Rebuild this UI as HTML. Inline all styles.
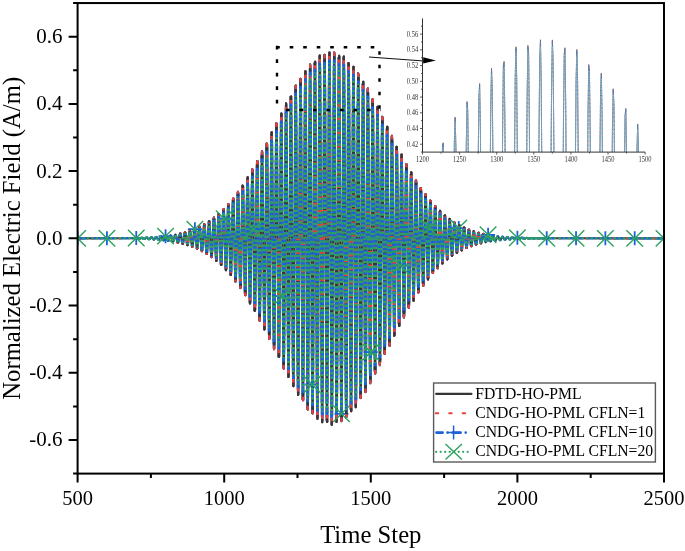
<!DOCTYPE html><html><head><meta charset="utf-8"><style>html,body{margin:0;padding:0;background:#fff;}body{width:685px;height:551px;overflow:hidden;}svg{display:block;will-change:transform;}text{font-family:"Liberation Serif",serif;}</style></head><body><svg width="685" height="551" viewBox="0 0 685 551"><defs><clipPath id="pc"><rect x="77.6" y="3.05" width="586.40" height="470.55"/></clipPath><clipPath id="ic"><rect x="422.5" y="18.4" width="222.60" height="133.70"/></clipPath></defs><g clip-path="url(#pc)" fill="none" stroke-linejoin="round"><polyline points="77.60,238.33 136.24,238.07 136.53,237.95 136.83,237.89 137.12,237.89 137.41,237.96 137.71,238.08 138.00,238.24 138.29,238.42 138.59,238.59 138.88,238.73 139.17,238.82 139.47,238.83 139.76,238.78 140.05,238.65 140.34,238.47 140.64,238.26 140.93,238.05 141.22,237.88 141.52,237.77 141.81,237.73 142.10,237.78 142.40,237.92 142.69,238.11 142.98,238.35 143.28,238.59 143.57,238.80 143.86,238.95 144.16,239.01 144.45,238.97 144.74,238.84 145.04,238.62 145.33,238.35 145.62,238.07 145.92,237.82 146.21,237.63 146.50,237.54 146.80,237.56 147.09,237.69 147.38,237.93 147.67,238.23 147.97,238.55 148.26,238.85 148.55,239.09 148.85,239.22 149.14,239.22 149.43,239.09 149.73,238.85 150.02,238.51 150.31,238.14 150.61,237.78 150.90,237.49 151.19,237.31 151.49,237.28 151.78,237.40 152.07,237.66 152.37,238.03 152.66,238.45 152.95,238.87 153.25,239.22 153.54,239.46 153.83,239.53 154.13,239.43 154.42,239.16 154.71,238.76 155.00,238.28 155.30,237.80 155.59,237.37 155.88,237.07 156.18,236.95 156.47,237.02 156.76,237.29 157.06,237.72 157.35,238.26 157.64,238.82 157.94,239.33 158.23,239.70 158.52,239.89 158.82,239.85 159.11,239.59 159.40,239.13 159.70,238.53 159.99,237.89 160.28,237.29 160.58,236.82 160.87,236.56 161.16,236.55 161.46,236.80 161.75,237.29 162.04,237.94 162.33,238.67 162.63,239.37 162.92,239.95 163.21,240.30 163.51,240.37 163.80,240.14 164.09,239.64 164.39,238.93 164.68,238.10 164.97,237.29 165.27,236.60 165.56,236.14 165.85,235.99 166.15,236.18 166.44,236.69 166.73,237.46 167.03,238.38 167.32,239.32 167.61,240.14 167.91,240.73 168.20,240.97 168.49,240.84 168.79,240.32 169.08,239.50 169.37,238.48 169.66,237.41 169.96,236.44 170.25,235.71 170.54,235.35 170.84,235.41 171.13,235.91 171.42,236.78 171.72,237.90 172.01,239.12 172.30,240.25 172.60,241.14 172.89,241.65 173.18,241.67 173.48,241.21 173.77,240.30 174.06,239.08 174.36,237.71 174.65,236.39 174.94,235.32 175.24,234.65 175.53,234.51 175.82,234.92 176.12,235.85 176.41,237.17 176.70,238.70 176.99,240.21 177.29,241.50 177.58,242.36 177.87,242.64 178.17,242.30 178.46,241.37 178.75,239.96 179.05,238.27 179.34,236.54 179.63,235.02 179.93,233.94 180.22,233.48 180.51,233.71 180.81,234.64 181.10,236.13 181.39,237.99 181.69,239.95 181.98,241.72 182.27,243.05 182.57,243.72 182.86,243.62 183.15,242.73 183.45,241.17 183.74,239.15 184.03,236.95 184.32,234.89 184.62,233.28 184.91,232.36 185.20,232.30 185.50,233.12 185.79,234.73 186.08,236.91 186.38,239.36 186.67,241.73 186.96,243.66 187.26,244.86 187.55,245.13 187.84,244.41 188.14,242.78 188.43,240.45 188.72,237.74 189.02,235.04 189.31,232.76 189.60,231.23 189.90,230.70 190.19,231.28 190.48,232.91 190.78,235.38 191.07,238.35 191.36,241.39 191.65,244.07 191.95,245.97 192.24,246.80 192.53,246.41 192.83,244.82 193.12,242.23 193.41,239.00 193.71,235.59 194.00,232.49 194.29,230.17 194.59,228.98 194.88,229.14 195.17,230.65 195.47,233.32 195.76,236.81 196.05,240.60 196.35,244.16 196.64,246.95 196.93,248.55 197.23,248.68 197.52,247.30 197.81,244.57 198.11,240.85 198.40,236.66 198.69,232.62 198.98,229.31 199.28,227.24 199.57,226.74 199.86,227.93 200.16,230.68 200.45,234.62 200.74,239.20 201.04,243.77 201.33,247.65 201.62,250.26 201.92,251.18 202.21,250.23 202.50,247.52 202.80,243.39 203.09,238.42 203.38,233.31 203.68,228.81 203.97,225.60 204.26,224.18 204.56,224.80 204.85,227.42 205.14,231.71 205.44,237.06 205.73,242.73 206.02,247.89 206.31,251.77 206.61,253.77 206.90,253.55 207.19,251.09 207.49,246.70 207.78,240.98 208.07,234.74 208.37,228.87 208.66,224.26 208.95,221.60 209.25,221.33 209.54,223.55 209.83,227.98 210.13,234.04 210.42,240.86 210.71,247.47 211.01,252.89 211.30,256.29 211.59,257.14 211.89,255.25 212.18,250.84 212.47,244.49 212.77,237.09 213.06,229.71 213.35,223.43 213.64,219.18 213.94,217.65 214.23,219.12 214.52,223.43 214.82,230.02 215.11,237.97 215.40,246.15 215.70,253.37 215.99,258.54 216.28,260.85 216.58,259.92 216.87,255.81 217.16,249.04 217.46,240.55 217.75,231.56 218.04,223.36 218.34,217.18 218.63,213.97 218.92,214.25 219.22,218.07 219.51,224.93 219.80,233.91 220.10,243.72 220.39,252.94 220.68,260.22 220.97,264.45 221.27,264.94 221.56,261.54 221.85,254.67 222.15,245.26 222.44,234.65 222.73,224.35 223.03,215.88 223.32,210.53 223.61,209.14 223.91,212.00 224.20,218.76 224.49,228.53 224.79,239.93 225.08,251.33 225.37,261.05 225.67,267.64 225.96,270.07 226.25,267.90 226.55,261.36 226.84,251.32 227.13,239.18 227.43,226.67 227.72,215.62 228.01,207.68 228.30,204.07 228.60,205.40 228.89,211.57 229.18,221.78 229.48,234.61 229.77,248.23 230.06,260.66 230.36,270.06 230.65,275.00 230.94,274.67 231.24,269.01 231.53,258.76 231.82,245.32 232.12,230.61 232.41,216.75 232.70,205.78 233.00,199.37 233.29,198.54 233.58,203.52 233.88,213.67 234.17,227.62 234.46,243.39 234.76,258.71 235.05,271.33 235.34,279.35 235.63,281.52 235.93,277.41 236.22,267.51 236.51,253.16 236.81,236.39 237.10,219.60 237.39,205.25 237.69,195.48 237.98,191.80 238.27,194.85 238.57,204.32 238.86,218.92 239.15,236.62 239.45,254.87 239.74,271.02 240.03,282.68 240.33,288.05 240.62,286.24 240.91,277.41 241.21,262.70 241.50,244.19 241.79,224.50 242.09,206.50 242.38,192.85 242.67,185.61 242.96,185.95 243.26,193.96 243.55,208.57 243.84,227.78 244.14,248.85 244.43,268.73 244.72,284.49 245.02,293.76 245.31,295.09 245.60,288.15 245.90,273.81 246.19,254.06 246.48,231.70 246.78,209.94 247.07,191.98 247.36,180.51 247.66,177.29 247.95,182.94 248.24,196.77 248.54,216.88 248.83,240.44 249.12,264.06 249.42,284.28 249.71,298.11 250.00,303.42 250.29,299.31 250.59,286.23 250.88,265.96 251.17,241.34 251.47,215.91 251.76,193.37 252.05,177.05 252.35,169.44 252.64,171.76 252.93,183.84 253.23,204.05 253.52,229.56 253.81,256.72 254.11,281.60 254.40,300.52 254.69,310.65 254.99,310.36 255.28,299.56 255.57,279.66 255.87,253.45 256.16,224.66 256.45,197.45 256.75,175.83 257.04,163.01 257.33,161.01 257.62,170.26 257.92,189.57 258.21,216.26 258.50,246.53 258.80,276.03 259.09,300.43 259.38,316.10 259.68,320.64 259.97,313.23 260.26,294.80 260.56,267.89 260.85,236.30 261.14,204.59 261.44,177.38 261.73,158.69 262.02,151.38 262.32,156.65 262.61,173.90 262.90,200.77 263.20,233.46 263.49,267.28 263.78,297.31 264.08,319.12 264.37,329.43 264.66,326.59 264.95,310.84 265.25,284.32 265.54,250.77 265.83,214.99 266.13,182.16 266.42,157.13 266.71,143.62 267.01,143.75 267.30,157.66 267.59,183.51 267.89,217.65 268.18,255.21 268.47,290.76 268.77,319.09 269.06,335.98 269.35,338.84 269.65,327.09 269.94,302.26 270.23,267.83 270.53,228.70 270.82,190.53 271.11,158.89 271.41,138.46 271.70,132.35 271.99,141.61 272.28,165.07 272.58,199.45 272.87,239.88 273.16,280.53 273.46,315.47 273.75,339.56 274.04,349.16 274.34,342.72 274.63,321.01 274.92,287.02 275.22,245.58 275.51,202.65 275.80,164.46 276.10,136.63 276.39,123.31 276.68,126.61 276.98,146.21 277.27,179.43 277.56,221.55 277.86,266.55 278.15,307.88 278.44,339.51 278.74,356.72 279.03,356.86 279.32,339.74 279.61,307.70 279.91,265.24 280.20,218.46 280.49,174.12 280.79,138.70 281.08,117.44 281.37,113.58 281.67,127.84 281.96,158.31 282.25,200.71 282.55,248.97 282.84,296.13 283.13,335.30 283.43,360.72 283.72,368.55 284.01,357.51 284.31,329.02 284.60,287.09 284.89,237.69 285.19,187.96 285.48,145.12 285.77,115.47 286.07,103.45 286.36,110.94 286.65,137.03 286.94,178.07 287.24,228.22 287.53,280.25 287.82,326.61 288.12,360.51 288.41,376.91 288.70,373.29 289.00,350.01 289.29,310.30 289.58,259.81 289.88,205.80 290.17,156.10 290.46,117.98 290.76,97.06 291.05,96.53 291.34,116.61 291.64,154.54 291.93,204.93 292.22,260.55 292.52,313.35 292.81,355.62 293.10,381.15 293.40,386.09 293.69,369.59 293.98,333.89 294.27,284.05 294.57,227.22 294.86,171.61 295.15,125.32 295.45,95.14 295.74,85.57 296.03,98.13 296.33,131.16 296.62,179.97 296.91,237.58 297.21,295.67 297.50,345.80 297.79,380.63 298.09,394.99 298.38,386.69 298.67,356.77 298.97,309.46 299.26,251.53 299.55,191.33 299.85,137.61 300.14,98.20 300.43,78.92 300.73,82.68 301.02,109.08 301.31,154.40 301.60,212.16 301.90,274.05 302.19,331.08 302.48,374.96 302.78,399.22 303.07,400.25 303.36,377.76 303.66,334.91 303.95,277.81 304.24,214.68 304.54,154.67 304.83,106.51 305.12,77.25 305.42,71.24 305.71,89.46 306.00,129.38 306.30,185.31 306.59,249.19 306.88,311.80 307.18,364.02 307.47,398.22 307.76,409.37 308.06,395.74 308.35,359.19 308.64,304.95 308.93,240.80 309.23,176.03 309.52,120.04 309.81,80.99 310.11,64.61 310.40,73.39 310.69,106.13 310.99,158.19 311.28,222.07 311.57,288.55 311.87,347.98 312.16,391.72 312.45,413.35 312.75,409.66 313.04,381.10 313.33,331.72 313.63,268.63 313.92,200.94 314.21,138.45 314.51,90.26 314.80,63.40 315.09,61.83 315.39,85.86 315.68,132.07 315.97,193.84 316.26,262.23 316.56,327.34 316.85,379.72 317.14,411.73 317.44,418.67 317.73,399.48 318.02,356.86 318.32,296.95 318.61,228.40 318.90,161.12 319.20,104.89 319.49,67.88 319.78,55.51 320.08,69.62 320.37,108.22 320.66,165.76 320.96,233.93 321.25,302.87 321.54,362.58 321.84,404.38 322.13,422.18 322.42,413.35 322.72,379.14 323.01,324.46 323.30,257.22 323.59,187.14 323.89,124.38 324.18,78.05 324.47,54.90 324.77,58.30 325.06,87.79 325.35,139.14 325.65,204.91 325.94,275.59 326.23,340.94 326.53,391.48 326.82,419.86 327.11,421.96 327.41,397.46 327.70,349.88 327.99,286.11 328.29,215.38 328.58,147.93 328.87,93.56 329.17,60.13 329.46,52.51 329.75,71.81 330.05,115.23 330.34,176.49 330.63,246.71 330.92,315.73 331.22,373.53 331.51,411.75 331.80,424.84 332.10,410.92 332.39,372.00 332.68,313.74 332.98,244.57 333.27,174.52 333.56,113.75 333.86,71.04 334.15,52.58 334.44,61.03 334.74,95.15 335.03,149.97 335.32,217.54 335.62,288.07 335.91,351.33 336.20,398.17 336.50,421.83 336.79,418.89 337.08,389.82 337.38,338.85 337.67,273.39 337.96,202.94 338.25,137.70 338.55,87.12 338.84,58.49 339.13,55.94 339.43,79.79 339.72,126.55 340.01,189.40 340.31,259.23 340.60,325.91 340.89,379.80 341.19,413.11 341.48,421.06 341.77,402.56 342.07,360.33 342.36,300.53 342.65,231.86 342.95,164.28 343.24,107.56 343.53,69.90 343.83,56.69 344.12,69.79 344.41,107.23 344.71,163.55 345.00,230.54 345.29,298.48 345.58,357.53 345.88,399.18 346.17,417.44 346.46,409.75 346.76,377.28 347.05,324.81 347.34,259.99 347.64,192.24 347.93,131.36 348.22,86.15 348.52,63.09 348.81,65.45 349.10,92.80 349.40,141.10 349.69,203.29 349.98,270.32 350.28,332.49 350.57,380.82 350.86,408.37 351.16,411.23 351.45,389.08 351.74,345.22 352.04,286.08 352.33,220.27 352.62,157.34 352.91,106.36 353.21,74.68 353.50,66.78 353.79,83.71 354.09,122.91 354.38,178.63 354.67,242.73 354.97,305.91 355.26,359.03 355.55,394.47 355.85,407.18 356.14,395.42 356.43,361.03 356.73,309.06 357.02,247.13 357.31,184.22 357.61,129.45 357.90,90.68 358.19,73.44 358.49,80.11 358.78,109.61 359.07,157.55 359.37,216.90 359.66,279.03 359.95,334.95 360.24,376.60 360.54,398.05 360.83,396.31 361.12,371.76 361.42,328.07 361.71,271.67 362.00,210.78 362.30,154.22 362.59,110.15 362.88,84.84 363.18,81.86 363.47,101.49 363.76,140.76 364.06,193.87 364.35,253.08 364.64,309.79 364.94,355.81 365.23,384.58 365.52,392.05 365.82,377.27 366.11,342.53 366.40,292.97 366.70,235.85 366.99,179.48 367.28,131.98 367.57,100.15 367.87,88.50 368.16,98.55 368.45,128.71 368.75,174.48 369.04,229.14 369.33,284.73 369.63,333.23 369.92,367.68 370.21,383.20 370.51,377.71 370.80,352.13 371.09,310.33 371.39,258.44 371.68,204.05 371.97,155.02 372.27,118.39 372.56,99.35 372.85,100.51 373.15,121.55 373.44,159.27 373.73,208.09 374.03,260.89 374.32,310.00 374.61,348.38 374.90,370.56 375.20,373.48 375.49,356.88 375.78,323.32 376.08,277.78 376.37,226.93 376.66,178.16 376.96,138.49 377.25,113.56 377.54,106.84 377.84,119.14 378.13,148.53 378.42,190.61 378.72,239.19 379.01,287.22 379.30,327.76 379.60,355.03 379.89,365.23 380.18,357.04 380.48,331.80 380.77,293.32 381.06,247.26 381.36,200.36 381.65,159.37 381.94,130.15 382.23,116.81 382.53,121.12 382.82,142.28 383.11,177.08 383.41,220.37 383.70,265.83 383.99,306.87 384.29,337.62 384.58,353.75 384.87,353.08 385.17,335.88 385.46,304.79 385.75,264.44 386.05,220.74 386.34,180.03 386.63,148.14 386.93,129.58 387.22,126.88 387.51,140.28 387.81,167.66 388.10,204.93 388.39,246.62 388.69,286.66 388.98,319.31 389.27,339.93 389.56,345.68 389.86,335.91 390.15,312.18 390.44,278.08 390.74,238.63 391.03,199.57 391.32,166.54 391.62,144.23 391.91,135.72 392.20,142.09 392.50,162.25 392.79,193.13 393.08,230.17 393.38,267.95 393.67,301.02 393.96,324.67 394.26,335.61 394.55,332.41 394.84,315.69 395.14,288.04 395.43,253.55 395.72,217.29 396.02,184.50 396.31,159.86 396.60,146.82 396.89,147.11 397.19,160.54 397.48,185.00 397.77,216.83 398.07,251.36 398.36,283.58 398.65,308.87 398.95,323.69 399.24,326.04 399.53,315.72 399.83,294.40 400.12,265.28 400.41,232.65 400.71,201.27 401.00,175.63 401.29,159.35 401.59,154.65 401.88,162.06 402.17,180.35 402.47,206.73 402.76,237.31 403.05,267.63 403.35,293.31 403.64,310.74 403.93,317.51 404.22,312.79 404.52,297.42 404.81,273.76 405.10,245.33 405.40,216.28 405.69,190.81 405.98,172.53 406.28,163.98 406.57,166.24 406.86,178.84 407.16,199.82 407.45,226.04 407.74,253.65 408.04,278.66 408.33,297.51 408.62,307.57 408.92,307.53 409.21,297.53 409.50,279.16 409.80,255.19 410.09,229.15 410.38,204.81 410.68,185.65 410.97,174.36 411.26,172.43 411.55,180.01 411.85,195.86 412.14,217.58 412.43,241.95 412.73,265.43 413.02,284.65 413.31,296.92 413.61,300.57 413.90,295.22 414.19,281.77 414.49,262.28 414.78,239.65 415.07,217.19 415.37,198.12 415.66,185.13 415.95,179.99 416.25,183.32 416.54,194.50 416.83,211.81 417.13,232.65 417.42,253.97 417.71,272.69 418.01,286.17 418.30,292.56 418.59,291.05 418.88,281.98 419.18,266.79 419.47,247.76 419.76,227.69 420.06,209.48 420.35,195.71 420.64,188.30 420.94,188.21 421.23,195.31 421.52,208.48 421.82,225.71 422.11,244.47 422.40,262.02 422.70,275.86 422.99,284.08 423.28,285.58 423.58,280.27 423.87,269.02 424.16,253.56 424.46,236.18 424.75,219.41 425.04,205.65 425.34,196.83 425.63,194.12 425.92,197.81 426.21,207.26 426.51,221.00 426.80,236.98 427.09,252.87 427.39,266.38 427.68,275.63 427.97,279.35 428.27,277.11 428.56,269.34 428.85,257.26 429.15,242.68 429.44,227.74 429.73,214.60 430.03,205.11 430.32,200.56 430.61,201.52 430.91,207.74 431.20,218.24 431.49,231.43 431.79,245.36 432.08,258.02 432.37,267.61 432.67,272.81 432.96,272.97 433.25,268.15 433.54,259.14 433.84,247.31 434.13,234.43 434.42,222.35 434.72,212.79 435.01,207.09 435.30,205.98 435.60,209.53 435.89,217.15 436.18,227.66 436.48,239.49 436.77,250.92 437.06,260.32 437.36,266.38 437.65,268.29 437.94,265.86 438.24,259.53 438.53,250.29 438.82,239.51 439.12,228.78 439.41,219.64 439.70,213.36 440.00,210.79 440.29,212.23 440.58,217.38 440.87,225.43 441.17,235.16 441.46,245.15 441.75,253.96 442.05,260.34 442.34,263.43 442.63,262.85 442.93,258.77 443.22,251.84 443.51,243.12 443.81,233.90 444.10,225.50 444.39,219.12 444.69,215.63 444.98,215.46 445.27,218.58 445.57,224.47 445.86,232.22 446.15,240.67 446.45,248.61 446.74,254.90 447.03,258.68 447.33,259.46 447.62,257.19 447.91,252.27 448.20,245.45 448.50,237.76 448.79,230.32 449.08,224.19 449.38,220.22 449.67,218.94 449.96,220.46 450.26,224.51 450.55,230.45 450.84,237.39 451.14,244.30 451.43,250.21 451.72,254.28 452.02,255.97 452.31,255.09 452.60,251.83 452.90,246.71 453.19,240.51 453.48,234.13 453.78,228.50 454.07,224.40 454.36,222.40 454.66,222.72 454.95,225.27 455.24,229.64 455.53,235.15 455.83,240.98 456.12,246.30 456.41,250.35 456.71,252.59 457.00,252.72 457.29,250.80 457.59,247.13 457.88,242.28 458.17,236.99 458.47,232.01 458.76,228.05 459.05,225.66 459.35,225.14 459.64,226.52 459.93,229.56 460.23,233.78 460.52,238.55 460.81,243.18 461.11,246.99 461.40,249.47 461.69,250.30 461.99,249.39 462.28,246.92 462.57,243.27 462.86,239.01 463.16,234.76 463.45,231.12 463.74,228.60 464.04,227.54 464.33,228.04 464.62,230.01 464.92,233.12 465.21,236.90 465.50,240.79 465.80,244.22 466.09,246.73 466.38,247.97 466.68,247.80 466.97,246.27 467.26,243.65 467.56,240.33 467.85,236.81 468.14,233.59 468.44,231.14 468.73,229.77 469.02,229.67 469.32,230.80 469.61,232.99 469.90,235.88 470.19,239.05 470.49,242.03 470.78,244.40 471.07,245.84 471.37,246.17 471.66,245.37 471.95,243.58 472.25,241.09 472.54,238.26 472.83,235.52 473.13,233.25 473.42,231.77 473.71,231.27 474.01,231.78 474.30,233.23 474.59,235.36 474.89,237.86 475.18,240.36 475.47,242.50 475.77,243.99 476.06,244.62 476.35,244.34 476.65,243.21 476.94,241.41 477.23,239.21 477.52,236.95 477.82,234.95 478.11,233.48 478.40,232.75 478.70,232.83 478.99,233.70 479.28,235.21 479.58,237.12 479.87,239.15 480.16,241.00 480.46,242.42 480.75,243.22 481.04,243.29 481.34,242.65 481.63,241.41 481.92,239.77 482.22,237.96 482.51,236.25 482.80,234.89 483.10,234.06 483.39,233.86 483.68,234.31 483.98,235.32 484.27,236.72 484.56,238.32 484.85,239.87 485.15,241.16 485.44,242.00 485.73,242.30 486.03,242.02 486.32,241.21 486.61,240.02 486.91,238.62 487.20,237.22 487.49,236.02 487.79,235.18 488.08,234.81 488.37,234.96 488.67,235.59 488.96,236.58 489.25,237.80 489.55,239.06 489.84,240.17 490.13,240.99 490.43,241.40 490.72,241.36 491.01,240.89 491.31,240.07 491.60,239.02 491.89,237.90 492.18,236.88 492.48,236.09 492.77,235.65 493.06,235.60 493.36,235.95 493.65,236.62 493.94,237.52 494.24,238.50 494.53,239.43 494.82,240.17 495.12,240.63 495.41,240.74 495.70,240.51 496.00,239.97 496.29,239.21 496.58,238.35 496.88,237.51 497.17,236.81 497.46,236.35 497.76,236.19 498.05,236.34 498.34,236.76 498.64,237.40 498.93,238.15 499.22,238.90 499.51,239.54 499.81,239.99 500.10,240.19 500.39,240.12 500.69,239.79 500.98,239.26 501.27,238.62 501.57,237.95 501.86,237.36 502.15,236.93 502.45,236.70 502.74,236.72 503.03,236.97 503.33,237.40 503.62,237.95 503.91,238.53 504.21,239.07 504.50,239.49 504.79,239.72 505.09,239.75 505.38,239.57 505.67,239.22 505.97,238.76 506.26,238.25 506.55,237.76 506.84,237.37 507.14,237.13 507.43,237.07 507.72,237.19 508.02,237.47 508.31,237.86 508.60,238.30 508.90,238.73 509.19,239.09 509.48,239.33 509.78,239.42 510.07,239.35 510.36,239.13 510.66,238.81 510.95,238.43 511.24,238.04 511.54,237.71 511.83,237.48 512.12,237.38 512.42,237.41 512.71,237.58 513.00,237.84 513.30,238.17 513.59,238.50 513.88,238.80 514.17,239.03 514.47,239.14 514.76,239.13 515.05,239.01 515.35,238.80 515.64,238.52 515.93,238.23 516.23,237.96 516.52,237.75 516.81,237.63 517.11,237.61 517.40,237.70 517.69,237.87 517.99,238.10 518.28,238.36 518.57,238.60 518.87,238.79 519.16,238.91 519.45,238.94 519.75,238.89 520.04,238.75 520.33,238.56 520.63,238.34 520.92,238.13 521.21,237.95 521.50,237.83 521.80,237.79 522.09,237.82 522.38,237.93 522.68,238.09 522.97,238.27 523.26,238.46 523.56,238.62 523.85,238.73 524.14,238.78 524.44,238.77 524.73,238.69 525.02,238.56 525.32,238.41 525.61,238.24 525.90,238.10 526.20,237.99 526.49,237.93 526.78,237.94 527.08,237.99 527.37,238.10 527.66,238.23 527.96,238.37 528.25,238.50 528.54,238.60 528.83,238.66 529.13,238.66 529.42,238.62 529.71,238.54 530.01,238.43 530.30,238.31 530.59,238.20 530.89,238.11 531.18,238.05 531.47,238.03 531.77,238.06 532.06,238.12 532.35,238.21 532.65,238.31 532.94,238.41 533.23,238.50 533.53,238.55 533.82,238.58 534.11,238.56 534.41,238.51 534.70,238.44 534.99,238.35 535.29,238.27 535.58,238.19 535.87,238.14 536.16,238.11 536.46,238.12 536.75,238.16 537.04,238.21 537.34,238.29 537.63,238.36 537.92,238.43 538.22,238.48 538.51,238.50 538.80,238.50 539.10,238.48 539.39,238.43 539.68,238.37 539.98,238.31 540.27,238.25 540.56,238.20 540.86,238.18 541.15,238.17 541.44,238.19 541.74,238.23 542.03,238.27 542.32,238.33 542.62,238.38 542.91,238.42 543.20,238.45 543.49,238.46 543.79,238.45 544.08,238.42 544.37,238.38 544.67,238.33 544.96,238.29 545.25,238.25 545.55,238.22 545.84,238.21 546.13,238.22 546.43,238.24 546.72,238.27 664.00,238.33" stroke="#353535" stroke-width="2.15"/><path d="M77.60 238.33L136.24 238.07L136.53 237.95L136.83 237.89L137.12 237.89L137.41 237.96L137.71 238.08L138.00 238.24L138.14 238.33M544.71 238.33L544.96 238.29L545.25 238.25L545.55 238.22L545.84 238.21L546.13 238.22L546.43 238.24L546.72 238.27L664.00 238.33" stroke="#e8403c" stroke-width="2.15" stroke-dasharray="4 9.5"/><path d="M138.14 238.33L138.29 238.42L138.59 238.59L138.88 238.73L139.17 238.82L139.47 238.83L139.76 238.78L140.05 238.65L140.34 238.47L140.54 238.32M140.54 238.32L140.64 238.26L140.93 238.05L141.22 237.88L141.52 237.77L141.81 237.73L142.10 237.78L142.40 237.92L142.69 238.11L142.95 238.33M142.95 238.33L142.98 238.35L143.28 238.59L143.57 238.80L143.86 238.95L144.16 239.01L144.45 238.97L144.74 238.84L145.04 238.62L145.33 238.35L145.36 238.33M145.36 238.33L145.62 238.07L145.92 237.82L146.21 237.63L146.50 237.54L146.80 237.56L147.09 237.69L147.38 237.93L147.67 238.23L147.76 238.33M147.76 238.33L147.97 238.55L148.26 238.85L148.55 239.09L148.85 239.22L149.14 239.22L149.43 239.09L149.73 238.85L150.02 238.51L150.17 238.32M150.17 238.32L150.31 238.14L150.61 237.78L150.90 237.49L151.19 237.31L151.49 237.28L151.78 237.40L152.07 237.66L152.37 238.03L152.57 238.33M152.57 238.33L152.66 238.45L152.95 238.87L153.25 239.22L153.54 239.46L153.83 239.53L154.13 239.43L154.42 239.16L154.71 238.76L154.98 238.33M154.98 238.33L155.00 238.28L155.30 237.80L155.59 237.37L155.88 237.07L156.18 236.95L156.47 237.02L156.76 237.29L157.06 237.72L157.35 238.26L157.39 238.33M157.39 238.33L157.64 238.82L157.94 239.33L158.23 239.70L158.52 239.89L158.82 239.85L159.11 239.59L159.40 239.13L159.70 238.53L159.79 238.33M159.79 238.33L159.99 237.89L160.28 237.29L160.58 236.82L160.87 236.56L161.16 236.55L161.46 236.80L161.75 237.29L162.04 237.94L162.20 238.33M162.20 238.33L162.33 238.67L162.63 239.37L162.92 239.95L163.21 240.30L163.51 240.37L163.80 240.14L164.09 239.64L164.39 238.93L164.60 238.33M164.60 238.33L164.68 238.10L164.97 237.29L165.27 236.60L165.56 236.14L165.85 235.99L166.15 236.18L166.44 236.69L166.73 237.46L167.01 238.33M167.01 238.33L167.03 238.38L167.32 239.32L167.61 240.14L167.91 240.73L168.20 240.97L168.49 240.84L168.79 240.32L169.08 239.50L169.37 238.48L169.41 238.33M169.41 238.33L169.66 237.41L169.96 236.44L170.25 235.71L170.54 235.35L170.84 235.41L171.13 235.91L171.42 236.78L171.72 237.90L171.82 238.33M171.82 238.33L172.01 239.12L172.30 240.25L172.60 241.14L172.89 241.65L173.18 241.67L173.48 241.21L173.77 240.30L174.06 239.08L174.22 238.33M174.22 238.33L174.36 237.71L174.65 236.39L174.94 235.32L175.24 234.65L175.53 234.51L175.82 234.92L176.12 235.85L176.41 237.17L176.63 238.33M185.20 232.30L184.91 232.36L184.62 233.28L184.32 234.89L184.03 236.95L183.85 238.33M185.20 232.30L185.50 233.12L185.79 234.73L186.08 236.91L186.25 238.32M194.59 228.98L194.29 230.17L194.00 232.49L193.71 235.59L193.47 238.33M194.59 228.98L194.88 229.14L195.17 230.65L195.47 233.32L195.76 236.81L195.88 238.33M250.00 303.42L249.71 298.11L249.42 284.28L249.12 264.06L248.83 240.44L248.80 238.33M250.00 303.42L250.29 299.31L250.59 286.23L250.88 265.96L251.17 241.34L251.21 238.33M259.68 320.64L259.38 316.10L259.09 300.43L258.80 276.03L258.50 246.53L258.42 238.33M259.68 320.64L259.97 313.23L260.26 294.80L260.56 267.89L260.83 238.33M300.43 78.92L300.14 98.20L299.85 137.61L299.55 191.33L299.32 238.32M300.43 78.92L300.73 82.68L301.02 109.08L301.31 154.40L301.60 212.16L301.73 238.32M303.07 400.25L302.78 399.22L302.48 374.96L302.19 331.08L301.90 274.05L301.73 238.32M303.07 400.25L303.36 377.76L303.66 334.91L303.95 277.81L304.13 238.33M346.17 417.44L345.88 399.18L345.58 357.53L345.29 298.48L345.03 238.33M346.17 417.44L346.46 409.75L346.76 377.28L347.05 324.81L347.34 259.99L347.44 238.33M391.91 135.72L391.62 144.23L391.32 166.54L391.03 199.57L390.74 238.33M391.91 135.72L392.20 142.09L392.50 162.25L392.79 193.13L393.08 230.17L393.15 238.32M411.26 172.43L410.97 174.36L410.68 185.65L410.38 204.81L410.09 229.15L409.99 238.33M411.26 172.43L411.55 180.01L411.85 195.86L412.14 217.58L412.39 238.33M413.61 300.57L413.31 296.92L413.02 284.65L412.73 265.43L412.43 241.95L412.39 238.33M413.61 300.57L413.90 295.22L414.19 281.77L414.49 262.28L414.78 239.65L414.80 238.32M427.97 279.35L427.68 275.63L427.39 266.38L427.09 252.87L426.83 238.32M427.97 279.35L428.27 277.11L428.56 269.34L428.85 257.26L429.15 242.68L429.23 238.33M464.04 227.54L463.74 228.60L463.45 231.12L463.16 234.76L462.91 238.33M464.04 227.54L464.33 228.04L464.62 230.01L464.92 233.12L465.21 236.90L465.32 238.33M471.37 246.17L471.07 245.84L470.78 244.40L470.49 242.03L470.19 239.05L470.13 238.33M471.37 246.17L471.66 245.37L471.95 243.58L472.25 241.09L472.53 238.33M484.56 238.33L484.85 239.87L485.15 241.16L485.44 242.00L485.73 242.30L486.03 242.02L486.32 241.21L486.61 240.02L486.91 238.62L486.97 238.32M486.97 238.32L487.20 237.22L487.49 236.02L487.79 235.18L488.08 234.81L488.37 234.96L488.67 235.59L488.96 236.58L489.25 237.80L489.38 238.33M489.38 238.33L489.55 239.06L489.84 240.17L490.13 240.99L490.43 241.40L490.72 241.36L491.01 240.89L491.31 240.07L491.60 239.02L491.78 238.33M491.78 238.33L491.89 237.90L492.18 236.88L492.48 236.09L492.77 235.65L493.06 235.60L493.36 235.95L493.65 236.62L493.94 237.52L494.19 238.32M494.19 238.32L494.24 238.50L494.53 239.43L494.82 240.17L495.12 240.63L495.41 240.74L495.70 240.51L496.00 239.97L496.29 239.21L496.58 238.35L496.59 238.33M496.59 238.33L496.88 237.51L497.17 236.81L497.46 236.35L497.76 236.19L498.05 236.34L498.34 236.76L498.64 237.40L498.93 238.15L499.00 238.33M499.00 238.33L499.22 238.90L499.51 239.54L499.81 239.99L500.10 240.19L500.39 240.12L500.69 239.79L500.98 239.26L501.27 238.62L501.40 238.32M501.40 238.32L501.57 237.95L501.86 237.36L502.15 236.93L502.45 236.70L502.74 236.72L503.03 236.97L503.33 237.40L503.62 237.95L503.81 238.33M503.81 238.33L503.91 238.53L504.21 239.07L504.50 239.49L504.79 239.72L505.09 239.75L505.38 239.57L505.67 239.22L505.97 238.76L506.21 238.32M506.21 238.32L506.26 238.25L506.55 237.76L506.84 237.37L507.14 237.13L507.43 237.07L507.72 237.19L508.02 237.47L508.31 237.86L508.60 238.30L508.62 238.33M508.62 238.33L508.90 238.73L509.19 239.09L509.48 239.33L509.78 239.42L510.07 239.35L510.36 239.13L510.66 238.81L510.95 238.43L511.03 238.32M511.03 238.32L511.24 238.04L511.54 237.71L511.83 237.48L512.12 237.38L512.42 237.41L512.71 237.58L513.00 237.84L513.30 238.17L513.43 238.33M513.43 238.33L513.59 238.50L513.88 238.80L514.17 239.03L514.47 239.14L514.76 239.13L515.05 239.01L515.35 238.80L515.64 238.52L515.84 238.33M515.84 238.33L515.93 238.23L516.23 237.96L516.52 237.75L516.81 237.63L517.11 237.61L517.40 237.70L517.69 237.87L517.99 238.10L518.24 238.33M518.24 238.33L518.28 238.36L518.57 238.60L518.87 238.79L519.16 238.91L519.45 238.94L519.75 238.89L520.04 238.75L520.33 238.56L520.63 238.34L520.65 238.32M520.65 238.32L520.92 238.13L521.21 237.95L521.50 237.83L521.80 237.79L522.09 237.82L522.38 237.93L522.68 238.09L522.97 238.27L523.06 238.33M523.06 238.33L523.26 238.46L523.56 238.62L523.85 238.73L524.14 238.78L524.44 238.77L524.73 238.69L525.02 238.56L525.32 238.41L525.46 238.33M525.46 238.33L525.61 238.24L525.90 238.10L526.20 237.99L526.49 237.93L526.78 237.94L527.08 237.99L527.37 238.10L527.66 238.23L527.87 238.32M527.87 238.32L527.96 238.37L528.25 238.50L528.54 238.60L528.83 238.66L529.13 238.66L529.42 238.62L529.71 238.54L530.01 238.43L530.27 238.33M530.27 238.33L530.30 238.31L530.59 238.20L530.89 238.11L531.18 238.05L531.47 238.03L531.77 238.06L532.06 238.12L532.35 238.21L532.65 238.31L532.68 238.33M532.68 238.33L532.94 238.41L533.23 238.50L533.53 238.55L533.82 238.58L534.11 238.56L534.41 238.51L534.70 238.44L534.99 238.35L535.08 238.33M535.08 238.33L535.29 238.27L535.58 238.19L535.87 238.14L536.16 238.11L536.46 238.12L536.75 238.16L537.04 238.21L537.34 238.29L537.49 238.33M537.49 238.33L537.63 238.36L537.92 238.43L538.22 238.48L538.51 238.50L538.80 238.50L539.10 238.48L539.39 238.43L539.68 238.37L539.89 238.33M539.89 238.33L539.98 238.31L540.27 238.25L540.56 238.20L540.86 238.18L541.15 238.17L541.44 238.19L541.74 238.23L542.03 238.27L542.30 238.33M542.30 238.33L542.32 238.33L542.62 238.38L542.91 238.42L543.20 238.45L543.49 238.46L543.79 238.45L544.08 238.42L544.37 238.38L544.67 238.33L544.71 238.33" stroke="#e8403c" stroke-width="2.15" stroke-dasharray="4 9.5" stroke-dashoffset="7.51"/><path d="M180.22 233.48L179.93 233.94L179.63 235.02L179.34 236.54L179.05 238.27L179.04 238.33M180.22 233.48L180.51 233.71L180.81 234.64L181.10 236.13L181.39 237.99L181.44 238.33M449.67 218.94L449.38 220.22L449.08 224.19L448.79 230.32L448.50 237.76L448.48 238.32M449.67 218.94L449.96 220.46L450.26 224.51L450.55 230.45L450.84 237.39L450.88 238.32" stroke="#e8403c" stroke-width="2.15" stroke-dasharray="4 9.5" stroke-dashoffset="4.40"/><path d="M197.23 248.68L196.93 248.55L196.64 246.95L196.35 244.16L196.05 240.60L195.88 238.33M197.23 248.68L197.52 247.30L197.81 244.57L198.11 240.85L198.28 238.33M233.29 198.54L233.00 199.37L232.70 205.78L232.41 216.75L232.12 230.61L231.96 238.33M233.29 198.54L233.58 203.52L233.88 213.67L234.17 227.62L234.37 238.32M264.37 329.43L264.08 319.12L263.78 297.31L263.49 267.28L263.24 238.33M264.37 329.43L264.66 326.59L264.95 310.84L265.25 284.32L265.54 250.77L265.64 238.33M324.47 54.90L324.18 78.05L323.89 124.38L323.59 187.14L323.38 238.33M324.47 54.90L324.77 58.30L325.06 87.79L325.35 139.14L325.65 204.91L325.79 238.33M353.50 66.78L353.21 74.68L352.91 106.36L352.62 157.34L352.33 220.27L352.25 238.33M353.50 66.78L353.79 83.71L354.09 122.91L354.38 178.63L354.65 238.33M372.56 99.35L372.27 118.39L371.97 155.02L371.68 204.05L371.49 238.32M372.56 99.35L372.85 100.51L373.15 121.55L373.44 159.27L373.73 208.09L373.90 238.33M382.23 116.81L381.94 130.15L381.65 159.37L381.36 200.36L381.12 238.32M382.23 116.81L382.53 121.12L382.82 142.28L383.11 177.08L383.41 220.37L383.52 238.32" stroke="#e8403c" stroke-width="2.15" stroke-dasharray="4 9.5" stroke-dashoffset="7.00"/><path d="M182.57 243.72L182.27 243.05L181.98 241.72L181.69 239.95L181.44 238.33M182.57 243.72L182.86 243.62L183.15 242.73L183.45 241.17L183.74 239.15L183.85 238.33M189.90 230.70L189.60 231.23L189.31 232.76L189.02 235.04L188.72 237.74L188.66 238.32M189.90 230.70L190.19 231.28L190.48 232.91L190.78 235.38L191.07 238.33M216.28 260.85L215.99 258.54L215.70 253.37L215.40 246.15L215.12 238.32M216.28 260.85L216.58 259.92L216.87 255.81L217.16 249.04L217.46 240.55L217.53 238.32M218.63 213.97L218.34 217.18L218.04 223.36L217.75 231.56L217.53 238.32M218.63 213.97L218.92 214.25L219.22 218.07L219.51 224.93L219.80 233.91L219.93 238.33M237.98 191.80L237.69 195.48L237.39 205.25L237.10 219.60L236.81 236.39L236.77 238.33M237.98 191.80L238.27 194.85L238.57 204.32L238.86 218.92L239.15 236.62L239.18 238.33M329.46 52.51L329.17 60.13L328.87 93.56L328.58 147.93L328.29 215.38L328.19 238.33M329.46 52.51L329.75 71.81L330.05 115.23L330.34 176.49L330.60 238.32M355.85 407.18L355.55 394.47L355.26 359.03L354.97 305.91L354.67 242.73L354.65 238.33M355.85 407.18L356.14 395.42L356.43 361.03L356.73 309.06L357.02 247.13L357.06 238.33M415.95 179.99L415.66 185.13L415.37 198.12L415.07 217.19L414.80 238.32M415.95 179.99L416.25 183.32L416.54 194.50L416.83 211.81L417.13 232.65L417.20 238.33M483.39 233.86L483.10 234.06L482.80 234.89L482.51 236.25L482.22 237.96L482.16 238.32M483.39 233.86L483.68 234.31L483.98 235.32L484.27 236.72L484.56 238.32L484.56 238.33" stroke="#e8403c" stroke-width="2.15" stroke-dasharray="4 9.5" stroke-dashoffset="7.50"/><path d="M187.55 245.13L187.26 244.86L186.96 243.66L186.67 241.73L186.38 239.36L186.25 238.32M187.55 245.13L187.84 244.41L188.14 242.78L188.43 240.45L188.66 238.32M204.26 224.18L203.97 225.60L203.68 228.81L203.38 233.31L203.09 238.32M204.26 224.18L204.56 224.80L204.85 227.42L205.14 231.71L205.44 237.06L205.50 238.33M235.63 281.52L235.34 279.35L235.05 271.33L234.76 258.71L234.46 243.39L234.37 238.32M235.63 281.52L235.93 277.41L236.22 267.51L236.51 253.16L236.77 238.33M257.33 161.01L257.04 163.01L256.75 175.83L256.45 197.45L256.16 224.66L256.02 238.32M257.33 161.01L257.62 170.26L257.92 189.57L258.21 216.26L258.42 238.33M389.56 345.68L389.27 339.93L388.98 319.31L388.69 286.66L388.39 246.62L388.33 238.33M389.56 345.68L389.86 335.91L390.15 312.18L390.44 278.08L390.74 238.63L390.74 238.33M394.26 335.61L393.96 324.67L393.67 301.02L393.38 267.95L393.15 238.32M394.26 335.61L394.55 332.41L394.84 315.69L395.14 288.04L395.43 253.55L395.55 238.32M399.24 326.04L398.95 323.69L398.65 308.87L398.36 283.58L398.07 251.36L397.96 238.33M399.24 326.04L399.53 315.72L399.83 294.40L400.12 265.28L400.36 238.32M406.28 163.98L405.98 172.53L405.69 190.81L405.40 216.28L405.18 238.32M406.28 163.98L406.57 166.24L406.86 178.84L407.16 199.82L407.45 226.04L407.58 238.33M408.62 307.57L408.33 297.51L408.04 278.66L407.74 253.65L407.58 238.33M408.62 307.57L408.92 307.53L409.21 297.53L409.50 279.16L409.80 255.19L409.99 238.33M418.30 292.56L418.01 286.17L417.71 272.69L417.42 253.97L417.20 238.33M418.30 292.56L418.59 291.05L418.88 281.98L419.18 266.79L419.47 247.76L419.61 238.33M447.33 259.46L447.03 258.68L446.74 254.90L446.45 248.61L446.15 240.67L446.07 238.32M447.33 259.46L447.62 257.19L447.91 252.27L448.20 245.45L448.48 238.32M459.35 225.14L459.05 225.66L458.76 228.05L458.47 232.01L458.17 236.99L458.10 238.32M459.35 225.14L459.64 226.52L459.93 229.56L460.23 233.78L460.51 238.32M461.69 250.30L461.40 249.47L461.11 246.99L460.81 243.18L460.52 238.55L460.51 238.32M461.69 250.30L461.99 249.39L462.28 246.92L462.57 243.27L462.86 239.01L462.91 238.33M473.71 231.27L473.42 231.77L473.13 233.25L472.83 235.52L472.54 238.26L472.53 238.33M473.71 231.27L474.01 231.78L474.30 233.23L474.59 235.36L474.89 237.86L474.94 238.32M478.40 232.75L478.11 233.48L477.82 234.95L477.52 236.95L477.35 238.33M478.40 232.75L478.70 232.83L478.99 233.70L479.28 235.21L479.58 237.12L479.75 238.33" stroke="#e8403c" stroke-width="2.15" stroke-dasharray="4 9.5" stroke-dashoffset="10.59"/><path d="M247.66 177.29L247.36 180.51L247.07 191.98L246.78 209.94L246.48 231.70L246.40 238.32M247.66 177.29L247.95 182.94L248.24 196.77L248.54 216.88L248.80 238.33M271.70 132.35L271.41 138.46L271.11 158.89L270.82 190.53L270.53 228.70L270.45 238.33M271.70 132.35L271.99 141.61L272.28 165.07L272.58 199.45L272.86 238.32M365.52 392.05L365.23 384.58L364.94 355.81L364.64 309.79L364.35 253.08L364.28 238.32M365.52 392.05L365.82 377.27L366.11 342.53L366.40 292.97L366.68 238.33M384.58 353.75L384.29 337.62L383.99 306.87L383.70 265.83L383.52 238.32M384.58 353.75L384.87 353.08L385.17 335.88L385.46 304.79L385.75 264.44L385.93 238.33M387.22 126.88L386.93 129.58L386.63 148.14L386.34 180.03L386.05 220.74L385.93 238.33M387.22 126.88L387.51 140.28L387.81 167.66L388.10 204.93L388.33 238.33M469.02 229.67L468.73 229.77L468.44 231.14L468.14 233.59L467.85 236.81L467.72 238.32M469.02 229.67L469.32 230.80L469.61 232.99L469.90 235.88L470.13 238.33M476.06 244.62L475.77 243.99L475.47 242.50L475.18 240.36L474.94 238.32M476.06 244.62L476.35 244.34L476.65 243.21L476.94 241.41L477.23 239.21L477.35 238.33" stroke="#e8403c" stroke-width="2.15" stroke-dasharray="4 9.5" stroke-dashoffset="1.43"/><path d="M199.57 226.74L199.28 227.24L198.98 229.31L198.69 232.62L198.40 236.66L198.28 238.33M199.57 226.74L199.86 227.93L200.16 230.68L200.45 234.62L200.69 238.33M252.35 169.44L252.05 177.05L251.76 193.37L251.47 215.91L251.21 238.33M252.35 169.44L252.64 171.76L252.93 183.84L253.23 204.05L253.52 229.56L253.61 238.33M283.72 368.55L283.43 360.72L283.13 335.30L282.84 296.13L282.55 248.97L282.48 238.32M283.72 368.55L284.01 357.51L284.31 329.02L284.60 287.09L284.89 238.33M293.40 386.09L293.10 381.15L292.81 355.62L292.52 313.35L292.22 260.55L292.11 238.32M293.40 386.09L293.69 369.59L293.98 333.89L294.27 284.05L294.51 238.33M312.45 413.35L312.16 391.72L311.87 347.98L311.57 288.55L311.35 238.32M312.45 413.35L312.75 409.66L313.04 381.10L313.33 331.72L313.63 268.63L313.76 238.32M336.50 421.83L336.20 398.17L335.91 351.33L335.62 288.07L335.41 238.32M336.50 421.83L336.79 418.89L337.08 389.82L337.38 338.85L337.67 273.39L337.81 238.32M341.48 421.06L341.19 413.11L340.89 379.80L340.60 325.91L340.31 259.23L340.22 238.33M341.48 421.06L341.77 402.56L342.07 360.33L342.36 300.53L342.63 238.33M360.54 398.05L360.24 376.60L359.95 334.95L359.66 279.03L359.47 238.33M360.54 398.05L360.83 396.31L361.12 371.76L361.42 328.07L361.71 271.67L361.87 238.33M423.28 285.58L422.99 284.08L422.70 275.86L422.40 262.02L422.11 244.47L422.01 238.33M423.28 285.58L423.58 280.27L423.87 269.02L424.16 253.56L424.42 238.33M425.63 194.12L425.34 196.83L425.04 205.65L424.75 219.41L424.46 236.18L424.42 238.33M425.63 194.12L425.92 197.81L426.21 207.26L426.51 221.00L426.80 236.98L426.83 238.32M432.96 272.97L432.67 272.81L432.37 267.61L432.08 258.02L431.79 245.36L431.64 238.32M432.96 272.97L433.25 268.15L433.54 259.14L433.84 247.31L434.04 238.32" stroke="#e8403c" stroke-width="2.15" stroke-dasharray="4 9.5" stroke-dashoffset="7.56"/><path d="M276.39 123.31L276.10 136.63L275.80 164.46L275.51 202.65L275.27 238.33M276.39 123.31L276.68 126.61L276.98 146.21L277.27 179.43L277.56 221.55L277.67 238.33M281.37 113.58L281.08 117.44L280.79 138.70L280.49 174.12L280.20 218.46L280.08 238.33M281.37 113.58L281.67 127.84L281.96 158.31L282.25 200.71L282.48 238.32M286.07 103.45L285.77 115.47L285.48 145.12L285.19 187.96L284.89 237.69L284.89 238.33M286.07 103.45L286.36 110.94L286.65 137.03L286.94 178.07L287.24 228.22L287.29 238.32M291.05 96.53L290.76 97.06L290.46 117.98L290.17 156.10L289.88 205.80L289.70 238.32M291.05 96.53L291.34 116.61L291.64 154.54L291.93 204.93L292.11 238.32M327.11 421.96L326.82 419.86L326.53 391.48L326.23 340.94L325.94 275.59L325.79 238.33M327.11 421.96L327.41 397.46L327.70 349.88L327.99 286.11L328.19 238.33M331.80 424.84L331.51 411.75L331.22 373.53L330.92 315.73L330.63 246.71L330.60 238.32M331.80 424.84L332.10 410.92L332.39 372.00L332.68 313.74L332.98 244.57L333.00 238.32M437.65 268.29L437.36 266.38L437.06 260.32L436.77 250.92L436.48 239.49L436.45 238.32M437.65 268.29L437.94 265.86L438.24 259.53L438.53 250.29L438.82 239.51L438.85 238.32" stroke="#e8403c" stroke-width="2.15" stroke-dasharray="4 9.5" stroke-dashoffset="3.35"/><path d="M206.61 253.77L206.31 251.77L206.02 247.89L205.73 242.73L205.50 238.33M206.61 253.77L206.90 253.55L207.19 251.09L207.49 246.70L207.78 240.98L207.91 238.32M242.67 185.61L242.38 192.85L242.09 206.50L241.79 224.50L241.59 238.32M242.67 185.61L242.96 185.95L243.26 193.96L243.55 208.57L243.84 227.78L243.99 238.33M266.71 143.62L266.42 157.13L266.13 182.16L265.83 214.99L265.64 238.33M266.71 143.62L267.01 143.75L267.30 157.66L267.59 183.51L267.89 217.65L268.05 238.32M305.42 71.24L305.12 77.25L304.83 106.51L304.54 154.67L304.24 214.68L304.13 238.33M305.42 71.24L305.71 89.46L306.00 129.38L306.30 185.31L306.54 238.32M310.11 64.61L309.81 80.99L309.52 120.04L309.23 176.03L308.95 238.32M310.11 64.61L310.40 73.39L310.69 106.13L310.99 158.19L311.28 222.07L311.35 238.32M430.32 200.56L430.03 205.11L429.73 214.60L429.44 227.74L429.23 238.33M430.32 200.56L430.61 201.52L430.91 207.74L431.20 218.24L431.49 231.43L431.64 238.32M442.34 263.43L442.05 260.34L441.75 253.96L441.46 245.15L441.26 238.33M442.34 263.43L442.63 262.85L442.93 258.77L443.22 251.84L443.51 243.12L443.67 238.33" stroke="#e8403c" stroke-width="2.15" stroke-dasharray="4 9.5" stroke-dashoffset="3.74"/><path d="M230.65 275.00L230.36 270.06L230.06 260.66L229.77 248.23L229.56 238.32M230.65 275.00L230.94 274.67L231.24 269.01L231.53 258.76L231.82 245.32L231.96 238.33M262.02 151.38L261.73 158.69L261.44 177.38L261.14 204.59L260.85 236.30L260.83 238.33M262.02 151.38L262.32 156.65L262.61 173.90L262.90 200.77L263.20 233.46L263.24 238.33M435.30 205.98L435.01 207.09L434.72 212.79L434.42 222.35L434.13 234.43L434.04 238.32M435.30 205.98L435.60 209.53L435.89 217.15L436.18 227.66L436.45 238.32" stroke="#e8403c" stroke-width="2.15" stroke-dasharray="4 9.5" stroke-dashoffset="10.43"/><path d="M177.87 242.64L177.58 242.36L177.29 241.50L176.99 240.21L176.70 238.70L176.63 238.33M177.87 242.64L178.17 242.30L178.46 241.37L178.75 239.96L179.04 238.33M240.33 288.05L240.03 282.68L239.74 271.02L239.45 254.87L239.18 238.33M240.33 288.05L240.62 286.24L240.91 277.41L241.21 262.70L241.50 244.19L241.59 238.32M279.03 356.86L278.74 356.72L278.44 339.51L278.15 307.88L277.86 266.55L277.67 238.33M279.03 356.86L279.32 339.74L279.61 307.70L279.91 265.24L280.08 238.33M339.13 55.94L338.84 58.49L338.55 87.12L338.25 137.70L337.96 202.94L337.81 238.32M339.13 55.94L339.43 79.79L339.72 126.55L340.01 189.40L340.22 238.33M370.21 383.20L369.92 367.68L369.63 333.23L369.33 284.73L369.09 238.33M370.21 383.20L370.51 377.71L370.80 352.13L371.09 310.33L371.39 258.44L371.49 238.32M440.00 210.79L439.70 213.36L439.41 219.64L439.12 228.78L438.85 238.32M440.00 210.79L440.29 212.23L440.58 217.38L440.87 225.43L441.17 235.16L441.26 238.33" stroke="#e8403c" stroke-width="2.15" stroke-dasharray="4 9.5" stroke-dashoffset="6.85"/><path d="M192.24 246.80L191.95 245.97L191.65 244.07L191.36 241.39L191.07 238.35L191.07 238.33M192.24 246.80L192.53 246.41L192.83 244.82L193.12 242.23L193.41 239.00L193.47 238.33M209.25 221.33L208.95 221.60L208.66 224.26L208.37 228.87L208.07 234.74L207.91 238.32M209.25 221.33L209.54 223.55L209.83 227.98L210.13 234.04L210.31 238.33M211.59 257.14L211.30 256.29L211.01 252.89L210.71 247.47L210.42 240.86L210.31 238.33M211.59 257.14L211.89 255.25L212.18 250.84L212.47 244.49L212.72 238.33M254.69 310.65L254.40 300.52L254.11 281.60L253.81 256.72L253.61 238.33M254.69 310.65L254.99 310.36L255.28 299.56L255.57 279.66L255.87 253.45L256.02 238.32M269.35 338.84L269.06 335.98L268.77 319.09L268.47 290.76L268.18 255.21L268.05 238.32M269.35 338.84L269.65 327.09L269.94 302.26L270.23 267.83L270.45 238.33M274.04 349.16L273.75 339.56L273.46 315.47L273.16 280.53L272.87 239.88L272.86 238.32M274.04 349.16L274.34 342.72L274.63 321.01L274.92 287.02L275.22 245.58L275.27 238.33M298.09 394.99L297.79 380.63L297.50 345.80L297.21 295.67L296.92 238.33M298.09 394.99L298.38 386.69L298.67 356.77L298.97 309.46L299.26 251.53L299.32 238.32M315.09 61.83L314.80 63.40L314.51 90.26L314.21 138.45L313.92 200.94L313.76 238.32M315.09 61.83L315.39 85.86L315.68 132.07L315.97 193.84L316.16 238.33M319.78 55.51L319.49 67.88L319.20 104.89L318.90 161.12L318.61 228.40L318.57 238.33M319.78 55.51L320.08 69.62L320.37 108.22L320.66 165.76L320.96 233.93L320.97 238.32M322.13 422.18L321.84 404.38L321.54 362.58L321.25 302.87L320.97 238.32M322.13 422.18L322.42 413.35L322.72 379.14L323.01 324.46L323.30 257.22L323.38 238.33M351.16 411.23L350.86 408.37L350.57 380.82L350.28 332.49L349.98 270.32L349.84 238.33M351.16 411.23L351.45 389.08L351.74 345.22L352.04 286.08L352.25 238.33M403.93 317.51L403.64 310.74L403.35 293.31L403.05 267.63L402.77 238.33M403.93 317.51L404.22 312.79L404.52 297.42L404.81 273.76L405.10 245.33L405.18 238.32M452.02 255.97L451.72 254.28L451.43 250.21L451.14 244.30L450.88 238.32M452.02 255.97L452.31 255.09L452.60 251.83L452.90 246.71L453.19 240.51L453.29 238.32" stroke="#e8403c" stroke-width="2.15" stroke-dasharray="4 9.5" stroke-dashoffset="7.58"/><path d="M201.92 251.18L201.62 250.26L201.33 247.65L201.04 243.77L200.74 239.20L200.69 238.33M201.92 251.18L202.21 250.23L202.50 247.52L202.80 243.39L203.09 238.42L203.09 238.32M288.41 376.91L288.12 360.51L287.82 326.61L287.53 280.25L287.29 238.32M288.41 376.91L288.70 373.29L289.00 350.01L289.29 310.30L289.58 259.81L289.70 238.32M358.19 73.44L357.90 90.68L357.61 129.45L357.31 184.22L357.06 238.33M358.19 73.44L358.49 80.11L358.78 109.61L359.07 157.55L359.37 216.90L359.47 238.33M375.20 373.48L374.90 370.56L374.61 348.38L374.32 310.00L374.03 260.89L373.90 238.33M375.20 373.48L375.49 356.88L375.78 323.32L376.08 277.78L376.31 238.33M379.89 365.23L379.60 355.03L379.30 327.76L379.01 287.22L378.72 239.19L378.71 238.33M379.89 365.23L380.18 357.04L380.48 331.80L380.77 293.32L381.06 247.26L381.12 238.32" stroke="#e8403c" stroke-width="2.15" stroke-dasharray="4 9.5" stroke-dashoffset="10.26"/><path d="M367.87 88.50L367.57 100.15L367.28 131.98L366.99 179.48L366.70 235.85L366.68 238.33M367.87 88.50L368.16 98.55L368.45 128.71L368.75 174.48L369.04 229.14L369.09 238.33M420.94 188.21L420.64 188.30L420.35 195.71L420.06 209.48L419.76 227.69L419.61 238.33M420.94 188.21L421.23 195.31L421.52 208.48L421.82 225.71L422.01 238.33M444.98 215.46L444.69 215.63L444.39 219.12L444.10 225.50L443.81 233.90L443.67 238.33M444.98 215.46L445.27 218.58L445.57 224.47L445.86 232.22L446.07 238.32M457.00 252.72L456.71 252.59L456.41 250.35L456.12 246.30L455.83 240.98L455.69 238.32M457.00 252.72L457.29 250.80L457.59 247.13L457.88 242.28L458.10 238.32" stroke="#e8403c" stroke-width="2.15" stroke-dasharray="4 9.5" stroke-dashoffset="12.32"/><path d="M223.61 209.14L223.32 210.53L223.03 215.88L222.73 224.35L222.44 234.65L222.34 238.32M223.61 209.14L223.91 212.00L224.20 218.76L224.49 228.53L224.75 238.33M317.44 418.67L317.14 411.73L316.85 379.72L316.56 327.34L316.26 262.23L316.16 238.33M317.44 418.67L317.73 399.48L318.02 356.86L318.32 296.95L318.57 238.33M377.54 106.84L377.25 113.56L376.96 138.49L376.66 178.16L376.37 226.93L376.31 238.33M377.54 106.84L377.84 119.14L378.13 148.53L378.42 190.61L378.71 238.33M396.60 146.82L396.31 159.86L396.02 184.50L395.72 217.29L395.55 238.32M396.60 146.82L396.89 147.11L397.19 160.54L397.48 185.00L397.77 216.83L397.96 238.33M454.36 222.40L454.07 224.40L453.78 228.50L453.48 234.13L453.29 238.32M454.36 222.40L454.66 222.72L454.95 225.27L455.24 229.64L455.53 235.15L455.69 238.32M466.38 247.97L466.09 246.73L465.80 244.22L465.50 240.79L465.32 238.33M466.38 247.97L466.68 247.80L466.97 246.27L467.26 243.65L467.56 240.33L467.72 238.32" stroke="#e8403c" stroke-width="2.15" stroke-dasharray="4 9.5" stroke-dashoffset="5.98"/><path d="M213.94 217.65L213.64 219.18L213.35 223.43L213.06 229.71L212.77 237.09L212.72 238.33M213.94 217.65L214.23 219.12L214.52 223.43L214.82 230.02L215.11 237.97L215.12 238.32M221.27 264.94L220.97 264.45L220.68 260.22L220.39 252.94L220.10 243.72L219.93 238.33M221.27 264.94L221.56 261.54L221.85 254.67L222.15 245.26L222.34 238.32M225.96 270.07L225.67 267.64L225.37 261.05L225.08 251.33L224.79 239.93L224.75 238.33M225.96 270.07L226.25 267.90L226.55 261.36L226.84 251.32L227.13 239.18L227.15 238.33M228.30 204.07L228.01 207.68L227.72 215.62L227.43 226.67L227.15 238.33M228.30 204.07L228.60 205.40L228.89 211.57L229.18 221.78L229.48 234.61L229.56 238.32M245.31 295.09L245.02 293.76L244.72 284.49L244.43 268.73L244.14 248.85L243.99 238.33M245.31 295.09L245.60 288.15L245.90 273.81L246.19 254.06L246.40 238.32M295.74 85.57L295.45 95.14L295.15 125.32L294.86 171.61L294.57 227.22L294.51 238.33M295.74 85.57L296.03 98.13L296.33 131.16L296.62 179.97L296.91 237.58L296.92 238.33M307.76 409.37L307.47 398.22L307.18 364.02L306.88 311.80L306.59 249.19L306.54 238.32M307.76 409.37L308.06 395.74L308.35 359.19L308.64 304.95L308.93 240.80L308.95 238.32M334.15 52.58L333.86 71.04L333.56 113.75L333.27 174.52L333.00 238.32M334.15 52.58L334.44 61.03L334.74 95.15L335.03 149.97L335.32 217.54L335.41 238.32M343.83 56.69L343.53 69.90L343.24 107.56L342.95 164.28L342.65 231.86L342.63 238.33M343.83 56.69L344.12 69.79L344.41 107.23L344.71 163.55L345.00 230.54L345.03 238.33M348.52 63.09L348.22 86.15L347.93 131.36L347.64 192.24L347.44 238.33M348.52 63.09L348.81 65.45L349.10 92.80L349.40 141.10L349.69 203.29L349.84 238.33M363.18 81.86L362.88 84.84L362.59 110.15L362.30 154.22L362.00 210.78L361.87 238.33M363.18 81.86L363.47 101.49L363.76 140.76L364.06 193.87L364.28 238.32M401.59 154.65L401.29 159.35L401.00 175.63L400.71 201.27L400.41 232.65L400.36 238.32M401.59 154.65L401.88 162.06L402.17 180.35L402.47 206.73L402.76 237.31L402.77 238.33M481.04 243.29L480.75 243.22L480.46 242.42L480.16 241.00L479.87 239.15L479.75 238.33M481.04 243.29L481.34 242.65L481.63 241.41L481.92 239.77L482.16 238.32" stroke="#e8403c" stroke-width="2.15" stroke-dasharray="4 9.5" stroke-dashoffset="8.27"/><path d="M77.60 238.33L136.24 238.07L136.53 237.95L136.83 237.89L137.12 237.89L137.41 237.96L137.71 238.08L138.00 238.24L138.14 238.33M544.71 238.33L544.96 238.29L545.25 238.25L545.55 238.22L545.84 238.21L546.13 238.22L546.43 238.24L546.72 238.27L664.00 238.33" stroke="#1a62d8" stroke-width="2.15" stroke-dasharray="10.5 3.3"/><path d="M138.14 238.33L138.29 238.42L138.59 238.59L138.88 238.73L139.17 238.82L139.47 238.83L139.76 238.78L140.05 238.65L140.34 238.47L140.54 238.32M140.54 238.32L140.64 238.26L140.93 238.05L141.22 237.88L141.52 237.77L141.81 237.73L142.10 237.78L142.40 237.92L142.69 238.11L142.95 238.33M142.95 238.33L142.98 238.35L143.28 238.59L143.57 238.80L143.86 238.95L144.16 239.01L144.45 238.97L144.74 238.84L145.04 238.62L145.33 238.35L145.36 238.33M145.36 238.33L145.62 238.07L145.92 237.82L146.21 237.63L146.50 237.54L146.80 237.56L147.09 237.69L147.38 237.93L147.67 238.23L147.76 238.33M147.76 238.33L147.97 238.55L148.26 238.85L148.55 239.09L148.85 239.22L149.14 239.22L149.43 239.09L149.73 238.85L150.02 238.51L150.17 238.32M150.17 238.32L150.31 238.14L150.61 237.78L150.90 237.49L151.19 237.31L151.49 237.28L151.78 237.40L152.07 237.66L152.37 238.03L152.57 238.33M152.57 238.33L152.66 238.45L152.95 238.87L153.25 239.22L153.54 239.46L153.83 239.53L154.13 239.43L154.42 239.16L154.71 238.76L154.98 238.33M154.98 238.33L155.00 238.28L155.30 237.80L155.59 237.37L155.88 237.07L156.18 236.95L156.47 237.02L156.76 237.29L157.06 237.72L157.35 238.26L157.39 238.33M157.39 238.33L157.64 238.82L157.94 239.33L158.23 239.70L158.52 239.89L158.82 239.85L159.11 239.59L159.40 239.13L159.70 238.53L159.79 238.33M159.79 238.33L159.99 237.89L160.28 237.29L160.58 236.82L160.87 236.56L161.16 236.55L161.46 236.80L161.75 237.29L162.04 237.94L162.20 238.33M162.20 238.33L162.33 238.67L162.63 239.37L162.92 239.95L163.21 240.30L163.51 240.37L163.80 240.14L164.09 239.64L164.39 238.93L164.60 238.33M164.60 238.33L164.68 238.10L164.97 237.29L165.27 236.60L165.56 236.14L165.85 235.99L166.15 236.18L166.44 236.69L166.73 237.46L167.01 238.33M167.01 238.33L167.03 238.38L167.32 239.32L167.61 240.14L167.91 240.73L168.20 240.97L168.49 240.84L168.79 240.32L169.08 239.50L169.37 238.48L169.41 238.33M169.41 238.33L169.66 237.41L169.96 236.44L170.25 235.71L170.54 235.35L170.84 235.41L171.13 235.91L171.42 236.78L171.72 237.90L171.82 238.33M171.82 238.33L172.01 239.12L172.30 240.25L172.60 241.14L172.89 241.65L173.18 241.67L173.48 241.21L173.77 240.30L174.06 239.08L174.22 238.33M174.22 238.33L174.36 237.71L174.65 236.39L174.94 235.32L175.24 234.65L175.53 234.51L175.82 234.92L176.12 235.85L176.41 237.17L176.63 238.33M185.20 232.30L184.91 232.36L184.62 233.28L184.32 234.89L184.03 236.95L183.85 238.33M185.20 232.30L185.50 233.12L185.79 234.73L186.08 236.91L186.25 238.32M194.59 228.98L194.29 230.17L194.00 232.49L193.71 235.59L193.47 238.33M194.59 228.98L194.88 229.14L195.17 230.65L195.47 233.32L195.76 236.81L195.88 238.33M250.00 303.42L249.71 298.11L249.42 284.28L249.12 264.06L248.83 240.44L248.80 238.33M250.00 303.42L250.29 299.31L250.59 286.23L250.88 265.96L251.17 241.34L251.21 238.33M259.68 320.64L259.38 316.10L259.09 300.43L258.80 276.03L258.50 246.53L258.42 238.33M259.68 320.64L259.97 313.23L260.26 294.80L260.56 267.89L260.83 238.33M300.43 78.92L300.14 98.20L299.85 137.61L299.55 191.33L299.32 238.32M300.43 78.92L300.73 82.68L301.02 109.08L301.31 154.40L301.60 212.16L301.73 238.32M303.07 400.25L302.78 399.22L302.48 374.96L302.19 331.08L301.90 274.05L301.73 238.32M303.07 400.25L303.36 377.76L303.66 334.91L303.95 277.81L304.13 238.33M346.17 417.44L345.88 399.18L345.58 357.53L345.29 298.48L345.03 238.33M346.17 417.44L346.46 409.75L346.76 377.28L347.05 324.81L347.34 259.99L347.44 238.33M391.91 135.72L391.62 144.23L391.32 166.54L391.03 199.57L390.74 238.33M391.91 135.72L392.20 142.09L392.50 162.25L392.79 193.13L393.08 230.17L393.15 238.32M411.26 172.43L410.97 174.36L410.68 185.65L410.38 204.81L410.09 229.15L409.99 238.33M411.26 172.43L411.55 180.01L411.85 195.86L412.14 217.58L412.39 238.33M413.61 300.57L413.31 296.92L413.02 284.65L412.73 265.43L412.43 241.95L412.39 238.33M413.61 300.57L413.90 295.22L414.19 281.77L414.49 262.28L414.78 239.65L414.80 238.32M427.97 279.35L427.68 275.63L427.39 266.38L427.09 252.87L426.83 238.32M427.97 279.35L428.27 277.11L428.56 269.34L428.85 257.26L429.15 242.68L429.23 238.33M464.04 227.54L463.74 228.60L463.45 231.12L463.16 234.76L462.91 238.33M464.04 227.54L464.33 228.04L464.62 230.01L464.92 233.12L465.21 236.90L465.32 238.33M471.37 246.17L471.07 245.84L470.78 244.40L470.49 242.03L470.19 239.05L470.13 238.33M471.37 246.17L471.66 245.37L471.95 243.58L472.25 241.09L472.53 238.33M484.56 238.33L484.85 239.87L485.15 241.16L485.44 242.00L485.73 242.30L486.03 242.02L486.32 241.21L486.61 240.02L486.91 238.62L486.97 238.32M486.97 238.32L487.20 237.22L487.49 236.02L487.79 235.18L488.08 234.81L488.37 234.96L488.67 235.59L488.96 236.58L489.25 237.80L489.38 238.33M489.38 238.33L489.55 239.06L489.84 240.17L490.13 240.99L490.43 241.40L490.72 241.36L491.01 240.89L491.31 240.07L491.60 239.02L491.78 238.33M491.78 238.33L491.89 237.90L492.18 236.88L492.48 236.09L492.77 235.65L493.06 235.60L493.36 235.95L493.65 236.62L493.94 237.52L494.19 238.32M494.19 238.32L494.24 238.50L494.53 239.43L494.82 240.17L495.12 240.63L495.41 240.74L495.70 240.51L496.00 239.97L496.29 239.21L496.58 238.35L496.59 238.33M496.59 238.33L496.88 237.51L497.17 236.81L497.46 236.35L497.76 236.19L498.05 236.34L498.34 236.76L498.64 237.40L498.93 238.15L499.00 238.33M499.00 238.33L499.22 238.90L499.51 239.54L499.81 239.99L500.10 240.19L500.39 240.12L500.69 239.79L500.98 239.26L501.27 238.62L501.40 238.32M501.40 238.32L501.57 237.95L501.86 237.36L502.15 236.93L502.45 236.70L502.74 236.72L503.03 236.97L503.33 237.40L503.62 237.95L503.81 238.33M503.81 238.33L503.91 238.53L504.21 239.07L504.50 239.49L504.79 239.72L505.09 239.75L505.38 239.57L505.67 239.22L505.97 238.76L506.21 238.32M506.21 238.32L506.26 238.25L506.55 237.76L506.84 237.37L507.14 237.13L507.43 237.07L507.72 237.19L508.02 237.47L508.31 237.86L508.60 238.30L508.62 238.33M508.62 238.33L508.90 238.73L509.19 239.09L509.48 239.33L509.78 239.42L510.07 239.35L510.36 239.13L510.66 238.81L510.95 238.43L511.03 238.32M511.03 238.32L511.24 238.04L511.54 237.71L511.83 237.48L512.12 237.38L512.42 237.41L512.71 237.58L513.00 237.84L513.30 238.17L513.43 238.33M513.43 238.33L513.59 238.50L513.88 238.80L514.17 239.03L514.47 239.14L514.76 239.13L515.05 239.01L515.35 238.80L515.64 238.52L515.84 238.33M515.84 238.33L515.93 238.23L516.23 237.96L516.52 237.75L516.81 237.63L517.11 237.61L517.40 237.70L517.69 237.87L517.99 238.10L518.24 238.33M518.24 238.33L518.28 238.36L518.57 238.60L518.87 238.79L519.16 238.91L519.45 238.94L519.75 238.89L520.04 238.75L520.33 238.56L520.63 238.34L520.65 238.32M520.65 238.32L520.92 238.13L521.21 237.95L521.50 237.83L521.80 237.79L522.09 237.82L522.38 237.93L522.68 238.09L522.97 238.27L523.06 238.33M523.06 238.33L523.26 238.46L523.56 238.62L523.85 238.73L524.14 238.78L524.44 238.77L524.73 238.69L525.02 238.56L525.32 238.41L525.46 238.33M525.46 238.33L525.61 238.24L525.90 238.10L526.20 237.99L526.49 237.93L526.78 237.94L527.08 237.99L527.37 238.10L527.66 238.23L527.87 238.32M527.87 238.32L527.96 238.37L528.25 238.50L528.54 238.60L528.83 238.66L529.13 238.66L529.42 238.62L529.71 238.54L530.01 238.43L530.27 238.33M530.27 238.33L530.30 238.31L530.59 238.20L530.89 238.11L531.18 238.05L531.47 238.03L531.77 238.06L532.06 238.12L532.35 238.21L532.65 238.31L532.68 238.33M532.68 238.33L532.94 238.41L533.23 238.50L533.53 238.55L533.82 238.58L534.11 238.56L534.41 238.51L534.70 238.44L534.99 238.35L535.08 238.33M535.08 238.33L535.29 238.27L535.58 238.19L535.87 238.14L536.16 238.11L536.46 238.12L536.75 238.16L537.04 238.21L537.34 238.29L537.49 238.33M537.49 238.33L537.63 238.36L537.92 238.43L538.22 238.48L538.51 238.50L538.80 238.50L539.10 238.48L539.39 238.43L539.68 238.37L539.89 238.33M539.89 238.33L539.98 238.31L540.27 238.25L540.56 238.20L540.86 238.18L541.15 238.17L541.44 238.19L541.74 238.23L542.03 238.27L542.30 238.33M542.30 238.33L542.32 238.33L542.62 238.38L542.91 238.42L543.20 238.45L543.49 238.46L543.79 238.45L544.08 238.42L544.37 238.38L544.67 238.33L544.71 238.33" stroke="#1a62d8" stroke-width="2.15" stroke-dasharray="10.5 3.3" stroke-dashoffset="6.98"/><path d="M180.22 233.48L179.93 233.94L179.63 235.02L179.34 236.54L179.05 238.27L179.04 238.33M180.22 233.48L180.51 233.71L180.81 234.64L181.10 236.13L181.39 237.99L181.44 238.33M449.67 218.94L449.38 220.22L449.08 224.19L448.79 230.32L448.50 237.76L448.48 238.32M449.67 218.94L449.96 220.46L450.26 224.51L450.55 230.45L450.84 237.39L450.88 238.32" stroke="#1a62d8" stroke-width="2.15" stroke-dasharray="10.5 3.3" stroke-dashoffset="7.07"/><path d="M197.23 248.68L196.93 248.55L196.64 246.95L196.35 244.16L196.05 240.60L195.88 238.33M197.23 248.68L197.52 247.30L197.81 244.57L198.11 240.85L198.28 238.33M233.29 198.54L233.00 199.37L232.70 205.78L232.41 216.75L232.12 230.61L231.96 238.33M233.29 198.54L233.58 203.52L233.88 213.67L234.17 227.62L234.37 238.32M264.37 329.43L264.08 319.12L263.78 297.31L263.49 267.28L263.24 238.33M264.37 329.43L264.66 326.59L264.95 310.84L265.25 284.32L265.54 250.77L265.64 238.33M324.47 54.90L324.18 78.05L323.89 124.38L323.59 187.14L323.38 238.33M324.47 54.90L324.77 58.30L325.06 87.79L325.35 139.14L325.65 204.91L325.79 238.33M353.50 66.78L353.21 74.68L352.91 106.36L352.62 157.34L352.33 220.27L352.25 238.33M353.50 66.78L353.79 83.71L354.09 122.91L354.38 178.63L354.65 238.33M372.56 99.35L372.27 118.39L371.97 155.02L371.68 204.05L371.49 238.32M372.56 99.35L372.85 100.51L373.15 121.55L373.44 159.27L373.73 208.09L373.90 238.33M382.23 116.81L381.94 130.15L381.65 159.37L381.36 200.36L381.12 238.32M382.23 116.81L382.53 121.12L382.82 142.28L383.11 177.08L383.41 220.37L383.52 238.32" stroke="#1a62d8" stroke-width="2.15" stroke-dasharray="10.5 3.3" stroke-dashoffset="9.56"/><path d="M182.57 243.72L182.27 243.05L181.98 241.72L181.69 239.95L181.44 238.33M182.57 243.72L182.86 243.62L183.15 242.73L183.45 241.17L183.74 239.15L183.85 238.33M189.90 230.70L189.60 231.23L189.31 232.76L189.02 235.04L188.72 237.74L188.66 238.32M189.90 230.70L190.19 231.28L190.48 232.91L190.78 235.38L191.07 238.33M216.28 260.85L215.99 258.54L215.70 253.37L215.40 246.15L215.12 238.32M216.28 260.85L216.58 259.92L216.87 255.81L217.16 249.04L217.46 240.55L217.53 238.32M218.63 213.97L218.34 217.18L218.04 223.36L217.75 231.56L217.53 238.32M218.63 213.97L218.92 214.25L219.22 218.07L219.51 224.93L219.80 233.91L219.93 238.33M237.98 191.80L237.69 195.48L237.39 205.25L237.10 219.60L236.81 236.39L236.77 238.33M237.98 191.80L238.27 194.85L238.57 204.32L238.86 218.92L239.15 236.62L239.18 238.33M329.46 52.51L329.17 60.13L328.87 93.56L328.58 147.93L328.29 215.38L328.19 238.33M329.46 52.51L329.75 71.81L330.05 115.23L330.34 176.49L330.60 238.32M355.85 407.18L355.55 394.47L355.26 359.03L354.97 305.91L354.67 242.73L354.65 238.33M355.85 407.18L356.14 395.42L356.43 361.03L356.73 309.06L357.02 247.13L357.06 238.33M415.95 179.99L415.66 185.13L415.37 198.12L415.07 217.19L414.80 238.32M415.95 179.99L416.25 183.32L416.54 194.50L416.83 211.81L417.13 232.65L417.20 238.33M483.39 233.86L483.10 234.06L482.80 234.89L482.51 236.25L482.22 237.96L482.16 238.32M483.39 233.86L483.68 234.31L483.98 235.32L484.27 236.72L484.56 238.32L484.56 238.33" stroke="#1a62d8" stroke-width="2.15" stroke-dasharray="10.5 3.3" stroke-dashoffset="6.24"/><path d="M187.55 245.13L187.26 244.86L186.96 243.66L186.67 241.73L186.38 239.36L186.25 238.32M187.55 245.13L187.84 244.41L188.14 242.78L188.43 240.45L188.66 238.32M204.26 224.18L203.97 225.60L203.68 228.81L203.38 233.31L203.09 238.32M204.26 224.18L204.56 224.80L204.85 227.42L205.14 231.71L205.44 237.06L205.50 238.33M235.63 281.52L235.34 279.35L235.05 271.33L234.76 258.71L234.46 243.39L234.37 238.32M235.63 281.52L235.93 277.41L236.22 267.51L236.51 253.16L236.77 238.33M257.33 161.01L257.04 163.01L256.75 175.83L256.45 197.45L256.16 224.66L256.02 238.32M257.33 161.01L257.62 170.26L257.92 189.57L258.21 216.26L258.42 238.33M389.56 345.68L389.27 339.93L388.98 319.31L388.69 286.66L388.39 246.62L388.33 238.33M389.56 345.68L389.86 335.91L390.15 312.18L390.44 278.08L390.74 238.63L390.74 238.33M394.26 335.61L393.96 324.67L393.67 301.02L393.38 267.95L393.15 238.32M394.26 335.61L394.55 332.41L394.84 315.69L395.14 288.04L395.43 253.55L395.55 238.32M399.24 326.04L398.95 323.69L398.65 308.87L398.36 283.58L398.07 251.36L397.96 238.33M399.24 326.04L399.53 315.72L399.83 294.40L400.12 265.28L400.36 238.32M406.28 163.98L405.98 172.53L405.69 190.81L405.40 216.28L405.18 238.32M406.28 163.98L406.57 166.24L406.86 178.84L407.16 199.82L407.45 226.04L407.58 238.33M408.62 307.57L408.33 297.51L408.04 278.66L407.74 253.65L407.58 238.33M408.62 307.57L408.92 307.53L409.21 297.53L409.50 279.16L409.80 255.19L409.99 238.33M418.30 292.56L418.01 286.17L417.71 272.69L417.42 253.97L417.20 238.33M418.30 292.56L418.59 291.05L418.88 281.98L419.18 266.79L419.47 247.76L419.61 238.33M447.33 259.46L447.03 258.68L446.74 254.90L446.45 248.61L446.15 240.67L446.07 238.32M447.33 259.46L447.62 257.19L447.91 252.27L448.20 245.45L448.48 238.32M459.35 225.14L459.05 225.66L458.76 228.05L458.47 232.01L458.17 236.99L458.10 238.32M459.35 225.14L459.64 226.52L459.93 229.56L460.23 233.78L460.51 238.32M461.69 250.30L461.40 249.47L461.11 246.99L460.81 243.18L460.52 238.55L460.51 238.32M461.69 250.30L461.99 249.39L462.28 246.92L462.57 243.27L462.86 239.01L462.91 238.33M473.71 231.27L473.42 231.77L473.13 233.25L472.83 235.52L472.54 238.26L472.53 238.33M473.71 231.27L474.01 231.78L474.30 233.23L474.59 235.36L474.89 237.86L474.94 238.32M478.40 232.75L478.11 233.48L477.82 234.95L477.52 236.95L477.35 238.33M478.40 232.75L478.70 232.83L478.99 233.70L479.28 235.21L479.58 237.12L479.75 238.33" stroke="#1a62d8" stroke-width="2.15" stroke-dasharray="10.5 3.3" stroke-dashoffset="7.36"/><path d="M247.66 177.29L247.36 180.51L247.07 191.98L246.78 209.94L246.48 231.70L246.40 238.32M247.66 177.29L247.95 182.94L248.24 196.77L248.54 216.88L248.80 238.33M271.70 132.35L271.41 138.46L271.11 158.89L270.82 190.53L270.53 228.70L270.45 238.33M271.70 132.35L271.99 141.61L272.28 165.07L272.58 199.45L272.86 238.32M365.52 392.05L365.23 384.58L364.94 355.81L364.64 309.79L364.35 253.08L364.28 238.32M365.52 392.05L365.82 377.27L366.11 342.53L366.40 292.97L366.68 238.33M384.58 353.75L384.29 337.62L383.99 306.87L383.70 265.83L383.52 238.32M384.58 353.75L384.87 353.08L385.17 335.88L385.46 304.79L385.75 264.44L385.93 238.33M387.22 126.88L386.93 129.58L386.63 148.14L386.34 180.03L386.05 220.74L385.93 238.33M387.22 126.88L387.51 140.28L387.81 167.66L388.10 204.93L388.33 238.33M469.02 229.67L468.73 229.77L468.44 231.14L468.14 233.59L467.85 236.81L467.72 238.32M469.02 229.67L469.32 230.80L469.61 232.99L469.90 235.88L470.13 238.33M476.06 244.62L475.77 243.99L475.47 242.50L475.18 240.36L474.94 238.32M476.06 244.62L476.35 244.34L476.65 243.21L476.94 241.41L477.23 239.21L477.35 238.33" stroke="#1a62d8" stroke-width="2.15" stroke-dasharray="10.5 3.3" stroke-dashoffset="6.60"/><path d="M199.57 226.74L199.28 227.24L198.98 229.31L198.69 232.62L198.40 236.66L198.28 238.33M199.57 226.74L199.86 227.93L200.16 230.68L200.45 234.62L200.69 238.33M252.35 169.44L252.05 177.05L251.76 193.37L251.47 215.91L251.21 238.33M252.35 169.44L252.64 171.76L252.93 183.84L253.23 204.05L253.52 229.56L253.61 238.33M283.72 368.55L283.43 360.72L283.13 335.30L282.84 296.13L282.55 248.97L282.48 238.32M283.72 368.55L284.01 357.51L284.31 329.02L284.60 287.09L284.89 238.33M293.40 386.09L293.10 381.15L292.81 355.62L292.52 313.35L292.22 260.55L292.11 238.32M293.40 386.09L293.69 369.59L293.98 333.89L294.27 284.05L294.51 238.33M312.45 413.35L312.16 391.72L311.87 347.98L311.57 288.55L311.35 238.32M312.45 413.35L312.75 409.66L313.04 381.10L313.33 331.72L313.63 268.63L313.76 238.32M336.50 421.83L336.20 398.17L335.91 351.33L335.62 288.07L335.41 238.32M336.50 421.83L336.79 418.89L337.08 389.82L337.38 338.85L337.67 273.39L337.81 238.32M341.48 421.06L341.19 413.11L340.89 379.80L340.60 325.91L340.31 259.23L340.22 238.33M341.48 421.06L341.77 402.56L342.07 360.33L342.36 300.53L342.63 238.33M360.54 398.05L360.24 376.60L359.95 334.95L359.66 279.03L359.47 238.33M360.54 398.05L360.83 396.31L361.12 371.76L361.42 328.07L361.71 271.67L361.87 238.33M423.28 285.58L422.99 284.08L422.70 275.86L422.40 262.02L422.11 244.47L422.01 238.33M423.28 285.58L423.58 280.27L423.87 269.02L424.16 253.56L424.42 238.33M425.63 194.12L425.34 196.83L425.04 205.65L424.75 219.41L424.46 236.18L424.42 238.33M425.63 194.12L425.92 197.81L426.21 207.26L426.51 221.00L426.80 236.98L426.83 238.32M432.96 272.97L432.67 272.81L432.37 267.61L432.08 258.02L431.79 245.36L431.64 238.32M432.96 272.97L433.25 268.15L433.54 259.14L433.84 247.31L434.04 238.32" stroke="#1a62d8" stroke-width="2.15" stroke-dasharray="10.5 3.3" stroke-dashoffset="12.99"/><path d="M276.39 123.31L276.10 136.63L275.80 164.46L275.51 202.65L275.27 238.33M276.39 123.31L276.68 126.61L276.98 146.21L277.27 179.43L277.56 221.55L277.67 238.33M281.37 113.58L281.08 117.44L280.79 138.70L280.49 174.12L280.20 218.46L280.08 238.33M281.37 113.58L281.67 127.84L281.96 158.31L282.25 200.71L282.48 238.32M286.07 103.45L285.77 115.47L285.48 145.12L285.19 187.96L284.89 237.69L284.89 238.33M286.07 103.45L286.36 110.94L286.65 137.03L286.94 178.07L287.24 228.22L287.29 238.32M291.05 96.53L290.76 97.06L290.46 117.98L290.17 156.10L289.88 205.80L289.70 238.32M291.05 96.53L291.34 116.61L291.64 154.54L291.93 204.93L292.11 238.32M327.11 421.96L326.82 419.86L326.53 391.48L326.23 340.94L325.94 275.59L325.79 238.33M327.11 421.96L327.41 397.46L327.70 349.88L327.99 286.11L328.19 238.33M331.80 424.84L331.51 411.75L331.22 373.53L330.92 315.73L330.63 246.71L330.60 238.32M331.80 424.84L332.10 410.92L332.39 372.00L332.68 313.74L332.98 244.57L333.00 238.32M437.65 268.29L437.36 266.38L437.06 260.32L436.77 250.92L436.48 239.49L436.45 238.32M437.65 268.29L437.94 265.86L438.24 259.53L438.53 250.29L438.82 239.51L438.85 238.32" stroke="#1a62d8" stroke-width="2.15" stroke-dasharray="10.5 3.3" stroke-dashoffset="9.65"/><path d="M206.61 253.77L206.31 251.77L206.02 247.89L205.73 242.73L205.50 238.33M206.61 253.77L206.90 253.55L207.19 251.09L207.49 246.70L207.78 240.98L207.91 238.32M242.67 185.61L242.38 192.85L242.09 206.50L241.79 224.50L241.59 238.32M242.67 185.61L242.96 185.95L243.26 193.96L243.55 208.57L243.84 227.78L243.99 238.33M266.71 143.62L266.42 157.13L266.13 182.16L265.83 214.99L265.64 238.33M266.71 143.62L267.01 143.75L267.30 157.66L267.59 183.51L267.89 217.65L268.05 238.32M305.42 71.24L305.12 77.25L304.83 106.51L304.54 154.67L304.24 214.68L304.13 238.33M305.42 71.24L305.71 89.46L306.00 129.38L306.30 185.31L306.54 238.32M310.11 64.61L309.81 80.99L309.52 120.04L309.23 176.03L308.95 238.32M310.11 64.61L310.40 73.39L310.69 106.13L310.99 158.19L311.28 222.07L311.35 238.32M430.32 200.56L430.03 205.11L429.73 214.60L429.44 227.74L429.23 238.33M430.32 200.56L430.61 201.52L430.91 207.74L431.20 218.24L431.49 231.43L431.64 238.32M442.34 263.43L442.05 260.34L441.75 253.96L441.46 245.15L441.26 238.33M442.34 263.43L442.63 262.85L442.93 258.77L443.22 251.84L443.51 243.12L443.67 238.33" stroke="#1a62d8" stroke-width="2.15" stroke-dasharray="10.5 3.3" stroke-dashoffset="12.10"/><path d="M230.65 275.00L230.36 270.06L230.06 260.66L229.77 248.23L229.56 238.32M230.65 275.00L230.94 274.67L231.24 269.01L231.53 258.76L231.82 245.32L231.96 238.33M262.02 151.38L261.73 158.69L261.44 177.38L261.14 204.59L260.85 236.30L260.83 238.33M262.02 151.38L262.32 156.65L262.61 173.90L262.90 200.77L263.20 233.46L263.24 238.33M435.30 205.98L435.01 207.09L434.72 212.79L434.42 222.35L434.13 234.43L434.04 238.32M435.30 205.98L435.60 209.53L435.89 217.15L436.18 227.66L436.45 238.32" stroke="#1a62d8" stroke-width="2.15" stroke-dasharray="10.5 3.3" stroke-dashoffset="13.00"/><path d="M177.87 242.64L177.58 242.36L177.29 241.50L176.99 240.21L176.70 238.70L176.63 238.33M177.87 242.64L178.17 242.30L178.46 241.37L178.75 239.96L179.04 238.33M240.33 288.05L240.03 282.68L239.74 271.02L239.45 254.87L239.18 238.33M240.33 288.05L240.62 286.24L240.91 277.41L241.21 262.70L241.50 244.19L241.59 238.32M279.03 356.86L278.74 356.72L278.44 339.51L278.15 307.88L277.86 266.55L277.67 238.33M279.03 356.86L279.32 339.74L279.61 307.70L279.91 265.24L280.08 238.33M339.13 55.94L338.84 58.49L338.55 87.12L338.25 137.70L337.96 202.94L337.81 238.32M339.13 55.94L339.43 79.79L339.72 126.55L340.01 189.40L340.22 238.33M370.21 383.20L369.92 367.68L369.63 333.23L369.33 284.73L369.09 238.33M370.21 383.20L370.51 377.71L370.80 352.13L371.09 310.33L371.39 258.44L371.49 238.32M440.00 210.79L439.70 213.36L439.41 219.64L439.12 228.78L438.85 238.32M440.00 210.79L440.29 212.23L440.58 217.38L440.87 225.43L441.17 235.16L441.26 238.33" stroke="#1a62d8" stroke-width="2.15" stroke-dasharray="10.5 3.3" stroke-dashoffset="3.58"/><path d="M192.24 246.80L191.95 245.97L191.65 244.07L191.36 241.39L191.07 238.35L191.07 238.33M192.24 246.80L192.53 246.41L192.83 244.82L193.12 242.23L193.41 239.00L193.47 238.33M209.25 221.33L208.95 221.60L208.66 224.26L208.37 228.87L208.07 234.74L207.91 238.32M209.25 221.33L209.54 223.55L209.83 227.98L210.13 234.04L210.31 238.33M211.59 257.14L211.30 256.29L211.01 252.89L210.71 247.47L210.42 240.86L210.31 238.33M211.59 257.14L211.89 255.25L212.18 250.84L212.47 244.49L212.72 238.33M254.69 310.65L254.40 300.52L254.11 281.60L253.81 256.72L253.61 238.33M254.69 310.65L254.99 310.36L255.28 299.56L255.57 279.66L255.87 253.45L256.02 238.32M269.35 338.84L269.06 335.98L268.77 319.09L268.47 290.76L268.18 255.21L268.05 238.32M269.35 338.84L269.65 327.09L269.94 302.26L270.23 267.83L270.45 238.33M274.04 349.16L273.75 339.56L273.46 315.47L273.16 280.53L272.87 239.88L272.86 238.32M274.04 349.16L274.34 342.72L274.63 321.01L274.92 287.02L275.22 245.58L275.27 238.33M298.09 394.99L297.79 380.63L297.50 345.80L297.21 295.67L296.92 238.33M298.09 394.99L298.38 386.69L298.67 356.77L298.97 309.46L299.26 251.53L299.32 238.32M315.09 61.83L314.80 63.40L314.51 90.26L314.21 138.45L313.92 200.94L313.76 238.32M315.09 61.83L315.39 85.86L315.68 132.07L315.97 193.84L316.16 238.33M319.78 55.51L319.49 67.88L319.20 104.89L318.90 161.12L318.61 228.40L318.57 238.33M319.78 55.51L320.08 69.62L320.37 108.22L320.66 165.76L320.96 233.93L320.97 238.32M322.13 422.18L321.84 404.38L321.54 362.58L321.25 302.87L320.97 238.32M322.13 422.18L322.42 413.35L322.72 379.14L323.01 324.46L323.30 257.22L323.38 238.33M351.16 411.23L350.86 408.37L350.57 380.82L350.28 332.49L349.98 270.32L349.84 238.33M351.16 411.23L351.45 389.08L351.74 345.22L352.04 286.08L352.25 238.33M403.93 317.51L403.64 310.74L403.35 293.31L403.05 267.63L402.77 238.33M403.93 317.51L404.22 312.79L404.52 297.42L404.81 273.76L405.10 245.33L405.18 238.32M452.02 255.97L451.72 254.28L451.43 250.21L451.14 244.30L450.88 238.32M452.02 255.97L452.31 255.09L452.60 251.83L452.90 246.71L453.19 240.51L453.29 238.32" stroke="#1a62d8" stroke-width="2.15" stroke-dasharray="10.5 3.3" stroke-dashoffset="7.72"/><path d="M201.92 251.18L201.62 250.26L201.33 247.65L201.04 243.77L200.74 239.20L200.69 238.33M201.92 251.18L202.21 250.23L202.50 247.52L202.80 243.39L203.09 238.42L203.09 238.32M288.41 376.91L288.12 360.51L287.82 326.61L287.53 280.25L287.29 238.32M288.41 376.91L288.70 373.29L289.00 350.01L289.29 310.30L289.58 259.81L289.70 238.32M358.19 73.44L357.90 90.68L357.61 129.45L357.31 184.22L357.06 238.33M358.19 73.44L358.49 80.11L358.78 109.61L359.07 157.55L359.37 216.90L359.47 238.33M375.20 373.48L374.90 370.56L374.61 348.38L374.32 310.00L374.03 260.89L373.90 238.33M375.20 373.48L375.49 356.88L375.78 323.32L376.08 277.78L376.31 238.33M379.89 365.23L379.60 355.03L379.30 327.76L379.01 287.22L378.72 239.19L378.71 238.33M379.89 365.23L380.18 357.04L380.48 331.80L380.77 293.32L381.06 247.26L381.12 238.32" stroke="#1a62d8" stroke-width="2.15" stroke-dasharray="10.5 3.3" stroke-dashoffset="13.02"/><path d="M367.87 88.50L367.57 100.15L367.28 131.98L366.99 179.48L366.70 235.85L366.68 238.33M367.87 88.50L368.16 98.55L368.45 128.71L368.75 174.48L369.04 229.14L369.09 238.33M420.94 188.21L420.64 188.30L420.35 195.71L420.06 209.48L419.76 227.69L419.61 238.33M420.94 188.21L421.23 195.31L421.52 208.48L421.82 225.71L422.01 238.33M444.98 215.46L444.69 215.63L444.39 219.12L444.10 225.50L443.81 233.90L443.67 238.33M444.98 215.46L445.27 218.58L445.57 224.47L445.86 232.22L446.07 238.32M457.00 252.72L456.71 252.59L456.41 250.35L456.12 246.30L455.83 240.98L455.69 238.32M457.00 252.72L457.29 250.80L457.59 247.13L457.88 242.28L458.10 238.32" stroke="#1a62d8" stroke-width="2.15" stroke-dasharray="10.5 3.3" stroke-dashoffset="11.59"/><path d="M223.61 209.14L223.32 210.53L223.03 215.88L222.73 224.35L222.44 234.65L222.34 238.32M223.61 209.14L223.91 212.00L224.20 218.76L224.49 228.53L224.75 238.33M317.44 418.67L317.14 411.73L316.85 379.72L316.56 327.34L316.26 262.23L316.16 238.33M317.44 418.67L317.73 399.48L318.02 356.86L318.32 296.95L318.57 238.33M377.54 106.84L377.25 113.56L376.96 138.49L376.66 178.16L376.37 226.93L376.31 238.33M377.54 106.84L377.84 119.14L378.13 148.53L378.42 190.61L378.71 238.33M396.60 146.82L396.31 159.86L396.02 184.50L395.72 217.29L395.55 238.32M396.60 146.82L396.89 147.11L397.19 160.54L397.48 185.00L397.77 216.83L397.96 238.33M454.36 222.40L454.07 224.40L453.78 228.50L453.48 234.13L453.29 238.32M454.36 222.40L454.66 222.72L454.95 225.27L455.24 229.64L455.53 235.15L455.69 238.32M466.38 247.97L466.09 246.73L465.80 244.22L465.50 240.79L465.32 238.33M466.38 247.97L466.68 247.80L466.97 246.27L467.26 243.65L467.56 240.33L467.72 238.32" stroke="#1a62d8" stroke-width="2.15" stroke-dasharray="10.5 3.3" stroke-dashoffset="1.89"/><path d="M213.94 217.65L213.64 219.18L213.35 223.43L213.06 229.71L212.77 237.09L212.72 238.33M213.94 217.65L214.23 219.12L214.52 223.43L214.82 230.02L215.11 237.97L215.12 238.32M221.27 264.94L220.97 264.45L220.68 260.22L220.39 252.94L220.10 243.72L219.93 238.33M221.27 264.94L221.56 261.54L221.85 254.67L222.15 245.26L222.34 238.32M225.96 270.07L225.67 267.64L225.37 261.05L225.08 251.33L224.79 239.93L224.75 238.33M225.96 270.07L226.25 267.90L226.55 261.36L226.84 251.32L227.13 239.18L227.15 238.33M228.30 204.07L228.01 207.68L227.72 215.62L227.43 226.67L227.15 238.33M228.30 204.07L228.60 205.40L228.89 211.57L229.18 221.78L229.48 234.61L229.56 238.32M245.31 295.09L245.02 293.76L244.72 284.49L244.43 268.73L244.14 248.85L243.99 238.33M245.31 295.09L245.60 288.15L245.90 273.81L246.19 254.06L246.40 238.32M295.74 85.57L295.45 95.14L295.15 125.32L294.86 171.61L294.57 227.22L294.51 238.33M295.74 85.57L296.03 98.13L296.33 131.16L296.62 179.97L296.91 237.58L296.92 238.33M307.76 409.37L307.47 398.22L307.18 364.02L306.88 311.80L306.59 249.19L306.54 238.32M307.76 409.37L308.06 395.74L308.35 359.19L308.64 304.95L308.93 240.80L308.95 238.32M334.15 52.58L333.86 71.04L333.56 113.75L333.27 174.52L333.00 238.32M334.15 52.58L334.44 61.03L334.74 95.15L335.03 149.97L335.32 217.54L335.41 238.32M343.83 56.69L343.53 69.90L343.24 107.56L342.95 164.28L342.65 231.86L342.63 238.33M343.83 56.69L344.12 69.79L344.41 107.23L344.71 163.55L345.00 230.54L345.03 238.33M348.52 63.09L348.22 86.15L347.93 131.36L347.64 192.24L347.44 238.33M348.52 63.09L348.81 65.45L349.10 92.80L349.40 141.10L349.69 203.29L349.84 238.33M363.18 81.86L362.88 84.84L362.59 110.15L362.30 154.22L362.00 210.78L361.87 238.33M363.18 81.86L363.47 101.49L363.76 140.76L364.06 193.87L364.28 238.32M401.59 154.65L401.29 159.35L401.00 175.63L400.71 201.27L400.41 232.65L400.36 238.32M401.59 154.65L401.88 162.06L402.17 180.35L402.47 206.73L402.76 237.31L402.77 238.33M481.04 243.29L480.75 243.22L480.46 242.42L480.16 241.00L479.87 239.15L479.75 238.33M481.04 243.29L481.34 242.65L481.63 241.41L481.92 239.77L482.16 238.32" stroke="#1a62d8" stroke-width="2.15" stroke-dasharray="10.5 3.3" stroke-dashoffset="1.68"/><path d="M77.60 231.33V245.33M70.60 238.33H84.60M106.92 231.32V245.32M99.92 238.32H113.92M136.24 231.07V245.07M129.24 238.07H143.24M165.56 229.14V243.14M158.56 236.14H172.56M194.88 222.14V236.14M187.88 229.14H201.88M224.20 211.76V225.76M217.20 218.76H231.20M253.52 222.56V236.56M246.52 229.56H260.52M282.84 289.13V303.13M275.84 296.13H289.84M312.16 377.50V391.50M305.16 384.50H319.16M341.48 406.80V420.80M334.48 413.80H348.48M370.80 345.13V359.13M363.80 352.13H377.80M400.12 258.28V272.28M393.12 265.28H407.12M429.44 220.74V234.74M422.44 227.74H436.44M458.76 221.05V235.05M451.76 228.05H465.76M488.08 227.81V241.81M481.08 234.81H495.08M517.40 230.70V244.70M510.40 237.70H524.40M546.72 231.27V245.27M539.72 238.27H553.72M576.04 231.33V245.33M569.04 238.33H583.04M605.36 231.33V245.33M598.36 238.33H612.36M634.68 231.33V245.33M627.68 238.33H641.68M664.00 231.33V245.33M657.00 238.33H671.00" stroke="#1a62d8" stroke-width="1.8"/><path d="M77.60 238.33L136.24 238.07L136.53 237.95L136.83 237.89L137.12 237.89L137.41 237.96L137.71 238.08L138.00 238.24L138.14 238.33M544.71 238.33L544.96 238.29L545.25 238.25L545.55 238.22L545.84 238.21L546.13 238.22L546.43 238.24L546.72 238.27L664.00 238.33" stroke="#2ca25e" stroke-width="2.15" stroke-dasharray="2.3 2.3"/><path d="M138.14 238.33L138.29 238.42L138.59 238.59L138.88 238.73L139.17 238.82L139.47 238.83L139.76 238.78L140.05 238.65L140.34 238.47L140.54 238.32M140.54 238.32L140.64 238.26L140.93 238.05L141.22 237.88L141.52 237.77L141.81 237.73L142.10 237.78L142.40 237.92L142.69 238.11L142.95 238.33M142.95 238.33L142.98 238.35L143.28 238.59L143.57 238.80L143.86 238.95L144.16 239.01L144.45 238.97L144.74 238.84L145.04 238.62L145.33 238.35L145.36 238.33M145.36 238.33L145.62 238.07L145.92 237.82L146.21 237.63L146.50 237.54L146.80 237.56L147.09 237.69L147.38 237.93L147.67 238.23L147.76 238.33M147.76 238.33L147.97 238.55L148.26 238.85L148.55 239.09L148.85 239.22L149.14 239.22L149.43 239.09L149.73 238.85L150.02 238.51L150.17 238.32M150.17 238.32L150.31 238.14L150.61 237.78L150.90 237.49L151.19 237.31L151.49 237.28L151.78 237.40L152.07 237.66L152.37 238.03L152.57 238.33M152.57 238.33L152.66 238.45L152.95 238.87L153.25 239.22L153.54 239.46L153.83 239.53L154.13 239.43L154.42 239.16L154.71 238.76L154.98 238.33M154.98 238.33L155.00 238.28L155.30 237.80L155.59 237.37L155.88 237.07L156.18 236.95L156.47 237.02L156.76 237.29L157.06 237.72L157.35 238.26L157.39 238.33M157.39 238.33L157.64 238.82L157.94 239.33L158.23 239.70L158.52 239.89L158.82 239.85L159.11 239.59L159.40 239.13L159.70 238.53L159.79 238.33M159.79 238.33L159.99 237.89L160.28 237.29L160.58 236.82L160.87 236.56L161.16 236.55L161.46 236.80L161.75 237.29L162.04 237.94L162.20 238.33M162.20 238.33L162.33 238.67L162.63 239.37L162.92 239.95L163.21 240.30L163.51 240.37L163.80 240.14L164.09 239.64L164.39 238.93L164.60 238.33M164.60 238.33L164.68 238.10L164.97 237.29L165.27 236.60L165.56 236.14L165.85 235.99L166.15 236.18L166.44 236.69L166.73 237.46L167.01 238.33M167.01 238.33L167.03 238.38L167.32 239.32L167.61 240.14L167.91 240.73L168.20 240.97L168.49 240.84L168.79 240.32L169.08 239.50L169.37 238.48L169.41 238.33M169.41 238.33L169.66 237.41L169.96 236.44L170.25 235.71L170.54 235.35L170.84 235.41L171.13 235.91L171.42 236.78L171.72 237.90L171.82 238.33M171.82 238.33L172.01 239.12L172.30 240.25L172.60 241.14L172.89 241.65L173.18 241.67L173.48 241.21L173.77 240.30L174.06 239.08L174.22 238.33M174.22 238.33L174.36 237.71L174.65 236.39L174.94 235.32L175.24 234.65L175.53 234.51L175.82 234.92L176.12 235.85L176.41 237.17L176.63 238.33M185.20 232.30L184.91 232.36L184.62 233.28L184.32 234.89L184.03 236.95L183.85 238.33M185.20 232.30L185.50 233.12L185.79 234.73L186.08 236.91L186.25 238.32M194.59 228.98L194.29 230.17L194.00 232.49L193.71 235.59L193.47 238.33M194.59 228.98L194.88 229.14L195.17 230.65L195.47 233.32L195.76 236.81L195.88 238.33M250.00 303.42L249.71 298.11L249.42 284.28L249.12 264.06L248.83 240.44L248.80 238.33M250.00 303.42L250.29 299.31L250.59 286.23L250.88 265.96L251.17 241.34L251.21 238.33M259.68 320.64L259.38 316.10L259.09 300.43L258.80 276.03L258.50 246.53L258.42 238.33M259.68 320.64L259.97 313.23L260.26 294.80L260.56 267.89L260.83 238.33M300.43 78.92L300.14 98.20L299.85 137.61L299.55 191.33L299.32 238.32M300.43 78.92L300.73 82.68L301.02 109.08L301.31 154.40L301.60 212.16L301.73 238.32M303.07 400.25L302.78 399.22L302.48 374.96L302.19 331.08L301.90 274.05L301.73 238.32M303.07 400.25L303.36 377.76L303.66 334.91L303.95 277.81L304.13 238.33M346.17 417.44L345.88 399.18L345.58 357.53L345.29 298.48L345.03 238.33M346.17 417.44L346.46 409.75L346.76 377.28L347.05 324.81L347.34 259.99L347.44 238.33M391.91 135.72L391.62 144.23L391.32 166.54L391.03 199.57L390.74 238.33M391.91 135.72L392.20 142.09L392.50 162.25L392.79 193.13L393.08 230.17L393.15 238.32M411.26 172.43L410.97 174.36L410.68 185.65L410.38 204.81L410.09 229.15L409.99 238.33M411.26 172.43L411.55 180.01L411.85 195.86L412.14 217.58L412.39 238.33M413.61 300.57L413.31 296.92L413.02 284.65L412.73 265.43L412.43 241.95L412.39 238.33M413.61 300.57L413.90 295.22L414.19 281.77L414.49 262.28L414.78 239.65L414.80 238.32M427.97 279.35L427.68 275.63L427.39 266.38L427.09 252.87L426.83 238.32M427.97 279.35L428.27 277.11L428.56 269.34L428.85 257.26L429.15 242.68L429.23 238.33M464.04 227.54L463.74 228.60L463.45 231.12L463.16 234.76L462.91 238.33M464.04 227.54L464.33 228.04L464.62 230.01L464.92 233.12L465.21 236.90L465.32 238.33M471.37 246.17L471.07 245.84L470.78 244.40L470.49 242.03L470.19 239.05L470.13 238.33M471.37 246.17L471.66 245.37L471.95 243.58L472.25 241.09L472.53 238.33M484.56 238.33L484.85 239.87L485.15 241.16L485.44 242.00L485.73 242.30L486.03 242.02L486.32 241.21L486.61 240.02L486.91 238.62L486.97 238.32M486.97 238.32L487.20 237.22L487.49 236.02L487.79 235.18L488.08 234.81L488.37 234.96L488.67 235.59L488.96 236.58L489.25 237.80L489.38 238.33M489.38 238.33L489.55 239.06L489.84 240.17L490.13 240.99L490.43 241.40L490.72 241.36L491.01 240.89L491.31 240.07L491.60 239.02L491.78 238.33M491.78 238.33L491.89 237.90L492.18 236.88L492.48 236.09L492.77 235.65L493.06 235.60L493.36 235.95L493.65 236.62L493.94 237.52L494.19 238.32M494.19 238.32L494.24 238.50L494.53 239.43L494.82 240.17L495.12 240.63L495.41 240.74L495.70 240.51L496.00 239.97L496.29 239.21L496.58 238.35L496.59 238.33M496.59 238.33L496.88 237.51L497.17 236.81L497.46 236.35L497.76 236.19L498.05 236.34L498.34 236.76L498.64 237.40L498.93 238.15L499.00 238.33M499.00 238.33L499.22 238.90L499.51 239.54L499.81 239.99L500.10 240.19L500.39 240.12L500.69 239.79L500.98 239.26L501.27 238.62L501.40 238.32M501.40 238.32L501.57 237.95L501.86 237.36L502.15 236.93L502.45 236.70L502.74 236.72L503.03 236.97L503.33 237.40L503.62 237.95L503.81 238.33M503.81 238.33L503.91 238.53L504.21 239.07L504.50 239.49L504.79 239.72L505.09 239.75L505.38 239.57L505.67 239.22L505.97 238.76L506.21 238.32M506.21 238.32L506.26 238.25L506.55 237.76L506.84 237.37L507.14 237.13L507.43 237.07L507.72 237.19L508.02 237.47L508.31 237.86L508.60 238.30L508.62 238.33M508.62 238.33L508.90 238.73L509.19 239.09L509.48 239.33L509.78 239.42L510.07 239.35L510.36 239.13L510.66 238.81L510.95 238.43L511.03 238.32M511.03 238.32L511.24 238.04L511.54 237.71L511.83 237.48L512.12 237.38L512.42 237.41L512.71 237.58L513.00 237.84L513.30 238.17L513.43 238.33M513.43 238.33L513.59 238.50L513.88 238.80L514.17 239.03L514.47 239.14L514.76 239.13L515.05 239.01L515.35 238.80L515.64 238.52L515.84 238.33M515.84 238.33L515.93 238.23L516.23 237.96L516.52 237.75L516.81 237.63L517.11 237.61L517.40 237.70L517.69 237.87L517.99 238.10L518.24 238.33M518.24 238.33L518.28 238.36L518.57 238.60L518.87 238.79L519.16 238.91L519.45 238.94L519.75 238.89L520.04 238.75L520.33 238.56L520.63 238.34L520.65 238.32M520.65 238.32L520.92 238.13L521.21 237.95L521.50 237.83L521.80 237.79L522.09 237.82L522.38 237.93L522.68 238.09L522.97 238.27L523.06 238.33M523.06 238.33L523.26 238.46L523.56 238.62L523.85 238.73L524.14 238.78L524.44 238.77L524.73 238.69L525.02 238.56L525.32 238.41L525.46 238.33M525.46 238.33L525.61 238.24L525.90 238.10L526.20 237.99L526.49 237.93L526.78 237.94L527.08 237.99L527.37 238.10L527.66 238.23L527.87 238.32M527.87 238.32L527.96 238.37L528.25 238.50L528.54 238.60L528.83 238.66L529.13 238.66L529.42 238.62L529.71 238.54L530.01 238.43L530.27 238.33M530.27 238.33L530.30 238.31L530.59 238.20L530.89 238.11L531.18 238.05L531.47 238.03L531.77 238.06L532.06 238.12L532.35 238.21L532.65 238.31L532.68 238.33M532.68 238.33L532.94 238.41L533.23 238.50L533.53 238.55L533.82 238.58L534.11 238.56L534.41 238.51L534.70 238.44L534.99 238.35L535.08 238.33M535.08 238.33L535.29 238.27L535.58 238.19L535.87 238.14L536.16 238.11L536.46 238.12L536.75 238.16L537.04 238.21L537.34 238.29L537.49 238.33M537.49 238.33L537.63 238.36L537.92 238.43L538.22 238.48L538.51 238.50L538.80 238.50L539.10 238.48L539.39 238.43L539.68 238.37L539.89 238.33M539.89 238.33L539.98 238.31L540.27 238.25L540.56 238.20L540.86 238.18L541.15 238.17L541.44 238.19L541.74 238.23L542.03 238.27L542.30 238.33M542.30 238.33L542.32 238.33L542.62 238.38L542.91 238.42L543.20 238.45L543.49 238.46L543.79 238.45L544.08 238.42L544.37 238.38L544.67 238.33L544.71 238.33" stroke="#2ca25e" stroke-width="2.15" stroke-dasharray="2.3 2.3" stroke-dashoffset="0.00"/><path d="M180.22 233.48L179.93 233.94L179.63 235.02L179.34 236.54L179.05 238.27L179.04 238.33M180.22 233.48L180.51 233.71L180.81 234.64L181.10 236.13L181.39 237.99L181.44 238.33M449.67 218.94L449.38 220.22L449.08 224.19L448.79 230.32L448.50 237.76L448.48 238.32M449.67 218.94L449.96 220.46L450.26 224.51L450.55 230.45L450.84 237.39L450.88 238.32" stroke="#2ca25e" stroke-width="2.15" stroke-dasharray="2.3 2.3" stroke-dashoffset="4.60"/><path d="M197.23 248.68L196.93 248.55L196.64 246.95L196.35 244.16L196.05 240.60L195.88 238.33M197.23 248.68L197.52 247.30L197.81 244.57L198.11 240.85L198.28 238.33M233.29 198.54L233.00 199.37L232.70 205.78L232.41 216.75L232.12 230.61L231.96 238.33M233.29 198.54L233.58 203.52L233.88 213.67L234.17 227.62L234.37 238.32M264.37 329.43L264.08 319.12L263.78 297.31L263.49 267.28L263.24 238.33M264.37 329.43L264.66 326.59L264.95 310.84L265.25 284.32L265.54 250.77L265.64 238.33M324.47 54.90L324.18 78.05L323.89 124.38L323.59 187.14L323.38 238.33M324.47 54.90L324.77 58.30L325.06 87.79L325.35 139.14L325.65 204.91L325.79 238.33M353.50 66.78L353.21 74.68L352.91 106.36L352.62 157.34L352.33 220.27L352.25 238.33M353.50 66.78L353.79 83.71L354.09 122.91L354.38 178.63L354.65 238.33M372.56 99.35L372.27 118.39L371.97 155.02L371.68 204.05L371.49 238.32M372.56 99.35L372.85 100.51L373.15 121.55L373.44 159.27L373.73 208.09L373.90 238.33M382.23 116.81L381.94 130.15L381.65 159.37L381.36 200.36L381.12 238.32M382.23 116.81L382.53 121.12L382.82 142.28L383.11 177.08L383.41 220.37L383.52 238.32" stroke="#2ca25e" stroke-width="2.15" stroke-dasharray="2.3 2.3" stroke-dashoffset="9.20"/><path d="M182.57 243.72L182.27 243.05L181.98 241.72L181.69 239.95L181.44 238.33M182.57 243.72L182.86 243.62L183.15 242.73L183.45 241.17L183.74 239.15L183.85 238.33M189.90 230.70L189.60 231.23L189.31 232.76L189.02 235.04L188.72 237.74L188.66 238.32M189.90 230.70L190.19 231.28L190.48 232.91L190.78 235.38L191.07 238.33M216.28 260.85L215.99 258.54L215.70 253.37L215.40 246.15L215.12 238.32M216.28 260.85L216.58 259.92L216.87 255.81L217.16 249.04L217.46 240.55L217.53 238.32M218.63 213.97L218.34 217.18L218.04 223.36L217.75 231.56L217.53 238.32M218.63 213.97L218.92 214.25L219.22 218.07L219.51 224.93L219.80 233.91L219.93 238.33M237.98 191.80L237.69 195.48L237.39 205.25L237.10 219.60L236.81 236.39L236.77 238.33M237.98 191.80L238.27 194.85L238.57 204.32L238.86 218.92L239.15 236.62L239.18 238.33M329.46 52.51L329.17 60.13L328.87 93.56L328.58 147.93L328.29 215.38L328.19 238.33M329.46 52.51L329.75 71.81L330.05 115.23L330.34 176.49L330.60 238.32M355.85 407.18L355.55 394.47L355.26 359.03L354.97 305.91L354.67 242.73L354.65 238.33M355.85 407.18L356.14 395.42L356.43 361.03L356.73 309.06L357.02 247.13L357.06 238.33M415.95 179.99L415.66 185.13L415.37 198.12L415.07 217.19L414.80 238.32M415.95 179.99L416.25 183.32L416.54 194.50L416.83 211.81L417.13 232.65L417.20 238.33M483.39 233.86L483.10 234.06L482.80 234.89L482.51 236.25L482.22 237.96L482.16 238.32M483.39 233.86L483.68 234.31L483.98 235.32L484.27 236.72L484.56 238.32L484.56 238.33" stroke="#2ca25e" stroke-width="2.15" stroke-dasharray="2.3 2.3" stroke-dashoffset="13.80"/><path d="M187.55 245.13L187.26 244.86L186.96 243.66L186.67 241.73L186.38 239.36L186.25 238.32M187.55 245.13L187.84 244.41L188.14 242.78L188.43 240.45L188.66 238.32M204.26 224.18L203.97 225.60L203.68 228.81L203.38 233.31L203.09 238.32M204.26 224.18L204.56 224.80L204.85 227.42L205.14 231.71L205.44 237.06L205.50 238.33M235.63 281.52L235.34 279.35L235.05 271.33L234.76 258.71L234.46 243.39L234.37 238.32M235.63 281.52L235.93 277.41L236.22 267.51L236.51 253.16L236.77 238.33M257.33 161.01L257.04 163.01L256.75 175.83L256.45 197.45L256.16 224.66L256.02 238.32M257.33 161.01L257.62 170.26L257.92 189.57L258.21 216.26L258.42 238.33M389.56 345.68L389.27 339.93L388.98 319.31L388.69 286.66L388.39 246.62L388.33 238.33M389.56 345.68L389.86 335.91L390.15 312.18L390.44 278.08L390.74 238.63L390.74 238.33M394.26 335.61L393.96 324.67L393.67 301.02L393.38 267.95L393.15 238.32M394.26 335.61L394.55 332.41L394.84 315.69L395.14 288.04L395.43 253.55L395.55 238.32M399.24 326.04L398.95 323.69L398.65 308.87L398.36 283.58L398.07 251.36L397.96 238.33M399.24 326.04L399.53 315.72L399.83 294.40L400.12 265.28L400.36 238.32M406.28 163.98L405.98 172.53L405.69 190.81L405.40 216.28L405.18 238.32M406.28 163.98L406.57 166.24L406.86 178.84L407.16 199.82L407.45 226.04L407.58 238.33M408.62 307.57L408.33 297.51L408.04 278.66L407.74 253.65L407.58 238.33M408.62 307.57L408.92 307.53L409.21 297.53L409.50 279.16L409.80 255.19L409.99 238.33M418.30 292.56L418.01 286.17L417.71 272.69L417.42 253.97L417.20 238.33M418.30 292.56L418.59 291.05L418.88 281.98L419.18 266.79L419.47 247.76L419.61 238.33M447.33 259.46L447.03 258.68L446.74 254.90L446.45 248.61L446.15 240.67L446.07 238.32M447.33 259.46L447.62 257.19L447.91 252.27L448.20 245.45L448.48 238.32M459.35 225.14L459.05 225.66L458.76 228.05L458.47 232.01L458.17 236.99L458.10 238.32M459.35 225.14L459.64 226.52L459.93 229.56L460.23 233.78L460.51 238.32M461.69 250.30L461.40 249.47L461.11 246.99L460.81 243.18L460.52 238.55L460.51 238.32M461.69 250.30L461.99 249.39L462.28 246.92L462.57 243.27L462.86 239.01L462.91 238.33M473.71 231.27L473.42 231.77L473.13 233.25L472.83 235.52L472.54 238.26L472.53 238.33M473.71 231.27L474.01 231.78L474.30 233.23L474.59 235.36L474.89 237.86L474.94 238.32M478.40 232.75L478.11 233.48L477.82 234.95L477.52 236.95L477.35 238.33M478.40 232.75L478.70 232.83L478.99 233.70L479.28 235.21L479.58 237.12L479.75 238.33" stroke="#2ca25e" stroke-width="2.15" stroke-dasharray="2.3 2.3" stroke-dashoffset="18.40"/><path d="M247.66 177.29L247.36 180.51L247.07 191.98L246.78 209.94L246.48 231.70L246.40 238.32M247.66 177.29L247.95 182.94L248.24 196.77L248.54 216.88L248.80 238.33M271.70 132.35L271.41 138.46L271.11 158.89L270.82 190.53L270.53 228.70L270.45 238.33M271.70 132.35L271.99 141.61L272.28 165.07L272.58 199.45L272.86 238.32M365.52 392.05L365.23 384.58L364.94 355.81L364.64 309.79L364.35 253.08L364.28 238.32M365.52 392.05L365.82 377.27L366.11 342.53L366.40 292.97L366.68 238.33M384.58 353.75L384.29 337.62L383.99 306.87L383.70 265.83L383.52 238.32M384.58 353.75L384.87 353.08L385.17 335.88L385.46 304.79L385.75 264.44L385.93 238.33M387.22 126.88L386.93 129.58L386.63 148.14L386.34 180.03L386.05 220.74L385.93 238.33M387.22 126.88L387.51 140.28L387.81 167.66L388.10 204.93L388.33 238.33M469.02 229.67L468.73 229.77L468.44 231.14L468.14 233.59L467.85 236.81L467.72 238.32M469.02 229.67L469.32 230.80L469.61 232.99L469.90 235.88L470.13 238.33M476.06 244.62L475.77 243.99L475.47 242.50L475.18 240.36L474.94 238.32M476.06 244.62L476.35 244.34L476.65 243.21L476.94 241.41L477.23 239.21L477.35 238.33" stroke="#2ca25e" stroke-width="2.15" stroke-dasharray="2.3 2.3" stroke-dashoffset="23.00"/><path d="M199.57 226.74L199.28 227.24L198.98 229.31L198.69 232.62L198.40 236.66L198.28 238.33M199.57 226.74L199.86 227.93L200.16 230.68L200.45 234.62L200.69 238.33M252.35 169.44L252.05 177.05L251.76 193.37L251.47 215.91L251.21 238.33M252.35 169.44L252.64 171.76L252.93 183.84L253.23 204.05L253.52 229.56L253.61 238.33M283.72 368.55L283.43 360.72L283.13 335.30L282.84 296.13L282.55 248.97L282.48 238.32M283.72 368.55L284.01 357.51L284.31 329.02L284.60 287.09L284.89 238.33M293.40 386.09L293.10 381.15L292.81 355.62L292.52 313.35L292.22 260.55L292.11 238.32M293.40 386.09L293.69 369.59L293.98 333.89L294.27 284.05L294.51 238.33M312.45 413.35L312.16 391.72L311.87 347.98L311.57 288.55L311.35 238.32M312.45 413.35L312.75 409.66L313.04 381.10L313.33 331.72L313.63 268.63L313.76 238.32M336.50 421.83L336.20 398.17L335.91 351.33L335.62 288.07L335.41 238.32M336.50 421.83L336.79 418.89L337.08 389.82L337.38 338.85L337.67 273.39L337.81 238.32M341.48 421.06L341.19 413.11L340.89 379.80L340.60 325.91L340.31 259.23L340.22 238.33M341.48 421.06L341.77 402.56L342.07 360.33L342.36 300.53L342.63 238.33M360.54 398.05L360.24 376.60L359.95 334.95L359.66 279.03L359.47 238.33M360.54 398.05L360.83 396.31L361.12 371.76L361.42 328.07L361.71 271.67L361.87 238.33M423.28 285.58L422.99 284.08L422.70 275.86L422.40 262.02L422.11 244.47L422.01 238.33M423.28 285.58L423.58 280.27L423.87 269.02L424.16 253.56L424.42 238.33M425.63 194.12L425.34 196.83L425.04 205.65L424.75 219.41L424.46 236.18L424.42 238.33M425.63 194.12L425.92 197.81L426.21 207.26L426.51 221.00L426.80 236.98L426.83 238.32M432.96 272.97L432.67 272.81L432.37 267.61L432.08 258.02L431.79 245.36L431.64 238.32M432.96 272.97L433.25 268.15L433.54 259.14L433.84 247.31L434.04 238.32" stroke="#2ca25e" stroke-width="2.15" stroke-dasharray="2.3 2.3" stroke-dashoffset="27.60"/><path d="M276.39 123.31L276.10 136.63L275.80 164.46L275.51 202.65L275.27 238.33M276.39 123.31L276.68 126.61L276.98 146.21L277.27 179.43L277.56 221.55L277.67 238.33M281.37 113.58L281.08 117.44L280.79 138.70L280.49 174.12L280.20 218.46L280.08 238.33M281.37 113.58L281.67 127.84L281.96 158.31L282.25 200.71L282.48 238.32M286.07 103.45L285.77 115.47L285.48 145.12L285.19 187.96L284.89 237.69L284.89 238.33M286.07 103.45L286.36 110.94L286.65 137.03L286.94 178.07L287.24 228.22L287.29 238.32M291.05 96.53L290.76 97.06L290.46 117.98L290.17 156.10L289.88 205.80L289.70 238.32M291.05 96.53L291.34 116.61L291.64 154.54L291.93 204.93L292.11 238.32M327.11 421.96L326.82 419.86L326.53 391.48L326.23 340.94L325.94 275.59L325.79 238.33M327.11 421.96L327.41 397.46L327.70 349.88L327.99 286.11L328.19 238.33M331.80 424.84L331.51 411.75L331.22 373.53L330.92 315.73L330.63 246.71L330.60 238.32M331.80 424.84L332.10 410.92L332.39 372.00L332.68 313.74L332.98 244.57L333.00 238.32M437.65 268.29L437.36 266.38L437.06 260.32L436.77 250.92L436.48 239.49L436.45 238.32M437.65 268.29L437.94 265.86L438.24 259.53L438.53 250.29L438.82 239.51L438.85 238.32" stroke="#2ca25e" stroke-width="2.15" stroke-dasharray="2.3 2.3" stroke-dashoffset="32.20"/><path d="M206.61 253.77L206.31 251.77L206.02 247.89L205.73 242.73L205.50 238.33M206.61 253.77L206.90 253.55L207.19 251.09L207.49 246.70L207.78 240.98L207.91 238.32M242.67 185.61L242.38 192.85L242.09 206.50L241.79 224.50L241.59 238.32M242.67 185.61L242.96 185.95L243.26 193.96L243.55 208.57L243.84 227.78L243.99 238.33M266.71 143.62L266.42 157.13L266.13 182.16L265.83 214.99L265.64 238.33M266.71 143.62L267.01 143.75L267.30 157.66L267.59 183.51L267.89 217.65L268.05 238.32M305.42 71.24L305.12 77.25L304.83 106.51L304.54 154.67L304.24 214.68L304.13 238.33M305.42 71.24L305.71 89.46L306.00 129.38L306.30 185.31L306.54 238.32M310.11 64.61L309.81 80.99L309.52 120.04L309.23 176.03L308.95 238.32M310.11 64.61L310.40 73.39L310.69 106.13L310.99 158.19L311.28 222.07L311.35 238.32M430.32 200.56L430.03 205.11L429.73 214.60L429.44 227.74L429.23 238.33M430.32 200.56L430.61 201.52L430.91 207.74L431.20 218.24L431.49 231.43L431.64 238.32M442.34 263.43L442.05 260.34L441.75 253.96L441.46 245.15L441.26 238.33M442.34 263.43L442.63 262.85L442.93 258.77L443.22 251.84L443.51 243.12L443.67 238.33" stroke="#2ca25e" stroke-width="2.15" stroke-dasharray="2.3 2.3" stroke-dashoffset="36.80"/><path d="M230.65 275.00L230.36 270.06L230.06 260.66L229.77 248.23L229.56 238.32M230.65 275.00L230.94 274.67L231.24 269.01L231.53 258.76L231.82 245.32L231.96 238.33M262.02 151.38L261.73 158.69L261.44 177.38L261.14 204.59L260.85 236.30L260.83 238.33M262.02 151.38L262.32 156.65L262.61 173.90L262.90 200.77L263.20 233.46L263.24 238.33M435.30 205.98L435.01 207.09L434.72 212.79L434.42 222.35L434.13 234.43L434.04 238.32M435.30 205.98L435.60 209.53L435.89 217.15L436.18 227.66L436.45 238.32" stroke="#2ca25e" stroke-width="2.15" stroke-dasharray="2.3 2.3" stroke-dashoffset="41.40"/><path d="M177.87 242.64L177.58 242.36L177.29 241.50L176.99 240.21L176.70 238.70L176.63 238.33M177.87 242.64L178.17 242.30L178.46 241.37L178.75 239.96L179.04 238.33M240.33 288.05L240.03 282.68L239.74 271.02L239.45 254.87L239.18 238.33M240.33 288.05L240.62 286.24L240.91 277.41L241.21 262.70L241.50 244.19L241.59 238.32M279.03 356.86L278.74 356.72L278.44 339.51L278.15 307.88L277.86 266.55L277.67 238.33M279.03 356.86L279.32 339.74L279.61 307.70L279.91 265.24L280.08 238.33M339.13 55.94L338.84 58.49L338.55 87.12L338.25 137.70L337.96 202.94L337.81 238.32M339.13 55.94L339.43 79.79L339.72 126.55L340.01 189.40L340.22 238.33M370.21 383.20L369.92 367.68L369.63 333.23L369.33 284.73L369.09 238.33M370.21 383.20L370.51 377.71L370.80 352.13L371.09 310.33L371.39 258.44L371.49 238.32M440.00 210.79L439.70 213.36L439.41 219.64L439.12 228.78L438.85 238.32M440.00 210.79L440.29 212.23L440.58 217.38L440.87 225.43L441.17 235.16L441.26 238.33" stroke="#2ca25e" stroke-width="2.15" stroke-dasharray="2.3 2.3" stroke-dashoffset="46.00"/><path d="M192.24 246.80L191.95 245.97L191.65 244.07L191.36 241.39L191.07 238.35L191.07 238.33M192.24 246.80L192.53 246.41L192.83 244.82L193.12 242.23L193.41 239.00L193.47 238.33M209.25 221.33L208.95 221.60L208.66 224.26L208.37 228.87L208.07 234.74L207.91 238.32M209.25 221.33L209.54 223.55L209.83 227.98L210.13 234.04L210.31 238.33M211.59 257.14L211.30 256.29L211.01 252.89L210.71 247.47L210.42 240.86L210.31 238.33M211.59 257.14L211.89 255.25L212.18 250.84L212.47 244.49L212.72 238.33M254.69 310.65L254.40 300.52L254.11 281.60L253.81 256.72L253.61 238.33M254.69 310.65L254.99 310.36L255.28 299.56L255.57 279.66L255.87 253.45L256.02 238.32M269.35 338.84L269.06 335.98L268.77 319.09L268.47 290.76L268.18 255.21L268.05 238.32M269.35 338.84L269.65 327.09L269.94 302.26L270.23 267.83L270.45 238.33M274.04 349.16L273.75 339.56L273.46 315.47L273.16 280.53L272.87 239.88L272.86 238.32M274.04 349.16L274.34 342.72L274.63 321.01L274.92 287.02L275.22 245.58L275.27 238.33M298.09 394.99L297.79 380.63L297.50 345.80L297.21 295.67L296.92 238.33M298.09 394.99L298.38 386.69L298.67 356.77L298.97 309.46L299.26 251.53L299.32 238.32M315.09 61.83L314.80 63.40L314.51 90.26L314.21 138.45L313.92 200.94L313.76 238.32M315.09 61.83L315.39 85.86L315.68 132.07L315.97 193.84L316.16 238.33M319.78 55.51L319.49 67.88L319.20 104.89L318.90 161.12L318.61 228.40L318.57 238.33M319.78 55.51L320.08 69.62L320.37 108.22L320.66 165.76L320.96 233.93L320.97 238.32M322.13 422.18L321.84 404.38L321.54 362.58L321.25 302.87L320.97 238.32M322.13 422.18L322.42 413.35L322.72 379.14L323.01 324.46L323.30 257.22L323.38 238.33M351.16 411.23L350.86 408.37L350.57 380.82L350.28 332.49L349.98 270.32L349.84 238.33M351.16 411.23L351.45 389.08L351.74 345.22L352.04 286.08L352.25 238.33M403.93 317.51L403.64 310.74L403.35 293.31L403.05 267.63L402.77 238.33M403.93 317.51L404.22 312.79L404.52 297.42L404.81 273.76L405.10 245.33L405.18 238.32M452.02 255.97L451.72 254.28L451.43 250.21L451.14 244.30L450.88 238.32M452.02 255.97L452.31 255.09L452.60 251.83L452.90 246.71L453.19 240.51L453.29 238.32" stroke="#2ca25e" stroke-width="2.15" stroke-dasharray="2.3 2.3" stroke-dashoffset="50.60"/><path d="M201.92 251.18L201.62 250.26L201.33 247.65L201.04 243.77L200.74 239.20L200.69 238.33M201.92 251.18L202.21 250.23L202.50 247.52L202.80 243.39L203.09 238.42L203.09 238.32M288.41 376.91L288.12 360.51L287.82 326.61L287.53 280.25L287.29 238.32M288.41 376.91L288.70 373.29L289.00 350.01L289.29 310.30L289.58 259.81L289.70 238.32M358.19 73.44L357.90 90.68L357.61 129.45L357.31 184.22L357.06 238.33M358.19 73.44L358.49 80.11L358.78 109.61L359.07 157.55L359.37 216.90L359.47 238.33M375.20 373.48L374.90 370.56L374.61 348.38L374.32 310.00L374.03 260.89L373.90 238.33M375.20 373.48L375.49 356.88L375.78 323.32L376.08 277.78L376.31 238.33M379.89 365.23L379.60 355.03L379.30 327.76L379.01 287.22L378.72 239.19L378.71 238.33M379.89 365.23L380.18 357.04L380.48 331.80L380.77 293.32L381.06 247.26L381.12 238.32" stroke="#2ca25e" stroke-width="2.15" stroke-dasharray="2.3 2.3" stroke-dashoffset="55.20"/><path d="M367.87 88.50L367.57 100.15L367.28 131.98L366.99 179.48L366.70 235.85L366.68 238.33M367.87 88.50L368.16 98.55L368.45 128.71L368.75 174.48L369.04 229.14L369.09 238.33M420.94 188.21L420.64 188.30L420.35 195.71L420.06 209.48L419.76 227.69L419.61 238.33M420.94 188.21L421.23 195.31L421.52 208.48L421.82 225.71L422.01 238.33M444.98 215.46L444.69 215.63L444.39 219.12L444.10 225.50L443.81 233.90L443.67 238.33M444.98 215.46L445.27 218.58L445.57 224.47L445.86 232.22L446.07 238.32M457.00 252.72L456.71 252.59L456.41 250.35L456.12 246.30L455.83 240.98L455.69 238.32M457.00 252.72L457.29 250.80L457.59 247.13L457.88 242.28L458.10 238.32" stroke="#2ca25e" stroke-width="2.15" stroke-dasharray="2.3 2.3" stroke-dashoffset="59.80"/><path d="M223.61 209.14L223.32 210.53L223.03 215.88L222.73 224.35L222.44 234.65L222.34 238.32M223.61 209.14L223.91 212.00L224.20 218.76L224.49 228.53L224.75 238.33M317.44 418.67L317.14 411.73L316.85 379.72L316.56 327.34L316.26 262.23L316.16 238.33M317.44 418.67L317.73 399.48L318.02 356.86L318.32 296.95L318.57 238.33M377.54 106.84L377.25 113.56L376.96 138.49L376.66 178.16L376.37 226.93L376.31 238.33M377.54 106.84L377.84 119.14L378.13 148.53L378.42 190.61L378.71 238.33M396.60 146.82L396.31 159.86L396.02 184.50L395.72 217.29L395.55 238.32M396.60 146.82L396.89 147.11L397.19 160.54L397.48 185.00L397.77 216.83L397.96 238.33M454.36 222.40L454.07 224.40L453.78 228.50L453.48 234.13L453.29 238.32M454.36 222.40L454.66 222.72L454.95 225.27L455.24 229.64L455.53 235.15L455.69 238.32M466.38 247.97L466.09 246.73L465.80 244.22L465.50 240.79L465.32 238.33M466.38 247.97L466.68 247.80L466.97 246.27L467.26 243.65L467.56 240.33L467.72 238.32" stroke="#2ca25e" stroke-width="2.15" stroke-dasharray="2.3 2.3" stroke-dashoffset="64.40"/><path d="M213.94 217.65L213.64 219.18L213.35 223.43L213.06 229.71L212.77 237.09L212.72 238.33M213.94 217.65L214.23 219.12L214.52 223.43L214.82 230.02L215.11 237.97L215.12 238.32M221.27 264.94L220.97 264.45L220.68 260.22L220.39 252.94L220.10 243.72L219.93 238.33M221.27 264.94L221.56 261.54L221.85 254.67L222.15 245.26L222.34 238.32M225.96 270.07L225.67 267.64L225.37 261.05L225.08 251.33L224.79 239.93L224.75 238.33M225.96 270.07L226.25 267.90L226.55 261.36L226.84 251.32L227.13 239.18L227.15 238.33M228.30 204.07L228.01 207.68L227.72 215.62L227.43 226.67L227.15 238.33M228.30 204.07L228.60 205.40L228.89 211.57L229.18 221.78L229.48 234.61L229.56 238.32M245.31 295.09L245.02 293.76L244.72 284.49L244.43 268.73L244.14 248.85L243.99 238.33M245.31 295.09L245.60 288.15L245.90 273.81L246.19 254.06L246.40 238.32M295.74 85.57L295.45 95.14L295.15 125.32L294.86 171.61L294.57 227.22L294.51 238.33M295.74 85.57L296.03 98.13L296.33 131.16L296.62 179.97L296.91 237.58L296.92 238.33M307.76 409.37L307.47 398.22L307.18 364.02L306.88 311.80L306.59 249.19L306.54 238.32M307.76 409.37L308.06 395.74L308.35 359.19L308.64 304.95L308.93 240.80L308.95 238.32M334.15 52.58L333.86 71.04L333.56 113.75L333.27 174.52L333.00 238.32M334.15 52.58L334.44 61.03L334.74 95.15L335.03 149.97L335.32 217.54L335.41 238.32M343.83 56.69L343.53 69.90L343.24 107.56L342.95 164.28L342.65 231.86L342.63 238.33M343.83 56.69L344.12 69.79L344.41 107.23L344.71 163.55L345.00 230.54L345.03 238.33M348.52 63.09L348.22 86.15L347.93 131.36L347.64 192.24L347.44 238.33M348.52 63.09L348.81 65.45L349.10 92.80L349.40 141.10L349.69 203.29L349.84 238.33M363.18 81.86L362.88 84.84L362.59 110.15L362.30 154.22L362.00 210.78L361.87 238.33M363.18 81.86L363.47 101.49L363.76 140.76L364.06 193.87L364.28 238.32M401.59 154.65L401.29 159.35L401.00 175.63L400.71 201.27L400.41 232.65L400.36 238.32M401.59 154.65L401.88 162.06L402.17 180.35L402.47 206.73L402.76 237.31L402.77 238.33M481.04 243.29L480.75 243.22L480.46 242.42L480.16 241.00L479.87 239.15L479.75 238.33M481.04 243.29L481.34 242.65L481.63 241.41L481.92 239.77L482.16 238.32" stroke="#2ca25e" stroke-width="2.15" stroke-dasharray="2.3 2.3" stroke-dashoffset="69.00"/><path d="M177.49 242.08L177.58 242.36L177.87 242.64L178.17 242.30L178.24 242.08M179.88 234.11L179.93 233.94L180.22 233.48L180.51 233.71L180.64 234.11M182.26 243.01L182.27 243.05L182.57 243.72L182.86 243.62L183.06 243.01M184.68 233.09L184.91 232.36L185.20 232.30L185.49 233.09M187.11 244.24L187.26 244.86L187.55 245.13L187.84 244.41L187.87 244.24M189.51 231.70L189.60 231.23L189.90 230.70L190.19 231.28L190.26 231.70M191.90 245.69L191.95 245.97L192.24 246.80L192.53 246.41L192.67 245.69M194.29 230.21L194.29 230.17L194.59 228.98L194.88 229.14L195.09 230.21M196.71 247.32L196.93 248.55L197.23 248.68L197.51 247.32M199.13 228.26L199.28 227.24L199.57 226.74L199.86 227.93L199.90 228.26M201.54 249.49L201.62 250.26L201.92 251.18L202.21 250.23L202.29 249.49M203.93 226.04L203.97 225.60L204.26 224.18L204.56 224.80L204.69 226.04M206.31 251.74L206.31 251.77L206.61 253.77L206.90 253.55L207.12 251.74M208.74 223.56L208.95 221.60L209.25 221.33L209.54 223.55L209.54 223.56M211.16 254.67L211.30 256.29L211.59 257.14L211.89 255.25L211.92 254.67M213.56 220.37L213.64 219.18L213.94 217.65L214.23 219.12L214.32 220.37M215.95 257.90L215.99 258.54L216.28 260.85L216.58 259.92L216.72 257.90M218.34 217.16L218.63 213.97L218.92 214.25L219.15 217.16M220.77 261.45L220.97 264.45L221.27 264.94L221.56 261.54L221.57 261.45M223.19 212.97L223.32 210.53L223.61 209.14L223.91 212.00L223.95 212.97M225.59 265.90L225.67 267.64L225.96 270.07L226.25 267.90L226.34 265.90M227.98 208.56L228.01 207.68L228.30 204.07L228.60 205.40L228.75 208.56M230.36 270.19L230.65 275.00L230.94 274.67L231.18 270.19M232.80 203.76L233.00 199.37L233.29 198.54L233.58 203.52L233.59 203.76M235.21 275.85L235.34 279.35L235.63 281.52L235.93 277.41L235.97 275.85M237.61 197.90L237.69 195.48L237.98 191.80L238.27 194.85L238.37 197.90M240.00 281.52L240.03 282.68L240.33 288.05L240.62 286.24L240.78 281.52M242.39 192.53L242.67 185.61L242.96 185.95L243.21 192.53M244.82 287.64L245.02 293.76L245.31 295.09L245.60 288.15L245.61 287.64M247.24 185.30L247.36 180.51L247.66 177.29L247.95 182.94L248.00 185.30M249.64 294.88L249.71 298.11L250.00 303.42L250.29 299.31L250.39 294.88M252.03 178.48L252.05 177.05L252.35 169.44L252.64 171.76L252.80 178.48M254.42 301.15L254.69 310.65L254.99 310.36L255.24 301.15M256.85 171.16L257.04 163.01L257.33 161.01L257.62 170.26L257.64 171.16M259.27 310.14L259.38 316.10L259.68 320.64L259.97 313.23L260.02 310.14M261.68 161.88L261.73 158.69L262.02 151.38L262.32 156.65L262.40 161.88M264.07 318.93L264.08 319.12L264.37 329.43L264.66 326.59L264.80 318.93M266.49 154.12L266.71 143.62L267.01 143.75L267.23 154.12M268.93 328.34L269.06 335.98L269.35 338.84L269.61 328.34M271.34 142.85L271.41 138.46L271.70 132.35L271.99 141.61L272.01 142.85M273.74 338.66L273.75 339.56L274.04 349.16L274.34 342.72L274.39 338.66M276.16 133.81L276.39 123.31L276.68 126.61L276.79 133.81M278.56 346.36L278.74 356.72L279.03 356.86L279.21 346.36M280.99 124.08L281.08 117.44L281.37 113.58L281.59 124.08M283.40 358.05L283.43 360.72L283.72 368.55L284.00 358.05M285.81 113.95L286.07 103.45L286.36 110.94L286.39 113.95M288.22 366.41L288.41 376.91L288.70 373.29L288.79 366.41M290.62 107.03L290.76 97.06L291.05 96.53L291.20 107.03M293.04 375.59L293.10 381.15L293.40 386.09L293.58 375.59M295.44 96.07L295.45 95.14L295.74 85.57L295.99 96.07M297.87 384.49L298.09 394.99L298.38 386.69L298.40 384.49M300.27 89.42L300.43 78.92L300.73 82.68L300.80 89.42M302.66 389.75L302.78 399.22L303.07 400.25L303.21 389.75M305.08 81.74L305.12 77.25L305.42 71.24L305.59 81.74M307.49 398.87L307.76 409.37L307.99 398.87M309.92 75.11L310.11 64.61L310.40 73.39L310.42 75.11M312.31 402.85L312.45 413.35L312.75 409.66L312.82 402.85M314.70 72.33L314.80 63.40L315.09 61.83L315.22 72.33M317.11 408.17L317.14 411.73L317.44 418.67L317.60 408.17M319.53 66.01L319.78 55.51L320.00 66.01M321.96 411.68L322.13 422.18L322.42 413.35L322.44 411.68M324.34 65.40L324.47 54.90L324.77 58.30L324.84 65.40M326.73 411.46L326.82 419.86L327.11 421.96L327.24 411.46M329.14 63.01L329.17 60.13L329.46 52.51L329.62 63.01M331.57 414.34L331.80 424.84L332.03 414.34M333.98 63.08L334.15 52.58L334.44 61.03L334.46 63.08M336.37 411.33L336.50 421.83L336.79 418.89L336.87 411.33M338.76 66.44L338.84 58.49L339.13 55.94L339.26 66.44M341.16 410.56L341.19 413.11L341.48 421.06L341.65 410.56M343.59 67.19L343.83 56.69L344.06 67.19M346.00 406.94L346.17 417.44L346.46 409.75L346.49 406.94M348.38 73.59L348.52 63.09L348.81 65.45L348.90 73.59M350.78 400.73L350.86 408.37L351.16 411.23L351.29 400.73M353.18 77.28L353.21 74.68L353.50 66.78L353.68 77.28M355.60 396.68L355.85 407.18L356.11 396.68M358.01 83.94L358.19 73.44L358.49 80.11L358.52 83.94M360.39 387.55L360.54 398.05L360.83 396.31L360.94 387.55M362.80 92.36L362.88 84.84L363.18 81.86L363.33 92.36M365.20 381.55L365.23 384.58L365.52 392.05L365.73 381.55M367.60 99.00L367.87 88.50L368.16 98.55L368.17 99.00M370.02 372.70L370.21 383.20L370.51 377.71L370.56 372.70M372.40 109.85L372.56 99.35L372.85 100.51L372.98 109.85M374.80 362.98L374.90 370.56L375.20 373.48L375.38 362.98M377.21 117.34L377.25 113.56L377.54 106.84L377.79 117.34M379.59 354.73L379.60 355.03L379.89 365.23L380.18 357.04L380.21 354.73M382.00 127.31L382.23 116.81L382.53 121.12L382.61 127.31M384.39 343.25L384.58 353.75L384.87 353.08L385.04 343.25M386.80 137.38L386.93 129.58L387.22 126.88L387.45 137.38M389.20 335.18L389.27 339.93L389.56 345.68L389.86 335.91L389.87 335.18M391.59 146.22L391.62 144.23L391.91 135.72L392.20 142.09L392.26 146.22M393.97 325.11L394.26 335.61L394.55 332.41L394.68 325.11M396.37 157.32L396.60 146.82L396.89 147.11L397.12 157.32M398.79 315.54L398.95 323.69L399.24 326.04L399.53 315.72L399.54 315.54M401.19 165.15L401.29 159.35L401.59 154.65L401.88 162.06L401.93 165.15M403.58 307.12L403.64 310.74L403.93 317.51L404.22 312.79L404.33 307.12M405.96 173.73L405.98 172.53L406.28 163.98L406.57 166.24L406.74 173.73M408.36 298.48L408.62 307.57L408.92 307.53L409.18 298.48M410.79 181.08L410.97 174.36L411.26 172.43L411.55 180.01L411.57 181.08M413.21 292.40L413.31 296.92L413.61 300.57L413.90 295.22L413.96 292.40M415.60 187.65L415.66 185.13L415.95 179.99L416.25 183.32L416.36 187.65M417.99 285.44L418.01 286.17L418.30 292.56L418.59 291.05L418.77 285.44M420.39 194.79L420.64 188.30L420.94 188.21L421.21 194.79M422.82 279.38L422.99 284.08L423.28 285.58L423.58 280.27L423.60 279.38M425.23 199.92L425.34 196.83L425.63 194.12L425.92 197.81L425.99 199.92M427.63 273.96L427.68 275.63L427.97 279.35L428.27 277.11L428.39 273.96M430.01 205.52L430.03 205.11L430.32 200.56L430.61 201.52L430.80 205.52M432.42 268.42L432.67 272.81L432.96 272.97L433.23 268.42M434.85 210.22L435.01 207.09L435.30 205.98L435.60 209.53L435.62 210.22M437.26 264.36L437.36 266.38L437.65 268.29L437.94 265.86L438.01 264.36M439.65 214.40L439.70 213.36L440.00 210.79L440.29 212.23L440.41 214.40M442.04 260.13L442.05 260.34L442.34 263.43L442.63 262.85L442.83 260.13M444.45 218.46L444.69 215.63L444.98 215.46L445.26 218.46M446.88 256.69L447.03 258.68L447.33 259.46L447.62 257.19L447.65 256.69M449.28 221.48L449.38 220.22L449.67 218.94L449.96 220.46L450.04 221.48M451.68 253.65L451.72 254.28L452.02 255.97L452.31 255.09L452.44 253.65M454.06 224.49L454.07 224.40L454.36 222.40L454.66 222.72L454.86 224.49M456.48 250.83L456.71 252.59L457.00 252.72L457.29 250.83M458.90 226.87L459.05 225.66L459.35 225.14L459.64 226.52L459.67 226.87M461.31 248.73L461.40 249.47L461.69 250.30L461.99 249.39L462.06 248.73M463.70 228.95L463.74 228.60L464.04 227.54L464.33 228.04L464.47 228.95M466.09 246.70L466.09 246.73L466.38 247.97L466.68 247.80L466.89 246.70M468.51 230.80L468.73 229.77L469.02 229.67L469.32 230.80M470.93 245.14L471.07 245.84L471.37 246.17L471.66 245.37L471.70 245.14M473.34 232.19L473.42 231.77L473.71 231.27L474.01 231.78L474.09 232.19M475.73 243.80L475.77 243.99L476.06 244.62L476.35 244.34L476.49 243.80M478.11 233.48L478.40 232.75L478.70 232.83L478.92 233.48M480.54 242.64L480.75 243.22L481.04 243.29L481.34 242.65L481.34 242.64M482.96 234.45L483.10 234.06L483.39 233.86L483.68 234.31L483.72 234.45" stroke="#1a62d8" stroke-width="2.15"/><path d="M177.55 242.27L177.58 242.36L177.87 242.64L178.17 242.30L178.18 242.27M179.95 233.90L180.22 233.48L180.51 233.71L180.57 233.90M184.76 232.83L184.91 232.36L185.20 232.30L185.39 232.83M189.58 231.37L189.60 231.23L189.90 230.70L190.19 231.28L190.20 231.37M191.98 246.06L192.24 246.80L192.53 246.41L192.60 246.06M196.79 247.78L196.93 248.55L197.23 248.68L197.42 247.78M199.20 227.75L199.28 227.24L199.57 226.74L199.82 227.75M201.60 250.05L201.62 250.26L201.92 251.18L202.21 250.23L202.23 250.05M204.01 225.42L204.26 224.18L204.56 224.80L204.62 225.42M206.41 252.42L206.61 253.77L206.90 253.55L207.04 252.42M211.23 255.50L211.30 256.29L211.59 257.14L211.85 255.50M213.63 219.46L213.64 219.18L213.94 217.65L214.23 219.12L214.25 219.46M223.26 211.70L223.32 210.53L223.61 209.14L223.88 211.70M228.06 207.06L228.30 204.07L228.60 205.40L228.68 207.06M232.87 202.02L233.00 199.37L233.29 198.54L233.49 202.02M235.28 277.74L235.34 279.35L235.63 281.52L235.90 277.74M237.68 195.87L237.69 195.48L237.98 191.80L238.27 194.85L238.31 195.87M240.09 283.70L240.33 288.05L240.62 286.24L240.70 283.70M244.90 290.12L245.02 293.76L245.31 295.09L245.52 290.12M252.12 175.46L252.35 169.44L252.64 171.76L252.73 175.46M256.93 167.78L257.04 163.01L257.33 161.01L257.55 167.78M259.34 313.64L259.38 316.10L259.68 320.64L259.95 313.64M261.74 158.38L262.02 151.38L262.32 156.65L262.35 158.38M266.56 150.62L266.71 143.62L267.01 143.75L267.15 150.62M268.99 331.84L269.06 335.98L269.35 338.84L269.53 331.84M273.83 342.16L274.04 349.16L274.34 342.72L274.34 342.16M276.24 130.31L276.39 123.31L276.68 126.61L276.74 130.31M283.46 361.55L283.72 368.55L283.91 361.55M295.53 92.57L295.74 85.57L295.90 92.57M300.33 85.92L300.43 78.92L300.73 82.68L300.76 85.92M302.71 393.25L302.78 399.22L303.07 400.25L303.16 393.25M307.58 402.37L307.76 409.37L307.91 402.37M309.98 71.61L310.11 64.61L310.34 71.61M312.36 406.35L312.45 413.35L312.75 409.66L312.78 406.35M324.39 61.90L324.47 54.90L324.77 58.30L324.80 61.90M334.04 59.58L334.15 52.58L334.39 59.58M341.22 414.06L341.48 421.06L341.59 414.06M346.06 410.44L346.17 417.44L346.44 410.44M358.07 80.44L358.19 73.44L358.49 80.11L358.49 80.44M360.44 391.05L360.54 398.05L360.83 396.31L360.89 391.05M365.25 385.05L365.52 392.05L365.66 385.05M367.69 95.50L367.87 88.50L368.07 95.50M370.08 376.20L370.21 383.20L370.51 377.71L370.52 376.20M372.45 106.35L372.56 99.35L372.85 100.51L372.93 106.35M374.85 366.48L374.90 370.56L375.20 373.48L375.32 366.48M379.69 358.23L379.89 365.23L380.14 358.23M382.08 123.81L382.23 116.81L382.53 121.12L382.57 123.81M384.45 346.75L384.58 353.75L384.87 353.08L384.98 346.75M389.25 338.68L389.27 339.93L389.56 345.68L389.77 338.68M391.67 142.72L391.91 135.72L392.20 142.09L392.21 142.72M403.64 310.58L403.64 310.74L403.93 317.51L404.22 312.79L404.27 310.58M406.05 170.48L406.28 163.98L406.57 166.24L406.67 170.48M408.45 301.51L408.62 307.57L408.92 307.53L409.09 301.51M415.66 185.09L415.95 179.99L416.25 183.32L416.29 185.09M418.08 287.82L418.30 292.56L418.59 291.05L418.70 287.82M420.47 192.59L420.64 188.30L420.94 188.21L421.12 192.59M422.90 281.45L422.99 284.08L423.28 285.58L423.51 281.45M425.30 197.99L425.34 196.83L425.63 194.12L425.92 197.81L425.93 197.99M430.11 203.86L430.32 200.56L430.61 201.52L430.72 203.86M432.50 269.94L432.67 272.81L432.96 272.97L433.14 269.94M434.92 208.81L435.01 207.09L435.30 205.98L435.54 208.81M437.32 265.67L437.36 266.38L437.65 268.29L437.94 265.86L437.95 265.67M454.16 223.79L454.36 222.40L454.66 222.72L454.78 223.79M466.18 247.13L466.38 247.97L466.68 247.80L466.81 247.13M468.59 230.42L468.73 229.77L469.02 229.67L469.22 230.42M471.00 245.49L471.07 245.84L471.37 246.17L471.62 245.49M475.81 244.07L476.06 244.62L476.35 244.34L476.42 244.07M478.21 233.24L478.40 232.75L478.70 232.83L478.83 233.24M480.62 242.86L480.75 243.22L481.04 243.29L481.24 242.86M483.03 234.25L483.10 234.06L483.39 233.86L483.65 234.25" stroke="#353535" stroke-width="2.15"/><path d="M182.36 243.25L182.57 243.72L182.86 243.62L182.98 243.25M187.18 244.54L187.26 244.86L187.55 245.13L187.79 244.54M194.38 229.80L194.59 228.98L194.88 229.14L195.01 229.80M208.82 222.82L208.95 221.60L209.25 221.33L209.44 222.82M216.03 258.88L216.28 260.85L216.58 259.92L216.65 258.88M218.43 216.10L218.63 213.97L218.92 214.25L219.06 216.10M220.85 262.61L220.97 264.45L221.27 264.94L221.47 262.61M225.65 267.29L225.67 267.64L225.96 270.07L226.25 267.90L226.28 267.29M230.46 271.79L230.65 275.00L230.94 274.67L231.09 271.79M242.48 190.22L242.67 185.61L242.96 185.95L243.12 190.22M247.31 182.63L247.36 180.51L247.66 177.29L247.93 182.63M249.70 297.73L249.71 298.11L250.00 303.42L250.29 299.31L250.33 297.73M254.51 304.32L254.69 310.65L254.99 310.36L255.15 304.32M264.17 322.43L264.37 329.43L264.66 326.59L264.74 322.43M271.39 139.35L271.41 138.46L271.70 132.35L271.92 139.35M278.62 349.86L278.74 356.72L279.03 356.86L279.15 349.86M281.04 120.58L281.08 117.44L281.37 113.58L281.52 120.58M285.89 110.45L286.07 103.45L286.34 110.45M288.29 369.91L288.41 376.91L288.70 373.29L288.75 369.91M290.67 103.53L290.76 97.06L291.05 96.53L291.15 103.53M293.08 379.09L293.10 381.15L293.40 386.09L293.52 379.09M297.94 387.99L298.09 394.99L298.33 387.99M305.11 78.24L305.12 77.25L305.42 71.24L305.53 78.24M314.74 68.83L314.80 63.40L315.09 61.83L315.18 68.83M317.14 411.67L317.14 411.73L317.44 418.67L317.54 411.67M319.62 62.51L319.78 55.51L319.93 62.51M322.01 415.18L322.13 422.18L322.36 415.18M326.77 414.96L326.82 419.86L327.11 421.96L327.20 414.96M329.19 59.51L329.46 52.51L329.57 59.51M331.65 417.84L331.80 424.84L331.95 417.84M336.41 414.83L336.50 421.83L336.79 418.89L336.83 414.83M338.80 62.94L338.84 58.49L339.13 55.94L339.22 62.94M343.67 63.69L343.83 56.69L343.98 63.69M348.43 70.09L348.52 63.09L348.81 65.45L348.86 70.09M350.82 404.23L350.86 408.37L351.16 411.23L351.25 404.23M353.24 73.78L353.50 66.78L353.62 73.78M355.69 400.18L355.85 407.18L356.02 400.18M362.84 88.86L362.88 84.84L363.18 81.86L363.28 88.86M377.25 113.84L377.25 113.56L377.54 106.84L377.71 113.84M386.86 133.88L386.93 129.58L387.22 126.88L387.37 133.88M394.07 328.61L394.26 335.61L394.55 332.41L394.62 328.61M396.44 153.82L396.60 146.82L396.89 147.11L397.04 153.82M398.86 319.04L398.95 323.69L399.24 326.04L399.44 319.04M401.25 161.65L401.29 159.35L401.59 154.65L401.86 161.65M410.87 178.20L410.97 174.36L411.26 172.43L411.48 178.20M413.27 295.12L413.31 296.92L413.61 300.57L413.90 295.22L413.90 295.12M427.69 275.76L427.97 279.35L428.27 277.11L428.32 275.76M439.72 213.20L440.00 210.79L440.29 212.23L440.34 213.20M442.13 261.23L442.34 263.43L442.63 262.85L442.75 261.23M444.53 217.46L444.69 215.63L444.98 215.46L445.17 217.46M446.95 257.61L447.03 258.68L447.33 259.46L447.56 257.61M449.35 220.63L449.38 220.22L449.67 218.94L449.96 220.46L449.98 220.63M451.75 254.42L452.02 255.97L452.31 255.09L452.37 254.42M456.56 251.46L456.71 252.59L457.00 252.72L457.19 251.46M458.98 226.30L459.05 225.66L459.35 225.14L459.59 226.30M461.37 249.25L461.40 249.47L461.69 250.30L461.99 249.39L462.00 249.25M463.78 228.48L464.04 227.54L464.33 228.04L464.40 228.48M473.40 231.88L473.42 231.77L473.71 231.27L474.01 231.78L474.03 231.88" stroke="#e8403c" stroke-width="2.15"/><path d="M182.46 243.49L182.57 243.72L182.86 243.62L182.90 243.49M187.25 244.83L187.26 244.86L187.55 245.13L187.67 244.83M194.49 229.39L194.59 228.98L194.88 229.14L194.93 229.39M208.90 222.07L208.95 221.60L209.25 221.33L209.35 222.07M216.16 259.87L216.28 260.85L216.58 259.92L216.58 259.87M218.53 215.03L218.63 213.97L218.92 214.25L218.98 215.03M220.93 263.77L220.97 264.45L221.27 264.94L221.37 263.77M225.79 268.68L225.96 270.07L226.15 268.68M230.56 273.40L230.65 275.00L230.94 274.67L231.01 273.40M242.58 187.92L242.67 185.61L242.96 185.95L243.04 187.92M247.41 179.96L247.66 177.29L247.79 179.96M249.84 300.58L250.00 303.42L250.20 300.58M254.60 307.48L254.69 310.65L254.99 310.36L255.06 307.48M264.27 325.93L264.37 329.43L264.66 326.59L264.67 325.93M271.53 135.85L271.70 132.35L271.81 135.85M278.68 353.36L278.74 356.72L279.03 356.86L279.09 353.36M281.11 117.08L281.37 113.58L281.45 117.08M285.98 106.95L286.07 103.45L286.20 106.95M288.35 373.41L288.41 376.91L288.69 373.41M290.71 100.03L290.76 97.06L291.05 96.53L291.10 100.03M293.19 382.59L293.40 386.09L293.46 382.59M298.01 391.49L298.09 394.99L298.21 391.49M305.25 74.74L305.42 71.24L305.47 74.74M314.78 65.33L314.80 63.40L315.09 61.83L315.13 65.33M317.29 415.17L317.44 418.67L317.49 415.17M319.70 59.01L319.78 55.51L319.86 59.01M322.07 418.68L322.13 422.18L322.25 418.68M326.81 418.46L326.82 419.86L327.11 421.96L327.16 418.46M329.32 56.01L329.46 52.51L329.51 56.01M331.73 421.34L331.80 424.84L331.88 421.34M336.45 418.33L336.50 421.83L336.79 418.89L336.79 418.33M338.83 59.44L338.84 58.49L339.13 55.94L339.18 59.44M343.75 60.19L343.83 56.69L343.90 60.19M348.47 66.59L348.52 63.09L348.81 65.45L348.82 66.59M350.86 407.73L350.86 408.37L351.16 411.23L351.20 407.73M353.37 70.28L353.50 66.78L353.56 70.28M355.77 403.68L355.85 407.18L355.93 403.68M362.88 85.36L362.88 84.84L363.18 81.86L363.23 85.36M377.39 110.34L377.54 106.84L377.63 110.34M386.91 130.38L386.93 129.58L387.22 126.88L387.30 130.38M394.16 332.11L394.26 335.61L394.55 332.41L394.55 332.11M396.52 150.32L396.60 146.82L396.89 147.11L396.96 150.32M398.92 322.54L398.95 323.69L399.24 326.04L399.34 322.54M401.37 158.15L401.59 154.65L401.72 158.15M410.94 175.31L410.97 174.36L411.26 172.43L411.37 175.31M413.39 297.85L413.61 300.57L413.76 297.85M427.83 277.55L427.97 279.35L428.21 277.55M439.86 212.00L440.00 210.79L440.24 212.00M442.24 262.33L442.34 263.43L442.63 262.85L442.67 262.33M444.62 216.46L444.69 215.63L444.98 215.46L445.07 216.46M447.02 258.54L447.03 258.68L447.33 259.46L447.44 258.54M449.48 219.79L449.67 218.94L449.83 219.79M451.88 255.20L452.02 255.97L452.27 255.20M456.64 252.09L456.71 252.59L457.00 252.72L457.10 252.09M459.05 225.72L459.05 225.66L459.35 225.14L459.47 225.72M461.51 249.78L461.69 250.30L461.86 249.78M463.91 228.01L464.04 227.54L464.31 228.01M473.53 231.57L473.71 231.27L473.89 231.57" stroke="#353535" stroke-width="2.15"/><path d="M177.68 242.46L177.87 242.64L178.04 242.46M180.09 233.69L180.22 233.48L180.48 233.69M184.85 232.56L184.91 232.36L185.20 232.30L185.30 232.56M189.71 231.03L189.90 230.70L190.06 231.03M192.11 246.43L192.24 246.80L192.52 246.43M196.87 248.23L196.93 248.55L197.23 248.68L197.32 248.23M199.28 227.25L199.28 227.24L199.57 226.74L199.70 227.25M201.74 250.61L201.92 251.18L202.09 250.61M204.13 224.80L204.26 224.18L204.55 224.80M206.51 253.09L206.61 253.77L206.90 253.55L206.96 253.09M211.31 256.32L211.59 257.14L211.72 256.32M213.76 218.56L213.94 217.65L214.12 218.56M223.34 210.42L223.61 209.14L223.74 210.42M228.18 205.57L228.30 204.07L228.60 205.40L228.61 205.57M232.95 200.28L233.00 199.37L233.29 198.54L233.39 200.28M235.38 279.63L235.63 281.52L235.77 279.63M237.82 193.83L237.98 191.80L238.18 193.83M240.21 285.87L240.33 288.05L240.62 286.24L240.63 285.87M244.98 292.61L245.02 293.76L245.31 295.09L245.42 292.61M252.23 172.45L252.35 169.44L252.64 171.76L252.66 172.45M257.01 164.39L257.04 163.01L257.33 161.01L257.44 164.39M259.45 317.14L259.68 320.64L259.82 317.14M261.88 154.88L262.02 151.38L262.22 154.88M266.64 147.12L266.71 143.62L267.01 143.75L267.08 147.12M269.05 335.34L269.06 335.98L269.35 338.84L269.44 335.34M273.94 345.66L274.04 349.16L274.20 345.66M276.31 126.81L276.39 123.31L276.68 126.61L276.69 126.81M283.59 365.05L283.72 368.55L283.81 365.05M295.63 89.07L295.74 85.57L295.82 89.07M300.38 82.42L300.43 78.92L300.70 82.42M302.75 396.75L302.78 399.22L303.07 400.25L303.12 396.75M307.67 405.87L307.76 409.37L307.84 405.87M310.04 68.11L310.11 64.61L310.22 68.11M312.41 409.85L312.45 413.35L312.73 409.85M324.43 58.40L324.47 54.90L324.77 58.30L324.77 58.40M334.09 56.08L334.15 52.58L334.27 56.08M341.35 417.56L341.48 421.06L341.54 417.56M346.12 413.94L346.17 417.44L346.30 413.94M358.13 76.94L358.19 73.44L358.35 76.94M360.49 394.55L360.54 398.05L360.83 396.31L360.85 394.55M365.38 388.55L365.52 392.05L365.59 388.55M367.78 92.00L367.87 88.50L367.97 92.00M370.15 379.70L370.21 383.20L370.40 379.70M372.51 102.85L372.56 99.35L372.85 100.51L372.89 102.85M374.90 369.98L374.90 370.56L375.20 373.48L375.26 369.98M379.79 361.73L379.89 365.23L380.01 361.73M382.16 120.31L382.23 116.81L382.47 120.31M384.52 350.25L384.58 353.75L384.87 353.08L384.92 350.25M389.39 342.18L389.56 345.68L389.67 342.18M391.79 139.22L391.91 135.72L392.07 139.22M403.78 314.05L403.93 317.51L404.15 314.05M406.17 167.23L406.28 163.98L406.57 166.24L406.59 167.23M408.53 304.54L408.62 307.57L408.92 307.53L409.00 304.54M415.81 182.54L415.95 179.99L416.18 182.54M418.19 290.19L418.30 292.56L418.59 291.05L418.62 290.19M420.56 190.40L420.64 188.30L420.94 188.21L421.03 190.40M422.97 283.51L422.99 284.08L423.28 285.58L423.40 283.51M425.42 196.06L425.63 194.12L425.78 196.06M430.21 202.21L430.32 200.56L430.61 201.52L430.65 202.21M432.59 271.45L432.67 272.81L432.96 272.97L433.05 271.45M435.00 207.39L435.01 207.09L435.30 205.98L435.42 207.39M437.45 266.98L437.65 268.29L437.81 266.98M454.26 223.10L454.36 222.40L454.66 222.72L454.70 223.10M466.28 247.55L466.38 247.97L466.68 247.80L466.72 247.55M468.67 230.05L468.73 229.77L469.02 229.67L469.12 230.05M471.07 245.83L471.07 245.84L471.37 246.17L471.49 245.83M475.93 244.35L476.06 244.62L476.35 244.35M478.31 232.99L478.40 232.75L478.70 232.83L478.75 232.99M480.70 243.08L480.75 243.22L481.04 243.29L481.14 243.08M483.10 234.06L483.39 233.86L483.52 234.06" stroke="#e8403c" stroke-width="2.15"/><path d="M69.30 230.13L85.90 246.53M69.30 246.53L85.90 230.13M98.62 230.12L115.22 246.52M98.62 246.52L115.22 230.12M127.94 229.87L144.54 246.27M127.94 246.27L144.54 229.87M157.26 227.94L173.86 244.34M157.26 244.34L173.86 227.94M186.58 220.94L203.18 237.34M186.58 237.34L203.18 220.94M215.90 210.56L232.50 226.96M215.90 226.96L232.50 210.56M245.22 221.36L261.82 237.76M245.22 237.76L261.82 221.36M274.54 287.93L291.14 304.33M274.54 304.33L291.14 287.93M303.86 376.30L320.46 392.70M303.86 392.70L320.46 376.30M333.18 405.60L349.78 422.00M333.18 422.00L349.78 405.60M362.50 343.93L379.10 360.33M362.50 360.33L379.10 343.93M391.82 257.08L408.42 273.48M391.82 273.48L408.42 257.08M421.14 219.54L437.74 235.94M421.14 235.94L437.74 219.54M450.46 219.85L467.06 236.25M450.46 236.25L467.06 219.85M479.78 226.61L496.38 243.01M479.78 243.01L496.38 226.61M509.10 229.50L525.70 245.90M509.10 245.90L525.70 229.50M538.42 230.07L555.02 246.47M538.42 246.47L555.02 230.07M567.74 230.13L584.34 246.53M567.74 246.53L584.34 230.13M597.06 230.13L613.66 246.53M597.06 246.53L613.66 230.13M626.38 230.13L642.98 246.53M626.38 246.53L642.98 230.13M655.70 230.13L672.30 246.53M655.70 246.53L672.30 230.13" stroke="#2ca25e" stroke-width="1.4"/></g><rect x="77.6" y="3.05" width="586.40" height="470.55" fill="none" stroke="#000" stroke-width="2"/><path d="M73.10 473.60H77.6M68.60 439.99H77.6M73.10 406.38H77.6M68.60 372.77H77.6M73.10 339.16H77.6M68.60 305.55H77.6M73.10 271.94H77.6M68.60 238.33H77.6M73.10 204.71H77.6M68.60 171.10H77.6M73.10 137.49H77.6M68.60 103.88H77.6M73.10 70.27H77.6M68.60 36.66H77.6M73.10 3.05H77.6M77.60 473.6V482.60M150.90 473.6V478.10M224.20 473.6V482.60M297.50 473.6V478.10M370.80 473.6V482.60M444.10 473.6V478.10M517.40 473.6V482.60M590.70 473.6V478.10M664.00 473.6V482.60" stroke="#000" stroke-width="2" fill="none"/><text x="62.5" y="446.39" font-size="21" text-anchor="end">-0.6</text><text x="62.5" y="379.17" font-size="21" text-anchor="end">-0.4</text><text x="62.5" y="311.95" font-size="21" text-anchor="end">-0.2</text><text x="62.5" y="244.73" font-size="21" text-anchor="end">0.0</text><text x="62.5" y="177.50" font-size="21" text-anchor="end">0.2</text><text x="62.5" y="110.28" font-size="21" text-anchor="end">0.4</text><text x="62.5" y="43.06" font-size="21" text-anchor="end">0.6</text><text x="77.60" y="504.5" font-size="20.5" text-anchor="middle">500</text><text x="224.20" y="504.5" font-size="20.5" text-anchor="middle">1000</text><text x="370.80" y="504.5" font-size="20.5" text-anchor="middle">1500</text><text x="517.40" y="504.5" font-size="20.5" text-anchor="middle">2000</text><text x="664.00" y="504.5" font-size="20.5" text-anchor="middle">2500</text><text x="370.80" y="543.3" font-size="24.7" text-anchor="middle">Time Step</text><text transform="translate(20.2 238.33) rotate(-90)" font-size="24.7" text-anchor="middle">Normalized Electric Field (A/m)</text><path d="M276.2 47.2H381M379.5 51.2V112M277 45.8V110M286 110H381" fill="none" stroke="#000" stroke-width="2.4" stroke-dasharray="3.6 9.9"/><path d="M369 57L424 61" stroke="#111" stroke-width="1.2"/><path d="M423.2 57.3L435.8 60.5L423.2 63.6Z" fill="#000"/><g clip-path="url(#ic)" fill="none" stroke-width="0.75"><polyline points="418.79,182.67 419.53,216.03 420.27,287.33 421.02,386.54 421.76,499.47 422.50,609.81 423.24,701.48 423.98,760.95 424.73,779.28 425.47,753.43 426.21,686.77 426.95,588.65 427.69,473.07 428.44,356.69 429.18,256.46 429.92,187.09 430.66,158.95 431.40,176.48 432.15,237.53 432.89,333.56 433.63,450.91 434.37,572.66 435.11,681.14 435.86,760.46 436.60,798.84 437.34,790.36 438.08,735.88 438.82,642.96 439.57,524.82 440.31,398.45 441.05,282.15 441.79,192.94 442.53,144.00 443.28,142.75 444.02,189.74 444.76,278.49 445.50,396.41 446.24,526.56 446.99,650.10 447.73,749.02 448.47,808.75 449.21,820.32 449.95,781.71 450.70,698.18 451.44,581.55 452.18,448.57 452.92,318.44 453.66,210.12 454.41,139.50 455.15,117.11 455.89,146.51 456.63,223.78 457.37,338.01 458.12,472.82 458.86,608.75 459.60,726.04 460.34,807.53 461.08,841.15 461.83,821.71 462.57,751.70 463.31,641.00 464.05,505.45 464.79,364.60 465.54,238.88 466.28,146.67 467.02,101.55 467.76,110.36 468.50,172.12 469.25,278.17 469.99,413.33 470.73,558.14 471.47,691.61 472.21,794.27 472.96,851.04 473.70,853.44 474.44,800.83 475.18,700.55 475.92,566.94 476.67,419.23 477.41,278.81 478.15,166.11 478.89,97.64 479.63,83.57 480.38,126.21 481.12,219.62 481.86,350.49 482.60,499.98 483.34,646.47 484.09,768.66 484.83,848.71 485.57,874.79 486.31,842.88 487.05,757.37 487.80,630.44 488.54,480.35 489.28,328.79 490.02,197.77 490.76,106.39 491.51,68.08 492.25,88.61 492.99,165.24 493.73,287.04 494.47,436.52 495.22,592.08 495.96,731.14 496.70,833.48 497.44,884.09 498.18,875.46 498.93,808.63 499.67,693.10 500.41,545.47 501.15,387.08 501.89,240.86 502.64,128.09 503.38,65.23 504.12,61.56 504.86,117.79 505.60,225.93 506.35,370.46 507.09,530.49 507.83,682.85 508.57,805.41 509.31,880.31 510.06,896.56 510.80,851.64 511.54,751.92 512.28,611.74 513.02,451.32 513.77,293.91 514.51,162.32 515.25,75.73 515.99,46.77 516.73,79.79 517.48,170.11 518.22,304.75 518.96,464.27 519.70,625.59 520.44,765.30 521.19,863.11 521.93,904.76 522.67,884.11 523.41,804.06 524.15,676.11 524.90,518.76 525.64,354.78 526.38,207.93 527.12,99.52 527.86,45.34 528.61,53.30 529.35,122.32 530.09,242.46 530.83,396.37 531.57,561.76 532.32,714.67 533.06,832.92 533.80,899.34 534.54,904.26 535.28,846.92 536.03,735.58 536.77,586.36 537.51,420.85 538.25,263.04 538.99,135.81 539.74,57.60 540.48,39.77 541.22,84.91 541.96,186.52 542.70,329.86 543.45,494.18 544.19,655.67 544.93,790.92 545.67,880.35 546.41,910.99 547.16,878.41 547.90,787.35 548.64,651.01 549.38,489.16 550.12,325.26 550.87,183.05 551.61,83.12 552.35,39.93 553.09,59.70 553.83,139.52 554.58,267.80 555.32,425.92 556.06,590.95 556.80,738.98 557.54,848.59 558.29,903.94 559.03,897.07 559.77,829.04 560.51,709.77 561.25,556.60 562.00,391.74 562.74,239.09 563.48,120.73 564.22,53.76 564.96,47.78 565.71,103.59 566.45,213.00 567.19,360.08 567.93,523.47 568.67,679.50 569.42,805.59 570.16,883.54 570.90,902.15 571.64,858.85 572.38,760.03 573.13,620.11 573.87,459.43 574.61,301.29 575.35,168.58 576.09,80.44 576.84,49.53 577.58,80.18 578.32,167.81 579.06,299.59 579.80,456.34 580.55,615.31 581.29,753.50 582.03,850.95 582.77,893.68 583.51,875.67 584.26,799.70 585.00,676.92 585.74,525.25 586.48,366.71 587.22,224.27 587.97,118.48 588.71,64.52 589.45,70.04 590.19,134.03 590.93,247.05 591.68,392.57 592.42,549.43 593.16,694.90 593.90,807.99 594.64,872.45 595.39,879.14 596.13,827.31 596.87,724.69 597.61,586.30 598.35,432.31 599.10,285.04 599.84,165.77 600.58,91.63 601.32,73.14 602.06,112.76 602.81,204.50 603.55,334.87 604.29,484.86 605.03,632.69 605.77,757.00 606.52,839.92 607.26,869.65 608.00,842.15 608.74,761.66 609.48,640.07 610.23,495.15 610.97,347.96 611.71,219.79 612.45,129.08 613.19,88.74 613.94,104.35 614.68,173.36 615.42,285.53 616.16,424.42 616.90,569.80 617.65,700.64 618.39,798.11 619.13,848.30 619.87,844.23 620.61,786.78 621.36,684.55 622.10,552.58 622.84,410.10 623.58,277.76 624.32,174.62 625.07,115.42 625.81,108.43 626.55,154.36 627.29,246.25 628.03,370.54 628.78,509.08 629.52,641.77 630.26,749.47 631.00,816.78 631.74,834.25 632.49,799.67 633.23,718.38 633.97,602.42 634.71,468.77 635.45,336.85 636.20,225.70 636.94,151.24 637.68,123.96 638.42,147.48 639.16,218.05 639.91,325.15 640.65,453.05 641.39,583.15 642.13,696.63 642.87,777.23 643.62,813.56 644.36,800.69 645.10,740.86 645.84,643.03 646.58,521.63 647.33,394.36 648.07,279.63 648.81,193.91" stroke="#555"/><polyline points="418.79,182.67 419.53,216.03 420.27,287.33 421.02,386.54 421.76,499.47 422.50,609.81 423.24,701.48 423.98,760.95 424.73,779.28 425.47,753.43 426.21,686.77 426.95,588.65 427.69,473.07 428.44,356.69 429.18,256.46 429.92,187.09 430.66,158.95 431.40,176.48 432.15,237.53 432.89,333.56 433.63,450.91 434.37,572.66 435.11,681.14 435.86,760.46 436.60,798.84 437.34,790.36 438.08,735.88 438.82,642.96 439.57,524.82 440.31,398.45 441.05,282.15 441.79,192.94 442.53,144.00 443.28,142.75 444.02,189.74 444.76,278.49 445.50,396.41 446.24,526.56 446.99,650.10 447.73,749.02 448.47,808.75 449.21,820.32 449.95,781.71 450.70,698.18 451.44,581.55 452.18,448.57 452.92,318.44 453.66,210.12 454.41,139.50 455.15,117.11 455.89,146.51 456.63,223.78 457.37,338.01 458.12,472.82 458.86,608.75 459.60,726.04 460.34,807.53 461.08,841.15 461.83,821.71 462.57,751.70 463.31,641.00 464.05,505.45 464.79,364.60 465.54,238.88 466.28,146.67 467.02,101.55 467.76,110.36 468.50,172.12 469.25,278.17 469.99,413.33 470.73,558.14 471.47,691.61 472.21,794.27 472.96,851.04 473.70,853.44 474.44,800.83 475.18,700.55 475.92,566.94 476.67,419.23 477.41,278.81 478.15,166.11 478.89,97.64 479.63,83.57 480.38,126.21 481.12,219.62 481.86,350.49 482.60,499.98 483.34,646.47 484.09,768.66 484.83,848.71 485.57,874.79 486.31,842.88 487.05,757.37 487.80,630.44 488.54,480.35 489.28,328.79 490.02,197.77 490.76,106.39 491.51,68.08 492.25,88.61 492.99,165.24 493.73,287.04 494.47,436.52 495.22,592.08 495.96,731.14 496.70,833.48 497.44,884.09 498.18,875.46 498.93,808.63 499.67,693.10 500.41,545.47 501.15,387.08 501.89,240.86 502.64,128.09 503.38,65.23 504.12,61.56 504.86,117.79 505.60,225.93 506.35,370.46 507.09,530.49 507.83,682.85 508.57,805.41 509.31,880.31 510.06,896.56 510.80,851.64 511.54,751.92 512.28,611.74 513.02,451.32 513.77,293.91 514.51,162.32 515.25,75.73 515.99,46.77 516.73,79.79 517.48,170.11 518.22,304.75 518.96,464.27 519.70,625.59 520.44,765.30 521.19,863.11 521.93,904.76 522.67,884.11 523.41,804.06 524.15,676.11 524.90,518.76 525.64,354.78 526.38,207.93 527.12,99.52 527.86,45.34 528.61,53.30 529.35,122.32 530.09,242.46 530.83,396.37 531.57,561.76 532.32,714.67 533.06,832.92 533.80,899.34 534.54,904.26 535.28,846.92 536.03,735.58 536.77,586.36 537.51,420.85 538.25,263.04 538.99,135.81 539.74,57.60 540.48,39.77 541.22,84.91 541.96,186.52 542.70,329.86 543.45,494.18 544.19,655.67 544.93,790.92 545.67,880.35 546.41,910.99 547.16,878.41 547.90,787.35 548.64,651.01 549.38,489.16 550.12,325.26 550.87,183.05 551.61,83.12 552.35,39.93 553.09,59.70 553.83,139.52 554.58,267.80 555.32,425.92 556.06,590.95 556.80,738.98 557.54,848.59 558.29,903.94 559.03,897.07 559.77,829.04 560.51,709.77 561.25,556.60 562.00,391.74 562.74,239.09 563.48,120.73 564.22,53.76 564.96,47.78 565.71,103.59 566.45,213.00 567.19,360.08 567.93,523.47 568.67,679.50 569.42,805.59 570.16,883.54 570.90,902.15 571.64,858.85 572.38,760.03 573.13,620.11 573.87,459.43 574.61,301.29 575.35,168.58 576.09,80.44 576.84,49.53 577.58,80.18 578.32,167.81 579.06,299.59 579.80,456.34 580.55,615.31 581.29,753.50 582.03,850.95 582.77,893.68 583.51,875.67 584.26,799.70 585.00,676.92 585.74,525.25 586.48,366.71 587.22,224.27 587.97,118.48 588.71,64.52 589.45,70.04 590.19,134.03 590.93,247.05 591.68,392.57 592.42,549.43 593.16,694.90 593.90,807.99 594.64,872.45 595.39,879.14 596.13,827.31 596.87,724.69 597.61,586.30 598.35,432.31 599.10,285.04 599.84,165.77 600.58,91.63 601.32,73.14 602.06,112.76 602.81,204.50 603.55,334.87 604.29,484.86 605.03,632.69 605.77,757.00 606.52,839.92 607.26,869.65 608.00,842.15 608.74,761.66 609.48,640.07 610.23,495.15 610.97,347.96 611.71,219.79 612.45,129.08 613.19,88.74 613.94,104.35 614.68,173.36 615.42,285.53 616.16,424.42 616.90,569.80 617.65,700.64 618.39,798.11 619.13,848.30 619.87,844.23 620.61,786.78 621.36,684.55 622.10,552.58 622.84,410.10 623.58,277.76 624.32,174.62 625.07,115.42 625.81,108.43 626.55,154.36 627.29,246.25 628.03,370.54 628.78,509.08 629.52,641.77 630.26,749.47 631.00,816.78 631.74,834.25 632.49,799.67 633.23,718.38 633.97,602.42 634.71,468.77 635.45,336.85 636.20,225.70 636.94,151.24 637.68,123.96 638.42,147.48 639.16,218.05 639.91,325.15 640.65,453.05 641.39,583.15 642.13,696.63 642.87,777.23 643.62,813.56 644.36,800.69 645.10,740.86 645.84,643.03 646.58,521.63 647.33,394.36 648.07,279.63 648.81,193.91" stroke="#d87070" stroke-dasharray="1 3"/><polyline points="418.79,183.40 419.53,216.67 420.27,287.80 421.02,386.76 421.76,499.41 422.50,609.48 423.24,700.91 423.98,760.23 424.73,778.51 425.47,752.73 426.21,686.24 426.95,588.37 427.69,473.07 428.44,356.99 429.18,257.00 429.92,187.81 430.66,159.74 431.40,177.23 432.15,238.12 432.89,333.92 433.63,450.97 434.37,572.42 435.11,680.63 435.86,759.75 436.60,798.03 437.34,789.57 438.08,735.23 438.82,642.54 439.57,524.70 440.31,398.64 441.05,282.63 441.79,193.65 442.53,144.83 443.28,143.58 444.02,190.45 444.76,278.98 445.50,396.60 446.24,526.43 446.99,649.66 447.73,748.33 448.47,807.91 449.21,819.46 449.95,780.94 450.70,697.62 451.44,581.29 452.18,448.63 452.92,318.83 453.66,210.78 454.41,140.34 455.15,118.00 455.89,147.33 456.63,224.41 457.37,338.35 458.12,472.82 458.86,608.41 459.60,725.41 460.34,806.70 461.08,840.23 461.83,820.84 462.57,751.01 463.31,640.59 464.05,505.37 464.79,364.87 465.54,239.47 466.28,147.49 467.02,102.48 467.76,111.27 468.50,172.88 469.25,278.66 469.99,413.49 470.73,557.93 471.47,691.06 472.21,793.47 472.96,850.10 473.70,852.50 474.44,800.01 475.18,699.99 475.92,566.71 476.67,419.37 477.41,279.29 478.15,166.88 478.89,98.59 479.63,84.55 480.38,127.08 481.12,220.26 481.86,350.80 482.60,499.92 483.34,646.04 484.09,767.93 484.83,847.77 485.57,873.79 486.31,841.96 487.05,756.67 487.80,630.05 488.54,480.34 489.28,329.16 490.02,198.46 490.76,107.31 491.51,69.09 492.25,89.58 492.99,166.01 493.73,287.51 494.47,436.62 495.22,591.78 495.96,730.50 496.70,832.58 497.44,883.07 498.18,874.46 498.93,807.79 499.67,692.55 500.41,545.30 501.15,387.30 501.89,241.45 502.64,128.96 503.38,66.25 504.12,62.59 504.86,118.68 505.60,226.56 506.35,370.72 507.09,530.35 507.83,682.33 508.57,804.58 509.31,879.30 510.06,895.50 510.80,850.70 511.54,751.23 512.28,611.40 513.02,451.38 513.77,294.36 514.51,163.11 515.25,76.72 515.99,47.84 516.73,80.78 517.48,170.87 518.22,305.18 518.96,464.30 519.70,625.21 520.44,764.57 521.19,862.14 521.93,903.68 522.67,883.08 523.41,803.23 524.15,675.61 524.90,518.65 525.64,355.08 526.38,208.59 527.12,100.46 527.86,46.41 528.61,54.35 529.35,123.20 530.09,243.04 530.83,396.57 531.57,561.54 532.32,714.07 533.06,832.03 533.80,898.28 534.54,903.18 535.28,845.98 536.03,734.93 536.77,586.08 537.51,420.99 538.25,263.57 538.99,136.66 539.74,58.64 540.48,40.85 541.22,85.89 541.96,187.24 542.70,330.22 543.45,494.13 544.19,655.22 544.93,790.13 545.67,879.33 546.41,909.90 547.16,877.40 547.90,786.57 548.64,650.57 549.38,489.13 550.12,325.64 550.87,183.78 551.61,84.10 552.35,41.02 553.09,60.74 553.83,140.36 554.58,268.32 555.32,426.04 556.06,590.66 556.80,738.32 557.54,847.65 558.29,902.86 559.03,896.01 559.77,828.15 560.51,709.19 561.25,556.40 562.00,391.95 562.74,239.68 563.48,121.62 564.22,54.81 564.96,48.85 565.71,104.52 566.45,213.65 567.19,360.36 567.93,523.35 568.67,678.99 569.42,804.76 570.16,882.51 570.90,901.08 571.64,857.89 572.38,759.32 573.13,619.75 573.87,459.47 574.61,301.73 575.35,169.34 576.09,81.43 576.84,50.59 577.58,81.17 578.32,168.58 579.06,300.03 579.80,456.39 580.55,614.96 581.29,752.80 582.03,850.01 582.77,892.63 583.51,874.67 584.26,798.88 585.00,676.42 585.74,525.12 586.48,366.98 587.22,224.90 587.97,119.37 588.71,65.55 589.45,71.05 590.19,134.88 590.93,247.62 591.68,392.77 592.42,549.24 593.16,694.35 593.90,807.16 594.64,871.45 595.39,878.13 596.13,826.43 596.87,724.06 597.61,586.02 598.35,432.42 599.10,285.52 599.84,166.54 600.58,92.58 601.32,74.15 602.06,113.66 602.81,205.17 603.55,335.22 604.29,484.83 605.03,632.29 605.77,756.29 606.52,839.00 607.26,868.67 608.00,841.24 608.74,760.95 609.48,639.66 610.23,495.10 610.97,348.28 611.71,220.43 612.45,129.94 613.19,89.70 613.94,105.27 614.68,174.12 615.42,286.01 616.16,424.54 616.90,569.56 617.65,700.08 618.39,797.30 619.13,847.37 619.87,843.30 620.61,786.00 621.36,684.03 622.10,552.39 622.84,410.26 623.58,278.25 624.32,175.37 625.07,116.31 625.81,109.34 626.55,155.16 627.29,246.82 628.03,370.80 628.78,508.99 629.52,641.35 630.26,748.78 631.00,815.93 631.74,833.35 632.49,798.86 633.23,717.77 633.97,602.10 634.71,468.78 635.45,337.19 636.20,226.33 636.94,152.05 637.68,124.84 638.42,148.30 639.16,218.69 639.91,325.52 640.65,453.11 641.39,582.87 642.13,696.07 642.87,776.47 643.62,812.71 644.36,799.88 645.10,740.19 645.84,642.61 646.58,521.51 647.33,394.56 648.07,280.12 648.81,194.61" stroke="#4a80cc" stroke-dasharray="3 1.2"/><polyline points="418.79,187.04 419.53,219.91 420.27,290.14 421.02,387.86 421.76,499.10 422.50,607.78 423.24,698.07 423.98,756.65 424.73,774.70 425.47,749.25 426.21,683.59 426.95,586.94 427.69,473.09 428.44,358.46 429.18,259.73 429.92,191.40 430.66,163.68 431.40,180.95 432.15,241.08 432.89,335.68 433.63,451.26 434.37,571.19 435.11,678.05 435.86,756.18 436.60,793.98 437.34,785.62 438.08,731.96 438.82,640.44 439.57,524.07 440.31,399.59 441.05,285.04 441.79,197.17 442.53,148.96 443.28,147.73 444.02,194.01 444.76,281.43 445.50,397.58 446.24,525.78 446.99,647.47 447.73,744.90 448.47,803.74 449.21,815.14 449.95,777.10 450.70,694.82 451.44,579.95 452.18,448.96 452.92,320.79 453.66,214.09 454.41,144.53 455.15,122.47 455.89,151.43 456.63,227.55 457.37,340.06 458.12,472.84 458.86,606.73 459.60,722.27 460.34,802.54 461.08,835.65 461.83,816.50 462.57,747.55 463.31,638.51 464.05,504.99 464.79,366.25 465.54,242.42 466.28,151.58 467.02,107.14 467.76,115.82 468.50,176.66 469.25,281.11 469.99,414.25 470.73,556.89 471.47,688.35 472.21,789.47 472.96,845.40 473.70,847.76 474.44,795.93 475.18,697.16 475.92,565.55 476.67,420.06 477.41,281.74 478.15,170.73 478.89,103.30 479.63,89.44 480.38,131.43 481.12,223.45 481.86,352.35 482.60,499.60 483.34,643.89 484.09,764.25 484.83,843.09 485.57,868.79 486.31,837.36 487.05,753.13 487.80,628.11 488.54,480.26 489.28,330.98 490.02,201.92 490.76,111.91 491.51,74.18 492.25,94.40 492.99,169.88 493.73,289.86 494.47,437.09 495.22,590.31 495.96,727.29 496.70,828.09 497.44,877.95 498.18,869.45 498.93,803.62 499.67,689.82 500.41,544.41 501.15,388.39 501.89,244.37 502.64,133.29 503.38,71.37 504.12,67.75 504.86,123.14 505.60,229.66 506.35,372.02 507.09,529.65 507.83,679.72 508.57,800.45 509.31,874.22 510.06,890.23 510.80,845.98 511.54,747.76 512.28,609.68 513.02,451.67 513.77,296.62 514.51,167.01 515.25,81.71 515.99,53.19 516.73,85.71 517.48,174.68 518.22,307.30 518.96,464.43 519.70,623.32 520.44,760.94 521.19,857.28 521.93,898.30 522.67,877.96 523.41,799.11 524.15,673.09 524.90,518.10 525.64,356.57 526.38,211.92 527.12,105.15 527.86,51.78 528.61,59.62 529.35,127.60 530.09,245.94 530.83,397.54 531.57,560.45 532.32,711.07 533.06,827.55 533.80,892.97 534.54,897.81 535.28,841.33 536.03,731.67 536.77,584.68 537.51,421.66 538.25,266.22 538.99,140.89 539.74,63.85 540.48,46.29 541.22,90.76 541.96,190.84 542.70,332.03 543.45,493.89 544.19,652.95 544.93,786.18 545.67,874.26 546.41,904.44 547.16,872.35 547.90,782.66 548.64,648.37 549.38,488.95 550.12,327.50 550.87,187.42 551.61,88.99 552.35,46.45 553.09,65.92 553.83,144.55 554.58,270.90 555.32,426.65 556.06,589.20 556.80,735.01 557.54,842.98 558.29,897.50 559.03,890.73 559.77,823.72 560.51,706.24 561.25,555.37 562.00,392.99 562.74,242.62 563.48,126.04 564.22,60.07 564.96,54.18 565.71,109.15 566.45,216.92 567.19,361.79 567.93,522.74 568.67,676.43 569.42,800.62 570.16,877.40 570.90,895.74 571.64,853.09 572.38,755.75 573.13,617.93 573.87,459.66 574.61,303.89 575.35,173.17 576.09,86.35 576.84,55.90 577.58,86.10 578.32,172.41 579.06,302.22 579.80,456.62 580.55,613.20 581.29,749.31 582.03,845.30 582.77,887.40 583.51,869.65 584.26,794.82 585.00,673.89 585.74,524.49 586.48,368.33 587.22,228.02 587.97,123.82 588.71,70.67 589.45,76.11 590.19,139.14 590.93,250.46 591.68,393.80 592.42,548.30 593.16,691.60 593.90,802.99 594.64,866.48 595.39,873.07 596.13,822.02 596.87,720.94 597.61,584.63 598.35,432.94 599.10,287.89 599.84,170.40 600.58,97.37 601.32,79.16 602.06,118.18 602.81,208.55 603.55,336.97 604.29,484.70 605.03,630.32 605.77,752.76 606.52,834.44 607.26,863.73 608.00,836.64 608.74,757.36 609.48,637.59 610.23,494.84 610.97,349.86 611.71,223.61 612.45,134.26 613.19,94.52 613.94,109.90 614.68,177.88 615.42,288.37 616.16,425.17 616.90,568.37 617.65,697.25 618.39,793.26 619.13,842.70 619.87,838.68 620.61,782.09 621.36,681.40 622.10,551.41 622.84,411.07 623.58,280.71 624.32,179.12 625.07,120.80 625.81,113.92 626.55,159.16 627.29,249.67 628.03,372.10 628.78,508.56 629.52,639.26 630.26,745.34 631.00,811.65 631.74,828.86 632.49,794.80 633.23,714.72 633.97,600.50 634.71,468.85 635.45,338.92 636.20,229.44 636.94,156.09 637.68,129.22 638.42,152.39 639.16,221.90 639.91,327.39 640.65,453.38 641.39,581.52 642.13,693.29 642.87,772.69 643.62,808.48 644.36,795.80 645.10,736.86 645.84,640.50 646.58,520.93 647.33,395.56 648.07,282.55 648.81,198.12" stroke="#8ec4c8" stroke-dasharray="1.5 1"/></g><path d="M422.5 18.4V152.1H645.1" fill="none" stroke="#333" stroke-width="1"/><path d="M421.0 152.10H422.5M420.0 144.24H422.5M421.0 136.37H422.5M420.0 128.51H422.5M421.0 120.64H422.5M420.0 112.78H422.5M421.0 104.91H422.5M420.0 97.05H422.5M421.0 89.18H422.5M420.0 81.32H422.5M421.0 73.45H422.5M420.0 65.59H422.5M421.0 57.72H422.5M420.0 49.86H422.5M421.0 41.99H422.5M420.0 34.13H422.5M421.0 26.26H422.5M422.50 152.1V154.6M441.05 152.1V153.6M459.60 152.1V154.6M478.15 152.1V153.6M496.70 152.1V154.6M515.25 152.1V153.6M533.80 152.1V154.6M552.35 152.1V153.6M570.90 152.1V154.6M589.45 152.1V153.6M608.00 152.1V154.6M626.55 152.1V153.6M645.10 152.1V154.6" stroke="#333" stroke-width="0.8" fill="none"/><text transform="translate(418.2 146.84) scale(1 1.3)" font-size="6.5" fill="#333" text-anchor="end">0.42</text><text transform="translate(418.2 131.11) scale(1 1.3)" font-size="6.5" fill="#333" text-anchor="end">0.44</text><text transform="translate(418.2 115.38) scale(1 1.3)" font-size="6.5" fill="#333" text-anchor="end">0.46</text><text transform="translate(418.2 99.65) scale(1 1.3)" font-size="6.5" fill="#333" text-anchor="end">0.48</text><text transform="translate(418.2 83.92) scale(1 1.3)" font-size="6.5" fill="#333" text-anchor="end">0.50</text><text transform="translate(418.2 68.19) scale(1 1.3)" font-size="6.5" fill="#333" text-anchor="end">0.52</text><text transform="translate(418.2 52.46) scale(1 1.3)" font-size="6.5" fill="#333" text-anchor="end">0.54</text><text transform="translate(418.2 36.73) scale(1 1.3)" font-size="6.5" fill="#333" text-anchor="end">0.56</text><text transform="translate(422.50 162) scale(1 1.3)" font-size="6.5" fill="#333" text-anchor="middle">1200</text><text transform="translate(459.60 162) scale(1 1.3)" font-size="6.5" fill="#333" text-anchor="middle">1250</text><text transform="translate(496.70 162) scale(1 1.3)" font-size="6.5" fill="#333" text-anchor="middle">1300</text><text transform="translate(533.80 162) scale(1 1.3)" font-size="6.5" fill="#333" text-anchor="middle">1350</text><text transform="translate(570.90 162) scale(1 1.3)" font-size="6.5" fill="#333" text-anchor="middle">1400</text><text transform="translate(608.00 162) scale(1 1.3)" font-size="6.5" fill="#333" text-anchor="middle">1450</text><text transform="translate(645.10 162) scale(1 1.3)" font-size="6.5" fill="#333" text-anchor="middle">1500</text><rect x="433.6" y="383" width="221.8" height="79" fill="#fff" stroke="#5a5a5a" stroke-width="1.4"/><path d="M436.2 393.9H471.4" stroke="#353535" stroke-width="2.2" stroke-linecap="round"/><path d="M435.8 413.2H467" stroke="#e8403c" stroke-width="2.1" stroke-linecap="round" stroke-dasharray="2.4 11.05"/><path d="M446.6 432.6H461M453.6 425.5V439.5" stroke="#1a62d8" stroke-width="1.5"/><path d="M436.45 432.6H467" stroke="#1a62d8" stroke-width="2.6" stroke-linecap="round" stroke-dasharray="8.1 5.05 0 4.85" stroke-dashoffset="1.9"/><path d="M436.2 451.8H469" stroke="#2ca25e" stroke-width="2.3" stroke-linecap="round" stroke-dasharray="0 4.5"/><path d="M445.5 443.9L461.9 459.5M445.5 459.5L461.9 443.9" stroke="#2ca25e" stroke-width="1.4"/><text x="475.3" y="398.8" font-size="15.7">FDTD-HO-PML</text><text x="475.3" y="417.7" font-size="15.7">CNDG-HO-PML CFLN=1</text><text x="475.3" y="436.6" font-size="15.7">CNDG-HO-PML CFLN=10</text><text x="475.3" y="455.7" font-size="15.7">CNDG-HO-PML CFLN=20</text></svg></body></html>
